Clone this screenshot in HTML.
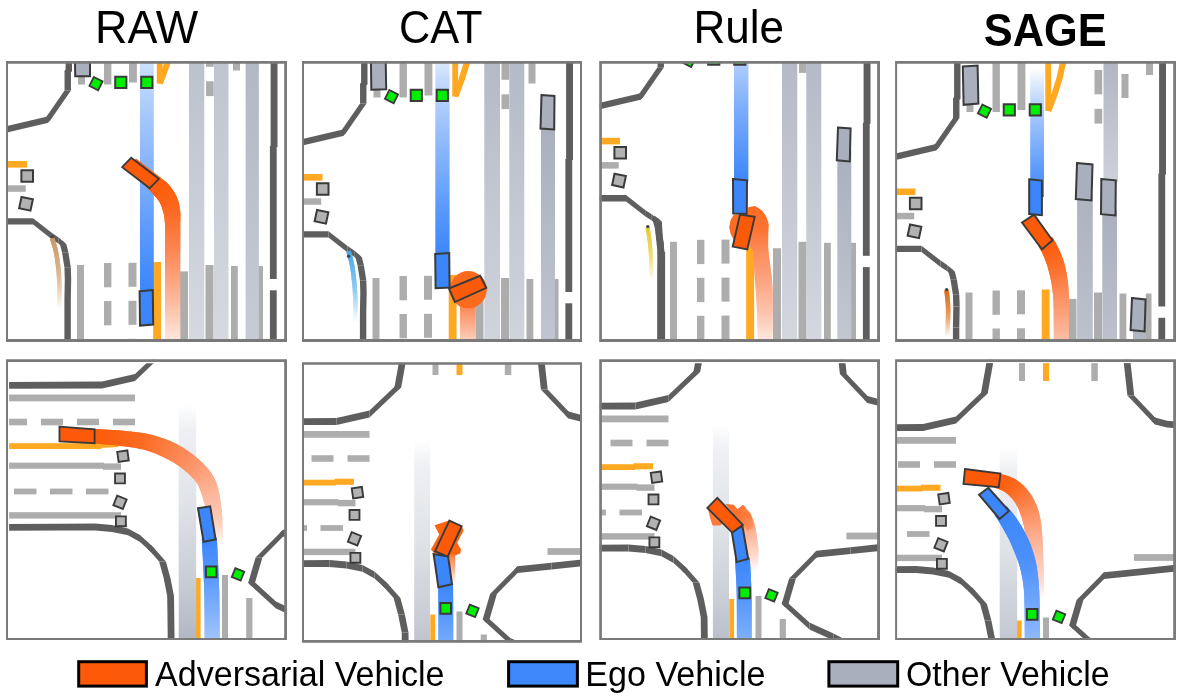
<!DOCTYPE html>
<html><head><meta charset="utf-8"><title>figure</title>
<style>html,body{margin:0;padding:0;background:#fff;}svg{display:block;}text{font-family:"Liberation Sans",sans-serif;}</style></head>
<body>
<svg width="1181" height="697" viewBox="0 0 1181 697">
<rect width="1181" height="697" fill="#fff"/>
<defs>
<clipPath id="cp1"><rect x="6.5" y="61.6" width="280" height="279.8"/></clipPath>
<linearGradient id="g1" x1="0" y1="0" x2="0" y2="1"><stop offset="0" stop-color="#bcc2cc" stop-opacity="1"/><stop offset="1" stop-color="#d6d9df" stop-opacity="1"/></linearGradient>
<linearGradient id="g2" x1="0" y1="0" x2="0" y2="1"><stop offset="0" stop-color="#bfc4ce" stop-opacity="1"/><stop offset="1" stop-color="#d6d9df" stop-opacity="1"/></linearGradient>
<linearGradient id="g3" x1="0" y1="0" x2="0" y2="1"><stop offset="0" stop-color="#b2b8c4" stop-opacity="1"/><stop offset="1" stop-color="#c6cbd4" stop-opacity="1"/></linearGradient>
<linearGradient id="g4" x1="0" y1="0" x2="0" y2="1"><stop offset="0" stop-color="#e4eefd" stop-opacity="1"/><stop offset="0.12" stop-color="#c4dafc" stop-opacity="1"/><stop offset="0.45" stop-color="#8cb8fb" stop-opacity="1"/><stop offset="0.8" stop-color="#5496fb" stop-opacity="1"/><stop offset="1" stop-color="#3c86fb" stop-opacity="1"/></linearGradient>
<clipPath id="cp2"><rect x="302.5" y="61.6" width="279" height="279.8"/></clipPath>
<linearGradient id="g5" x1="0" y1="0" x2="0" y2="1"><stop offset="0" stop-color="#b4bac6" stop-opacity="1"/><stop offset="1" stop-color="#d0d4db" stop-opacity="1"/></linearGradient>
<linearGradient id="g6" x1="0" y1="0" x2="0" y2="1"><stop offset="0" stop-color="#b4bac6" stop-opacity="1"/><stop offset="1" stop-color="#d0d4db" stop-opacity="1"/></linearGradient>
<linearGradient id="g7" x1="0" y1="0" x2="0" y2="1"><stop offset="0" stop-color="#a9afbd" stop-opacity="1"/><stop offset="1" stop-color="#c0c5cf" stop-opacity="1"/></linearGradient>
<linearGradient id="g8" x1="0" y1="0" x2="0" y2="1"><stop offset="0" stop-color="#e4eefd" stop-opacity="1"/><stop offset="0.12" stop-color="#c4dafc" stop-opacity="1"/><stop offset="0.45" stop-color="#8cb8fb" stop-opacity="1"/><stop offset="0.8" stop-color="#5496fb" stop-opacity="1"/><stop offset="1" stop-color="#3c86fb" stop-opacity="1"/></linearGradient>
<linearGradient id="g9" x1="0" y1="0" x2="0" y2="1"><stop offset="0" stop-color="#fc7c3c" stop-opacity="1"/><stop offset="0.3" stop-color="#fc9468" stop-opacity="1"/><stop offset="1" stop-color="#fdd2c0" stop-opacity="1"/></linearGradient>
<clipPath id="cp3"><rect x="599.7" y="61.6" width="279.8" height="279.8"/></clipPath>
<linearGradient id="g10" x1="0" y1="0" x2="0" y2="1"><stop offset="0" stop-color="#b4bac6" stop-opacity="1"/><stop offset="1" stop-color="#d4d7de" stop-opacity="1"/></linearGradient>
<linearGradient id="g11" x1="0" y1="0" x2="0" y2="1"><stop offset="0" stop-color="#b4bac6" stop-opacity="1"/><stop offset="1" stop-color="#d4d7de" stop-opacity="1"/></linearGradient>
<linearGradient id="g12" x1="0" y1="0" x2="0" y2="1"><stop offset="0" stop-color="#a9afbd" stop-opacity="1"/><stop offset="1" stop-color="#c2c7d0" stop-opacity="1"/></linearGradient>
<linearGradient id="g13" x1="0" y1="0" x2="0" y2="1"><stop offset="0" stop-color="#b4d0fc" stop-opacity="1"/><stop offset="0.4" stop-color="#7cacfb" stop-opacity="1"/><stop offset="1" stop-color="#3c86fb" stop-opacity="1"/></linearGradient>
<linearGradient id="g14" x1="0" y1="0" x2="0" y2="1"><stop offset="0" stop-color="#fc6a20" stop-opacity="1"/><stop offset="0.5" stop-color="#fc7432" stop-opacity="1"/><stop offset="1" stop-color="#fc8c5a" stop-opacity="1"/></linearGradient>
<clipPath id="cp4"><rect x="895.6" y="61.6" width="279.9" height="279.8"/></clipPath>
<linearGradient id="g15" x1="0" y1="0" x2="0" y2="1"><stop offset="0" stop-color="#adb3bf" stop-opacity="1"/><stop offset="1" stop-color="#bcc1cc" stop-opacity="1"/></linearGradient>
<linearGradient id="g16" x1="0" y1="0" x2="0" y2="1"><stop offset="0" stop-color="#b0b6c2" stop-opacity="1"/><stop offset="1" stop-color="#cdd1d9" stop-opacity="1"/></linearGradient>
<linearGradient id="g17" x1="0" y1="0" x2="0" y2="1"><stop offset="0" stop-color="#a9afbd" stop-opacity="1"/><stop offset="1" stop-color="#bcc1cc" stop-opacity="1"/></linearGradient>
<linearGradient id="g18" x1="0" y1="0" x2="0" y2="1"><stop offset="0" stop-color="#a9afbd" stop-opacity="1"/><stop offset="1" stop-color="#b4bac6" stop-opacity="1"/></linearGradient>
<linearGradient id="g19" x1="0" y1="0" x2="0" y2="1"><stop offset="0" stop-color="#ffffff" stop-opacity="1"/><stop offset="0.1" stop-color="#e4eefd" stop-opacity="1"/><stop offset="0.35" stop-color="#a8c8fc" stop-opacity="1"/><stop offset="0.7" stop-color="#6aa4fb" stop-opacity="1"/><stop offset="1" stop-color="#3c86fb" stop-opacity="1"/></linearGradient>
<clipPath id="cp5"><rect x="6.5" y="359.7" width="280" height="279.8"/></clipPath>
<linearGradient id="g20" x1="0" y1="0" x2="0" y2="1"><stop offset="0" stop-color="#eef0f3" stop-opacity="0"/><stop offset="0.1" stop-color="#eef0f3" stop-opacity="1"/><stop offset="0.4" stop-color="#dfe2e7" stop-opacity="1"/><stop offset="0.7" stop-color="#c8ccd4" stop-opacity="1"/><stop offset="1" stop-color="#a9afbd" stop-opacity="1"/></linearGradient>
<clipPath id="cp6"><rect x="302.5" y="362.7" width="279" height="279.6"/></clipPath>
<linearGradient id="g21" x1="0" y1="0" x2="0" y2="1"><stop offset="0" stop-color="#eef0f3" stop-opacity="0"/><stop offset="0.1" stop-color="#eef0f3" stop-opacity="1"/><stop offset="0.4" stop-color="#dfe2e7" stop-opacity="1"/><stop offset="0.7" stop-color="#c8ccd4" stop-opacity="1"/><stop offset="1" stop-color="#a9afbd" stop-opacity="1"/></linearGradient>
<linearGradient id="g22" x1="0" y1="0" x2="0" y2="1"><stop offset="0" stop-color="#fc7c40" stop-opacity="1"/><stop offset="0.45" stop-color="#fca680" stop-opacity="0.85"/><stop offset="1" stop-color="#fdd0c0" stop-opacity="0"/></linearGradient>
<clipPath id="cp7"><rect x="599.7" y="359.7" width="279.8" height="279.8"/></clipPath>
<linearGradient id="g23" x1="0" y1="0" x2="0" y2="1"><stop offset="0" stop-color="#eef0f3" stop-opacity="0"/><stop offset="0.1" stop-color="#eef0f3" stop-opacity="1"/><stop offset="0.4" stop-color="#dfe2e7" stop-opacity="1"/><stop offset="0.7" stop-color="#c8ccd4" stop-opacity="1"/><stop offset="1" stop-color="#a9afbd" stop-opacity="1"/></linearGradient>
<linearGradient id="g24" x1="0" y1="0" x2="1" y2="1"><stop offset="0" stop-color="#fc6a20" stop-opacity="1"/><stop offset="0.5" stop-color="#fc7636" stop-opacity="1"/><stop offset="1" stop-color="#fc9468" stop-opacity="1"/></linearGradient>
<clipPath id="cp8"><rect x="895.6" y="359.7" width="279.9" height="279.8"/></clipPath>
<linearGradient id="g25" x1="0" y1="0" x2="0" y2="1"><stop offset="0" stop-color="#eef0f3" stop-opacity="0"/><stop offset="0.1" stop-color="#eef0f3" stop-opacity="1"/><stop offset="0.4" stop-color="#dfe2e7" stop-opacity="1"/><stop offset="0.7" stop-color="#c8ccd4" stop-opacity="1"/><stop offset="1" stop-color="#a9afbd" stop-opacity="1"/></linearGradient>
</defs>
<g clip-path="url(#cp1)">
<g transform="translate(0,0)">
<rect x="180" y="271.4" width="8" height="108.6" fill="#adadad"/>
<rect x="205.5" y="265" width="8" height="115" fill="#adadad"/>
<rect x="231" y="266" width="6.8" height="114" fill="#adadad"/>
<rect x="257.3" y="266" width="5.7" height="114" fill="#adadad"/>
<rect x="206" y="42.5" width="7.7" height="24.3" fill="#adadad"/>
<rect x="206" y="81.3" width="7.7" height="14.8" fill="#adadad"/>
<rect x="233" y="46.5" width="7" height="24" fill="#adadad"/>
<rect x="257.5" y="20" width="7" height="27.5" fill="#adadad"/>
<rect x="78" y="76" width="7" height="8.5" fill="#adadad"/>
<rect x="77" y="265" width="7" height="115" fill="#adadad"/>
<rect x="104" y="20" width="7.4" height="64.5" fill="#adadad"/>
<rect x="129" y="20" width="7.9" height="62.5" fill="#adadad"/>
<rect x="104" y="263" width="7.4" height="24.3" fill="#adadad"/>
<rect x="128.5" y="262.8" width="8" height="24" fill="#adadad"/>
<rect x="104" y="301" width="7.4" height="24.3" fill="#adadad"/>
<rect x="128.5" y="300.8" width="8" height="24" fill="#adadad"/>
<rect x="104" y="339" width="7.4" height="24.3" fill="#adadad"/>
<rect x="128.5" y="338.8" width="8" height="24" fill="#adadad"/>
<rect x="153.2" y="262" width="7.9" height="118" fill="#ffa922"/>
<rect x="0" y="161" width="27" height="6.6" fill="#ffa922"/>
<rect x="156.8" y="20" width="5.8" height="63.5" fill="#ffa922"/>
<polyline points="177,22 174.3,36 171,51 166,67 159.8,83.5" fill="none" stroke="#ffa922" stroke-width="6.2" stroke-linejoin="miter" stroke-linecap="butt"/>
<rect x="0" y="185.3" width="25.7" height="6.5" fill="#adadad"/>
<g fill="#5e5e5e"><path d="M65.6 10L65.6 70.9L72 70.9L72 10Z"/><path d="M68.8 67.7L67.75 67.8L67.75 74.2L68.8 74.1Z"/><path d="M64.55 71L64.55 90.4L70.95 90.4L70.95 71Z"/><path d="M64.55 90.4L44.3 119.7L50.7 119.7L70.95 90.4Z"/><path d="M47.5 116.5L7 126L7 132.4L47.5 122.9Z"/><path d="M7 126L-10 130L-10 136.4L7 132.4Z"/><path d="M65.6 70.9L72 70.9L68.8 74.1L68.8 67.7Z"/><path d="M65.6 70.9L72 70.9L68.8 67.7L68.8 74.1Z"/><path d="M65.6 70.9L68.8 67.7L72 70.9L68.8 74.1Z"/><path d="M67.75 67.8L67.75 74.2L70.95 71L64.55 71Z"/><path d="M67.75 67.8L67.75 74.2L64.55 71L70.95 71Z"/><path d="M67.75 67.8L64.55 71L67.75 74.2L70.95 71Z"/><path d="M64.55 90.4L70.95 90.4L70.95 90.4L64.55 90.4Z"/><path d="M64.55 90.4L70.95 90.4L64.55 90.4L70.95 90.4Z"/><path d="M64.55 90.4L64.55 90.4L70.95 90.4L70.95 90.4Z"/><path d="M44.3 119.7L50.7 119.7L47.5 122.9L47.5 116.5Z"/><path d="M44.3 119.7L50.7 119.7L47.5 116.5L47.5 122.9Z"/><path d="M44.3 119.7L47.5 116.5L50.7 119.7L47.5 122.9Z"/><path d="M7 126L7 132.4L7 132.4L7 126Z"/><path d="M7 126L7 132.4L7 126L7 132.4Z"/><path d="M7 126L7 126L7 132.4L7 132.4Z"/></g>
<g fill="#5e5e5e"><path d="M-10 218.2L33 218.2L33 224.6L-10 224.6Z"/><path d="M33 218.2L52.1 233.1L52.1 239.5L33 224.6Z"/><path d="M52.1 233.1L58.7 237.4L58.7 243.8L52.1 239.5Z"/><path d="M58.7 237.4L63.2 241.3L63.2 247.7L58.7 243.8Z"/><path d="M60 244.5L62 252.3L68.4 252.3L66.4 244.5Z"/><path d="M62 252.3L64.4 267.2L70.8 267.2L68.4 252.3Z"/><path d="M64.4 267.2L64.8 279L71.2 279L70.8 267.2Z"/><path d="M64.8 279L64.4 300L70.8 300L71.2 279Z"/><path d="M64.4 300L64.4 390L70.8 390L70.8 300Z"/><path d="M33 218.2L33 224.6L33 224.6L33 218.2Z"/><path d="M33 218.2L33 224.6L33 218.2L33 224.6Z"/><path d="M33 218.2L33 218.2L33 224.6L33 224.6Z"/><path d="M52.1 233.1L52.1 239.5L52.1 239.5L52.1 233.1Z"/><path d="M52.1 233.1L52.1 239.5L52.1 233.1L52.1 239.5Z"/><path d="M52.1 233.1L52.1 233.1L52.1 239.5L52.1 239.5Z"/><path d="M58.7 237.4L58.7 243.8L58.7 243.8L58.7 237.4Z"/><path d="M58.7 237.4L58.7 243.8L58.7 237.4L58.7 243.8Z"/><path d="M58.7 237.4L58.7 237.4L58.7 243.8L58.7 243.8Z"/><path d="M63.2 241.3L63.2 247.7L66.4 244.5L60 244.5Z"/><path d="M63.2 241.3L63.2 247.7L60 244.5L66.4 244.5Z"/><path d="M63.2 241.3L60 244.5L63.2 247.7L66.4 244.5Z"/><path d="M62 252.3L68.4 252.3L68.4 252.3L62 252.3Z"/><path d="M62 252.3L68.4 252.3L62 252.3L68.4 252.3Z"/><path d="M62 252.3L62 252.3L68.4 252.3L68.4 252.3Z"/><path d="M64.4 267.2L70.8 267.2L70.8 267.2L64.4 267.2Z"/><path d="M64.4 267.2L70.8 267.2L64.4 267.2L70.8 267.2Z"/><path d="M64.4 267.2L64.4 267.2L70.8 267.2L70.8 267.2Z"/><path d="M64.8 279L71.2 279L71.2 279L64.8 279Z"/><path d="M64.8 279L71.2 279L64.8 279L71.2 279Z"/><path d="M64.8 279L64.8 279L71.2 279L71.2 279Z"/><path d="M64.4 300L70.8 300L70.8 300L64.4 300Z"/><path d="M64.4 300L70.8 300L64.4 300L70.8 300Z"/><path d="M64.4 300L64.4 300L70.8 300L70.8 300Z"/></g>
<rect x="270.6" y="10" width="6.9" height="137" fill="#5e5e5e"/>
<rect x="269.9" y="146" width="6.8" height="133" fill="#5e5e5e"/>
<rect x="269.9" y="290.3" width="6.8" height="99.7" fill="#5e5e5e"/>
</g>
<rect x="189" y="60" width="15.3" height="282" fill="url(#g1)"/>
<rect x="214" y="60" width="14.5" height="282" fill="url(#g2)"/>
<rect x="245.6" y="60" width="13.3" height="282" fill="url(#g3)"/>
<line x1="52" y1="238" x2="52.65" y2="240.09" stroke="#c89868" stroke-width="4.5" stroke-opacity="1"/>
<line x1="52.28" y1="238.92" x2="53.09" y2="241.48" stroke="#c99969" stroke-width="4.5" stroke-opacity="0.99"/>
<line x1="52.65" y1="240.09" x2="53.59" y2="243.04" stroke="#c99a6b" stroke-width="4.5" stroke-opacity="0.98"/>
<line x1="53.09" y1="241.48" x2="54.11" y2="244.74" stroke="#ca9b6c" stroke-width="4.5" stroke-opacity="0.97"/>
<line x1="53.59" y1="243.04" x2="54.63" y2="246.52" stroke="#cb9c6e" stroke-width="4.5" stroke-opacity="0.96"/>
<line x1="54.11" y1="244.74" x2="55.14" y2="248.35" stroke="#cc9d6f" stroke-width="4.5" stroke-opacity="0.94"/>
<line x1="54.63" y1="246.52" x2="55.6" y2="250.19" stroke="#cc9f71" stroke-width="4.5" stroke-opacity="0.93"/>
<line x1="55.14" y1="248.35" x2="56" y2="252" stroke="#cda073" stroke-width="4.5" stroke-opacity="0.92"/>
<line x1="55.6" y1="250.19" x2="56.27" y2="253.35" stroke="#cea174" stroke-width="4.5" stroke-opacity="0.9"/>
<line x1="56" y1="252" x2="56.52" y2="254.75" stroke="#cfa276" stroke-width="4.5" stroke-opacity="0.89"/>
<line x1="56.27" y1="253.35" x2="56.77" y2="256.17" stroke="#d0a377" stroke-width="4.5" stroke-opacity="0.88"/>
<line x1="56.52" y1="254.75" x2="57" y2="257.63" stroke="#d0a478" stroke-width="4.5" stroke-opacity="0.87"/>
<line x1="56.77" y1="256.17" x2="57.22" y2="259.12" stroke="#d1a57a" stroke-width="4.5" stroke-opacity="0.86"/>
<line x1="57" y1="257.63" x2="57.44" y2="260.62" stroke="#d2a67b" stroke-width="4.5" stroke-opacity="0.85"/>
<line x1="57.22" y1="259.12" x2="57.64" y2="262.16" stroke="#d2a77c" stroke-width="4.5" stroke-opacity="0.84"/>
<line x1="57.44" y1="260.62" x2="57.83" y2="263.7" stroke="#d3a87e" stroke-width="4.5" stroke-opacity="0.83"/>
<line x1="57.64" y1="262.16" x2="58.02" y2="265.27" stroke="#d4a97f" stroke-width="4.5" stroke-opacity="0.82"/>
<line x1="57.83" y1="263.7" x2="58.19" y2="266.84" stroke="#d4aa81" stroke-width="4.5" stroke-opacity="0.81"/>
<line x1="58.02" y1="265.27" x2="58.35" y2="268.42" stroke="#d5ac82" stroke-width="4.5" stroke-opacity="0.8"/>
<line x1="58.19" y1="266.84" x2="58.5" y2="270" stroke="#d6ad83" stroke-width="4.5" stroke-opacity="0.79"/>
<line x1="58.35" y1="268.42" x2="58.63" y2="271.48" stroke="#d6ae85" stroke-width="4.5" stroke-opacity="0.77"/>
<line x1="58.5" y1="270" x2="58.75" y2="272.99" stroke="#d7af86" stroke-width="4.5" stroke-opacity="0.76"/>
<line x1="58.63" y1="271.48" x2="58.86" y2="274.52" stroke="#d8b088" stroke-width="4.5" stroke-opacity="0.75"/>
<line x1="58.75" y1="272.99" x2="58.97" y2="276.07" stroke="#d9b189" stroke-width="4.5" stroke-opacity="0.73"/>
<line x1="58.86" y1="274.52" x2="59.06" y2="277.64" stroke="#d9b28a" stroke-width="4.5" stroke-opacity="0.69"/>
<line x1="58.97" y1="276.07" x2="59.15" y2="279.21" stroke="#dab38c" stroke-width="4.5" stroke-opacity="0.66"/>
<line x1="59.06" y1="277.64" x2="59.22" y2="280.79" stroke="#dbb48d" stroke-width="4.5" stroke-opacity="0.63"/>
<line x1="59.15" y1="279.21" x2="59.29" y2="282.36" stroke="#dbb58f" stroke-width="4.5" stroke-opacity="0.59"/>
<line x1="59.22" y1="280.79" x2="59.35" y2="283.93" stroke="#dcb690" stroke-width="4.5" stroke-opacity="0.56"/>
<line x1="59.29" y1="282.36" x2="59.4" y2="285.48" stroke="#ddb792" stroke-width="4.5" stroke-opacity="0.53"/>
<line x1="59.35" y1="283.93" x2="59.44" y2="287.01" stroke="#ddb893" stroke-width="4.5" stroke-opacity="0.49"/>
<line x1="59.4" y1="285.48" x2="59.48" y2="288.52" stroke="#deb994" stroke-width="4.5" stroke-opacity="0.46"/>
<line x1="59.44" y1="287.01" x2="59.5" y2="290" stroke="#dfba96" stroke-width="4.5" stroke-opacity="0.43"/>
<line x1="59.48" y1="288.52" x2="59.51" y2="291.63" stroke="#e0bb97" stroke-width="4.5" stroke-opacity="0.4"/>
<line x1="59.5" y1="290" x2="59.5" y2="293.32" stroke="#e0bc98" stroke-width="4.5" stroke-opacity="0.36"/>
<line x1="59.51" y1="291.63" x2="59.47" y2="295.06" stroke="#e1bd9a" stroke-width="4.5" stroke-opacity="0.33"/>
<line x1="59.5" y1="293.32" x2="59.43" y2="296.81" stroke="#e2bf9c" stroke-width="4.5" stroke-opacity="0.29"/>
<line x1="59.47" y1="295.06" x2="59.37" y2="298.55" stroke="#e3c09d" stroke-width="4.5" stroke-opacity="0.26"/>
<line x1="59.43" y1="296.81" x2="59.31" y2="300.25" stroke="#e3c19f" stroke-width="4.5" stroke-opacity="0.22"/>
<line x1="59.37" y1="298.55" x2="59.25" y2="301.88" stroke="#e4c2a0" stroke-width="4.5" stroke-opacity="0.18"/>
<line x1="59.31" y1="300.25" x2="59.19" y2="303.41" stroke="#e5c3a2" stroke-width="4.5" stroke-opacity="0.15"/>
<line x1="59.25" y1="301.88" x2="59.12" y2="304.81" stroke="#e6c4a3" stroke-width="4.5" stroke-opacity="0.11"/>
<line x1="59.19" y1="303.41" x2="59.07" y2="306.06" stroke="#e6c5a4" stroke-width="4.5" stroke-opacity="0.08"/>
<line x1="59.12" y1="304.81" x2="59.03" y2="307.14" stroke="#e7c6a6" stroke-width="4.5" stroke-opacity="0.05"/>
<line x1="59.07" y1="306.06" x2="59" y2="308" stroke="#e7c7a7" stroke-width="4.5" stroke-opacity="0.03"/>
<line x1="59.03" y1="307.14" x2="59" y2="308" stroke="#e8c8a8" stroke-width="4.5" stroke-opacity="0.01"/>
<rect x="140" y="42.5" width="13.8" height="249.5" fill="url(#g4)"/>
<line x1="150" y1="180" x2="151.86" y2="181.5" stroke="#fc5a08" stroke-width="15.13"/>
<line x1="150.79" y1="180.65" x2="153.13" y2="182.52" stroke="#fc5b09" stroke-width="15.43"/>
<line x1="151.86" y1="181.5" x2="154.53" y2="183.66" stroke="#fc5b0a" stroke-width="15.81"/>
<line x1="153.13" y1="182.52" x2="155.99" y2="184.87" stroke="#fc5c0b" stroke-width="16.24"/>
<line x1="154.53" y1="183.66" x2="157.44" y2="186.11" stroke="#fc5c0c" stroke-width="16.71"/>
<line x1="155.99" y1="184.87" x2="158.8" y2="187.33" stroke="#fc5d0d" stroke-width="17.19"/>
<line x1="157.44" y1="186.11" x2="160" y2="188.5" stroke="#fc5d0e" stroke-width="17.66"/>
<line x1="158.8" y1="187.33" x2="161.08" y2="189.63" stroke="#fc5e0e" stroke-width="17.99"/>
<line x1="160" y1="188.5" x2="162.14" y2="190.77" stroke="#fc5f0f" stroke-width="17.95"/>
<line x1="161.08" y1="189.63" x2="163.16" y2="191.92" stroke="#fc5f10" stroke-width="17.92"/>
<line x1="162.14" y1="190.77" x2="164.14" y2="193.09" stroke="#fc6011" stroke-width="17.88"/>
<line x1="163.16" y1="191.92" x2="165.07" y2="194.28" stroke="#fc6012" stroke-width="17.85"/>
<line x1="164.14" y1="193.09" x2="165.94" y2="195.5" stroke="#fc6112" stroke-width="17.82"/>
<line x1="165.07" y1="194.28" x2="166.76" y2="196.73" stroke="#fc6113" stroke-width="17.78"/>
<line x1="165.94" y1="195.5" x2="167.5" y2="198" stroke="#fc6214" stroke-width="17.75"/>
<line x1="166.76" y1="196.73" x2="168.26" y2="199.48" stroke="#fc6215" stroke-width="17.71"/>
<line x1="167.5" y1="198" x2="168.93" y2="200.98" stroke="#fc6316" stroke-width="17.68"/>
<line x1="168.26" y1="199.48" x2="169.52" y2="202.5" stroke="#fc6317" stroke-width="17.64"/>
<line x1="168.93" y1="200.98" x2="170.04" y2="204.07" stroke="#fc6417" stroke-width="17.6"/>
<line x1="169.52" y1="202.5" x2="170.5" y2="205.67" stroke="#fc6419" stroke-width="17.57"/>
<line x1="170.04" y1="204.07" x2="170.92" y2="207.31" stroke="#fc651b" stroke-width="17.53"/>
<line x1="170.5" y1="205.67" x2="171.3" y2="209" stroke="#fc671d" stroke-width="17.45"/>
<line x1="170.92" y1="207.31" x2="171.59" y2="210.36" stroke="#fc681f" stroke-width="17.22"/>
<line x1="171.3" y1="209" x2="171.83" y2="211.52" stroke="#fc6921" stroke-width="17.01"/>
<line x1="171.59" y1="210.36" x2="172.03" y2="212.63" stroke="#fc6a22" stroke-width="16.83"/>
<line x1="171.83" y1="211.52" x2="172.19" y2="213.81" stroke="#fc6b24" stroke-width="16.68"/>
<line x1="172.03" y1="212.63" x2="172.32" y2="215.21" stroke="#fc6b25" stroke-width="16.52"/>
<line x1="172.19" y1="213.81" x2="172.43" y2="216.95" stroke="#fc6c27" stroke-width="16.35"/>
<line x1="172.32" y1="215.21" x2="172.52" y2="219.17" stroke="#fc6d28" stroke-width="16.13"/>
<line x1="172.43" y1="216.95" x2="172.6" y2="222" stroke="#fc6f2b" stroke-width="15.86"/>
<line x1="172.52" y1="219.17" x2="172.62" y2="223.06" stroke="#fc712e" stroke-width="15.52"/>
<line x1="172.6" y1="222" x2="172.64" y2="224.19" stroke="#fc7230" stroke-width="15.26"/>
<line x1="172.62" y1="223.06" x2="172.66" y2="225.39" stroke="#fc7332" stroke-width="15.2"/>
<line x1="172.64" y1="224.19" x2="172.67" y2="226.65" stroke="#fc7333" stroke-width="15.2"/>
<line x1="172.66" y1="225.39" x2="172.68" y2="227.97" stroke="#fc7435" stroke-width="15.2"/>
<line x1="172.67" y1="226.65" x2="172.69" y2="229.34" stroke="#fc7536" stroke-width="15.2"/>
<line x1="172.68" y1="227.97" x2="172.69" y2="230.77" stroke="#fc7638" stroke-width="15.2"/>
<line x1="172.69" y1="229.34" x2="172.7" y2="232.24" stroke="#fc773a" stroke-width="15.2"/>
<line x1="172.69" y1="230.77" x2="172.7" y2="233.75" stroke="#fc783b" stroke-width="15.2"/>
<line x1="172.7" y1="232.24" x2="172.69" y2="235.3" stroke="#fc793d" stroke-width="15.2"/>
<line x1="172.7" y1="233.75" x2="172.69" y2="236.89" stroke="#fc7a3f" stroke-width="15.2"/>
<line x1="172.69" y1="235.3" x2="172.68" y2="238.5" stroke="#fc7b41" stroke-width="15.2"/>
<line x1="172.69" y1="236.89" x2="172.68" y2="240.13" stroke="#fc7c43" stroke-width="15.2"/>
<line x1="172.68" y1="238.5" x2="172.67" y2="241.79" stroke="#fc7e45" stroke-width="15.2"/>
<line x1="172.68" y1="240.13" x2="172.66" y2="243.46" stroke="#fc7f47" stroke-width="15.2"/>
<line x1="172.67" y1="241.79" x2="172.65" y2="245.14" stroke="#fc8049" stroke-width="15.2"/>
<line x1="172.66" y1="243.46" x2="172.65" y2="246.82" stroke="#fc814b" stroke-width="15.2"/>
<line x1="172.65" y1="245.14" x2="172.64" y2="248.51" stroke="#fc824d" stroke-width="15.2"/>
<line x1="172.65" y1="246.82" x2="172.63" y2="250.19" stroke="#fc834f" stroke-width="15.2"/>
<line x1="172.64" y1="248.51" x2="172.62" y2="251.87" stroke="#fc8551" stroke-width="15.2"/>
<line x1="172.63" y1="250.19" x2="172.61" y2="253.54" stroke="#fc8754" stroke-width="15.2"/>
<line x1="172.62" y1="251.87" x2="172.61" y2="255.19" stroke="#fc8856" stroke-width="15.2"/>
<line x1="172.61" y1="253.54" x2="172.6" y2="256.82" stroke="#fc8a59" stroke-width="15.2"/>
<line x1="172.61" y1="255.19" x2="172.6" y2="258.42" stroke="#fc8c5b" stroke-width="15.2"/>
<line x1="172.6" y1="256.82" x2="172.6" y2="260" stroke="#fc8d5e" stroke-width="15.2"/>
<line x1="172.6" y1="258.42" x2="172.6" y2="261.5" stroke="#fc8f60" stroke-width="15.2"/>
<line x1="172.6" y1="260" x2="172.6" y2="263.01" stroke="#fc9162" stroke-width="15.2"/>
<line x1="172.6" y1="261.5" x2="172.6" y2="264.51" stroke="#fc9265" stroke-width="15.2"/>
<line x1="172.6" y1="263.01" x2="172.6" y2="266.02" stroke="#fc9467" stroke-width="15.2"/>
<line x1="172.6" y1="264.51" x2="172.6" y2="267.54" stroke="#fc9569" stroke-width="15.2"/>
<line x1="172.6" y1="266.02" x2="172.6" y2="269.05" stroke="#fc976b" stroke-width="15.2"/>
<line x1="172.6" y1="267.54" x2="172.6" y2="270.57" stroke="#fc986e" stroke-width="15.2"/>
<line x1="172.6" y1="269.05" x2="172.6" y2="272.09" stroke="#fc9a70" stroke-width="15.2"/>
<line x1="172.6" y1="270.57" x2="172.6" y2="273.62" stroke="#fc9b72" stroke-width="15.2"/>
<line x1="172.6" y1="272.09" x2="172.6" y2="275.15" stroke="#fc9d74" stroke-width="15.2"/>
<line x1="172.6" y1="273.62" x2="172.6" y2="276.68" stroke="#fd9e77" stroke-width="15.2"/>
<line x1="172.6" y1="275.15" x2="172.6" y2="278.21" stroke="#fda079" stroke-width="15.2"/>
<line x1="172.6" y1="276.68" x2="172.6" y2="279.75" stroke="#fda27b" stroke-width="15.2"/>
<line x1="172.6" y1="278.21" x2="172.6" y2="281.29" stroke="#fda37d" stroke-width="15.2"/>
<line x1="172.6" y1="279.75" x2="172.6" y2="282.83" stroke="#fda580" stroke-width="15.2"/>
<line x1="172.6" y1="281.29" x2="172.6" y2="284.38" stroke="#fda682" stroke-width="15.2"/>
<line x1="172.6" y1="282.83" x2="172.6" y2="285.93" stroke="#fda884" stroke-width="15.2"/>
<line x1="172.6" y1="284.38" x2="172.6" y2="287.48" stroke="#fda987" stroke-width="15.2"/>
<line x1="172.6" y1="285.93" x2="172.6" y2="289.03" stroke="#fdab89" stroke-width="15.2"/>
<line x1="172.6" y1="287.48" x2="172.6" y2="290.59" stroke="#fdad8b" stroke-width="15.2"/>
<line x1="172.6" y1="289.03" x2="172.6" y2="292.15" stroke="#fdae8e" stroke-width="15.2"/>
<line x1="172.6" y1="290.59" x2="172.6" y2="293.72" stroke="#fdb090" stroke-width="15.2"/>
<line x1="172.6" y1="292.15" x2="172.6" y2="295.28" stroke="#fdb192" stroke-width="15.2"/>
<line x1="172.6" y1="293.72" x2="172.6" y2="296.85" stroke="#fdb395" stroke-width="15.2"/>
<line x1="172.6" y1="295.28" x2="172.6" y2="298.42" stroke="#fdb597" stroke-width="15.2"/>
<line x1="172.6" y1="296.85" x2="172.6" y2="300" stroke="#fdb699" stroke-width="15.2"/>
<line x1="172.6" y1="298.42" x2="172.6" y2="301.49" stroke="#fdb89c" stroke-width="15.2"/>
<line x1="172.6" y1="300" x2="172.6" y2="303.04" stroke="#fdb99e" stroke-width="15.2"/>
<line x1="172.6" y1="301.49" x2="172.6" y2="304.63" stroke="#fdbba1" stroke-width="15.2"/>
<line x1="172.6" y1="303.04" x2="172.6" y2="306.26" stroke="#fdbda3" stroke-width="15.2"/>
<line x1="172.6" y1="304.63" x2="172.6" y2="307.93" stroke="#fdbfa6" stroke-width="15.2"/>
<line x1="172.6" y1="306.26" x2="172.6" y2="309.63" stroke="#fdc1a9" stroke-width="15.2"/>
<line x1="172.6" y1="307.93" x2="172.6" y2="311.34" stroke="#fdc3ab" stroke-width="15.2"/>
<line x1="172.6" y1="309.63" x2="172.6" y2="313.08" stroke="#fdc5ae" stroke-width="15.2"/>
<line x1="172.6" y1="311.34" x2="172.6" y2="314.82" stroke="#fdc7b1" stroke-width="15.2"/>
<line x1="172.6" y1="313.08" x2="172.6" y2="316.57" stroke="#fdc9b4" stroke-width="15.2"/>
<line x1="172.6" y1="314.82" x2="172.6" y2="318.32" stroke="#fdcbb7" stroke-width="15.2"/>
<line x1="172.6" y1="316.57" x2="172.6" y2="320.06" stroke="#fdcdba" stroke-width="15.2"/>
<line x1="172.6" y1="318.32" x2="172.6" y2="321.79" stroke="#fdcfbc" stroke-width="15.2"/>
<line x1="172.6" y1="320.06" x2="172.6" y2="323.5" stroke="#fed1bf" stroke-width="15.2"/>
<line x1="172.6" y1="321.79" x2="172.6" y2="325.18" stroke="#fed3c2" stroke-width="15.2"/>
<line x1="172.6" y1="323.5" x2="172.6" y2="326.83" stroke="#fed5c5" stroke-width="15.2"/>
<line x1="172.6" y1="325.18" x2="172.6" y2="328.45" stroke="#fed7c8" stroke-width="15.2"/>
<line x1="172.6" y1="326.83" x2="172.6" y2="330.02" stroke="#fed9ca" stroke-width="15.2"/>
<line x1="172.6" y1="328.45" x2="172.6" y2="331.54" stroke="#fedbcd" stroke-width="15.2"/>
<line x1="172.6" y1="330.02" x2="172.6" y2="333" stroke="#feddd0" stroke-width="15.2"/>
<line x1="172.6" y1="331.54" x2="172.6" y2="334.41" stroke="#fedfd2" stroke-width="15.2"/>
<line x1="172.6" y1="333" x2="172.6" y2="335.74" stroke="#fee0d4" stroke-width="15.2"/>
<line x1="172.6" y1="334.41" x2="172.6" y2="337" stroke="#fee2d7" stroke-width="15.2"/>
<line x1="172.6" y1="335.74" x2="172.6" y2="338.19" stroke="#fee3d9" stroke-width="15.2"/>
<line x1="172.6" y1="337" x2="172.6" y2="339.28" stroke="#fee5db" stroke-width="15.2"/>
<line x1="172.6" y1="338.19" x2="172.6" y2="340.29" stroke="#fee6dd" stroke-width="15.2"/>
<line x1="172.6" y1="339.28" x2="172.6" y2="341.2" stroke="#fee7de" stroke-width="15.2"/>
<line x1="172.6" y1="340.29" x2="172.6" y2="342" stroke="#fee9e0" stroke-width="15.2"/>
<line x1="172.6" y1="341.2" x2="172.6" y2="342" stroke="#feeae1" stroke-width="15.2"/>
<polygon points="74.8,50 90,50 90,76.3 75.2,76.3" fill="#a9afbd" stroke="#3a3a3a" stroke-width="2" stroke-linejoin="miter"/>
<polygon points="136,158.6 161.4,178.2 158,182 133,162.5" fill="#fc5e0e"/>
<polygon points="131.2,157.7 158.8,178.8 149.7,188.3 122.2,167.2" fill="#fc5a08" stroke="#3a3a3a" stroke-width="1.9" stroke-linejoin="miter"/>
<polygon points="139.6,291.2 152.8,290 153.2,324.6 140,325.6" fill="#3c86fb" stroke="#3a3a3a" stroke-width="2" stroke-linejoin="miter"/>
<circle cx="52.3" cy="236.6" r="1.7" fill="#444"/>
<polygon points="21.4,170.2 33,170.2 33,181.8 21.4,181.8" fill="#b2b2b2" stroke="#3a3a3a" stroke-width="2" stroke-linejoin="miter"/>
<polygon points="21.53,196.92 32.88,199.33 30.47,210.68 19.12,208.27" fill="#b2b2b2" stroke="#3a3a3a" stroke-width="2" stroke-linejoin="miter"/>
<polygon points="93.86,77.01 102.59,81.46 98.14,90.19 89.41,85.74" fill="#00ee00" stroke="#3a3a3a" stroke-width="1.8" stroke-linejoin="miter"/>
<polygon points="115.2,76.7 126.4,76.7 126.4,87.9 115.2,87.9" fill="#00ee00" stroke="#3a3a3a" stroke-width="2" stroke-linejoin="miter"/>
<polygon points="141.2,76.7 152.4,76.7 152.4,87.9 141.2,87.9" fill="#00ee00" stroke="#3a3a3a" stroke-width="2" stroke-linejoin="miter"/>
</g>
<path fill-rule="evenodd" fill="#7a7a7a" d="M6 61.1H287V341.9H6ZM8 63.8H284.2V339.1H8Z"/>
<g clip-path="url(#cp2)">
<g transform="translate(295.5,13)">
<rect x="180" y="271.4" width="8" height="108.6" fill="#adadad"/>
<rect x="205.5" y="265" width="8" height="115" fill="#adadad"/>
<rect x="231" y="266" width="6.8" height="114" fill="#adadad"/>
<rect x="257.3" y="266" width="5.7" height="114" fill="#adadad"/>
<rect x="206" y="42.5" width="7.7" height="24.3" fill="#adadad"/>
<rect x="206" y="81.3" width="7.7" height="14.8" fill="#adadad"/>
<rect x="233" y="46.5" width="7" height="24" fill="#adadad"/>
<rect x="257.5" y="20" width="7" height="27.5" fill="#adadad"/>
<rect x="78" y="76" width="7" height="8.5" fill="#adadad"/>
<rect x="77" y="265" width="7" height="115" fill="#adadad"/>
<rect x="104" y="20" width="7.4" height="64.5" fill="#adadad"/>
<rect x="129" y="20" width="7.9" height="62.5" fill="#adadad"/>
<rect x="104" y="263" width="7.4" height="24.3" fill="#adadad"/>
<rect x="128.5" y="262.8" width="8" height="24" fill="#adadad"/>
<rect x="104" y="301" width="7.4" height="24.3" fill="#adadad"/>
<rect x="128.5" y="300.8" width="8" height="24" fill="#adadad"/>
<rect x="104" y="339" width="7.4" height="24.3" fill="#adadad"/>
<rect x="128.5" y="338.8" width="8" height="24" fill="#adadad"/>
<rect x="153.2" y="262" width="7.9" height="118" fill="#ffa922"/>
<rect x="0" y="161" width="27" height="6.6" fill="#ffa922"/>
<rect x="156.8" y="20" width="5.8" height="63.5" fill="#ffa922"/>
<polyline points="177,22 174.3,36 171,51 166,67 159.8,83.5" fill="none" stroke="#ffa922" stroke-width="6.2" stroke-linejoin="miter" stroke-linecap="butt"/>
<rect x="0" y="185.3" width="25.7" height="6.5" fill="#adadad"/>
<g fill="#5e5e5e"><path d="M65.6 10L65.6 70.9L72 70.9L72 10Z"/><path d="M68.8 67.7L67.75 67.8L67.75 74.2L68.8 74.1Z"/><path d="M64.55 71L64.55 90.4L70.95 90.4L70.95 71Z"/><path d="M64.55 90.4L44.3 119.7L50.7 119.7L70.95 90.4Z"/><path d="M47.5 116.5L7 126L7 132.4L47.5 122.9Z"/><path d="M7 126L-10 130L-10 136.4L7 132.4Z"/><path d="M65.6 70.9L72 70.9L68.8 74.1L68.8 67.7Z"/><path d="M65.6 70.9L72 70.9L68.8 67.7L68.8 74.1Z"/><path d="M65.6 70.9L68.8 67.7L72 70.9L68.8 74.1Z"/><path d="M67.75 67.8L67.75 74.2L70.95 71L64.55 71Z"/><path d="M67.75 67.8L67.75 74.2L64.55 71L70.95 71Z"/><path d="M67.75 67.8L64.55 71L67.75 74.2L70.95 71Z"/><path d="M64.55 90.4L70.95 90.4L70.95 90.4L64.55 90.4Z"/><path d="M64.55 90.4L70.95 90.4L64.55 90.4L70.95 90.4Z"/><path d="M64.55 90.4L64.55 90.4L70.95 90.4L70.95 90.4Z"/><path d="M44.3 119.7L50.7 119.7L47.5 122.9L47.5 116.5Z"/><path d="M44.3 119.7L50.7 119.7L47.5 116.5L47.5 122.9Z"/><path d="M44.3 119.7L47.5 116.5L50.7 119.7L47.5 122.9Z"/><path d="M7 126L7 132.4L7 132.4L7 126Z"/><path d="M7 126L7 132.4L7 126L7 132.4Z"/><path d="M7 126L7 126L7 132.4L7 132.4Z"/></g>
<g fill="#5e5e5e"><path d="M-10 218.2L33 218.2L33 224.6L-10 224.6Z"/><path d="M33 218.2L52.1 233.1L52.1 239.5L33 224.6Z"/><path d="M52.1 233.1L58.7 237.4L58.7 243.8L52.1 239.5Z"/><path d="M58.7 237.4L63.2 241.3L63.2 247.7L58.7 243.8Z"/><path d="M60 244.5L62 252.3L68.4 252.3L66.4 244.5Z"/><path d="M62 252.3L64.4 267.2L70.8 267.2L68.4 252.3Z"/><path d="M64.4 267.2L64.8 279L71.2 279L70.8 267.2Z"/><path d="M64.8 279L64.4 300L70.8 300L71.2 279Z"/><path d="M64.4 300L64.4 390L70.8 390L70.8 300Z"/><path d="M33 218.2L33 224.6L33 224.6L33 218.2Z"/><path d="M33 218.2L33 224.6L33 218.2L33 224.6Z"/><path d="M33 218.2L33 218.2L33 224.6L33 224.6Z"/><path d="M52.1 233.1L52.1 239.5L52.1 239.5L52.1 233.1Z"/><path d="M52.1 233.1L52.1 239.5L52.1 233.1L52.1 239.5Z"/><path d="M52.1 233.1L52.1 233.1L52.1 239.5L52.1 239.5Z"/><path d="M58.7 237.4L58.7 243.8L58.7 243.8L58.7 237.4Z"/><path d="M58.7 237.4L58.7 243.8L58.7 237.4L58.7 243.8Z"/><path d="M58.7 237.4L58.7 237.4L58.7 243.8L58.7 243.8Z"/><path d="M63.2 241.3L63.2 247.7L66.4 244.5L60 244.5Z"/><path d="M63.2 241.3L63.2 247.7L60 244.5L66.4 244.5Z"/><path d="M63.2 241.3L60 244.5L63.2 247.7L66.4 244.5Z"/><path d="M62 252.3L68.4 252.3L68.4 252.3L62 252.3Z"/><path d="M62 252.3L68.4 252.3L62 252.3L68.4 252.3Z"/><path d="M62 252.3L62 252.3L68.4 252.3L68.4 252.3Z"/><path d="M64.4 267.2L70.8 267.2L70.8 267.2L64.4 267.2Z"/><path d="M64.4 267.2L70.8 267.2L64.4 267.2L70.8 267.2Z"/><path d="M64.4 267.2L64.4 267.2L70.8 267.2L70.8 267.2Z"/><path d="M64.8 279L71.2 279L71.2 279L64.8 279Z"/><path d="M64.8 279L71.2 279L64.8 279L71.2 279Z"/><path d="M64.8 279L64.8 279L71.2 279L71.2 279Z"/><path d="M64.4 300L70.8 300L70.8 300L64.4 300Z"/><path d="M64.4 300L70.8 300L64.4 300L70.8 300Z"/><path d="M64.4 300L64.4 300L70.8 300L70.8 300Z"/></g>
<rect x="270.6" y="10" width="6.9" height="137" fill="#5e5e5e"/>
<rect x="269.9" y="146" width="6.8" height="133" fill="#5e5e5e"/>
<rect x="269.9" y="290.3" width="6.8" height="99.7" fill="#5e5e5e"/>
</g>
<rect x="484.3" y="60" width="15.7" height="282" fill="url(#g5)"/>
<rect x="509.3" y="60" width="15" height="282" fill="url(#g6)"/>
<rect x="541" y="120" width="14" height="222" fill="url(#g7)"/>
<line x1="348.5" y1="251" x2="349.06" y2="253.05" stroke="#49a8e8" stroke-width="4.5" stroke-opacity="1"/>
<line x1="348.74" y1="251.91" x2="349.44" y2="254.41" stroke="#4aa9e8" stroke-width="4.5" stroke-opacity="0.99"/>
<line x1="349.06" y1="253.05" x2="349.87" y2="255.93" stroke="#4caae9" stroke-width="4.5" stroke-opacity="0.98"/>
<line x1="349.44" y1="254.41" x2="350.32" y2="257.6" stroke="#4fabe9" stroke-width="4.5" stroke-opacity="0.97"/>
<line x1="349.87" y1="255.93" x2="350.78" y2="259.37" stroke="#51ade9" stroke-width="4.5" stroke-opacity="0.96"/>
<line x1="350.32" y1="257.6" x2="351.22" y2="261.22" stroke="#54aeea" stroke-width="4.5" stroke-opacity="0.95"/>
<line x1="350.78" y1="259.37" x2="351.64" y2="263.1" stroke="#57b0ea" stroke-width="4.5" stroke-opacity="0.93"/>
<line x1="351.22" y1="261.22" x2="352" y2="265" stroke="#5ab1eb" stroke-width="4.5" stroke-opacity="0.92"/>
<line x1="351.64" y1="263.1" x2="352.23" y2="266.34" stroke="#5db3eb" stroke-width="4.5" stroke-opacity="0.91"/>
<line x1="352" y1="265" x2="352.45" y2="267.75" stroke="#60b4eb" stroke-width="4.5" stroke-opacity="0.89"/>
<line x1="352.23" y1="266.34" x2="352.68" y2="269.21" stroke="#62b5ec" stroke-width="4.5" stroke-opacity="0.88"/>
<line x1="352.45" y1="267.75" x2="352.89" y2="270.71" stroke="#64b6ec" stroke-width="4.5" stroke-opacity="0.87"/>
<line x1="352.68" y1="269.21" x2="353.1" y2="272.26" stroke="#66b7ec" stroke-width="4.5" stroke-opacity="0.86"/>
<line x1="352.89" y1="270.71" x2="353.31" y2="273.83" stroke="#69b8ed" stroke-width="4.5" stroke-opacity="0.85"/>
<line x1="353.1" y1="272.26" x2="353.5" y2="275.43" stroke="#6bbaed" stroke-width="4.5" stroke-opacity="0.84"/>
<line x1="353.31" y1="273.83" x2="353.69" y2="277.03" stroke="#6ebbed" stroke-width="4.5" stroke-opacity="0.83"/>
<line x1="353.5" y1="275.43" x2="353.87" y2="278.65" stroke="#70bcee" stroke-width="4.5" stroke-opacity="0.82"/>
<line x1="353.69" y1="277.03" x2="354.05" y2="280.26" stroke="#73bdee" stroke-width="4.5" stroke-opacity="0.81"/>
<line x1="353.87" y1="278.65" x2="354.21" y2="281.86" stroke="#75bfee" stroke-width="4.5" stroke-opacity="0.8"/>
<line x1="354.05" y1="280.26" x2="354.36" y2="283.45" stroke="#78c0ef" stroke-width="4.5" stroke-opacity="0.79"/>
<line x1="354.21" y1="281.86" x2="354.5" y2="285" stroke="#7ac1ef" stroke-width="4.5" stroke-opacity="0.77"/>
<line x1="354.36" y1="283.45" x2="354.63" y2="286.55" stroke="#7dc2f0" stroke-width="4.5" stroke-opacity="0.76"/>
<line x1="354.5" y1="285" x2="354.75" y2="288.11" stroke="#7fc4f0" stroke-width="4.5" stroke-opacity="0.75"/>
<line x1="354.63" y1="286.55" x2="354.86" y2="289.68" stroke="#82c5f0" stroke-width="4.5" stroke-opacity="0.73"/>
<line x1="354.75" y1="288.11" x2="354.97" y2="291.25" stroke="#84c6f1" stroke-width="4.5" stroke-opacity="0.69"/>
<line x1="354.86" y1="289.68" x2="355.06" y2="292.83" stroke="#87c7f1" stroke-width="4.5" stroke-opacity="0.66"/>
<line x1="354.97" y1="291.25" x2="355.15" y2="294.4" stroke="#89c9f1" stroke-width="4.5" stroke-opacity="0.63"/>
<line x1="355.06" y1="292.83" x2="355.22" y2="295.97" stroke="#8ccaf2" stroke-width="4.5" stroke-opacity="0.59"/>
<line x1="355.15" y1="294.4" x2="355.29" y2="297.53" stroke="#8ecbf2" stroke-width="4.5" stroke-opacity="0.56"/>
<line x1="355.22" y1="295.97" x2="355.35" y2="299.07" stroke="#90ccf2" stroke-width="4.5" stroke-opacity="0.53"/>
<line x1="355.29" y1="297.53" x2="355.4" y2="300.59" stroke="#93cdf3" stroke-width="4.5" stroke-opacity="0.5"/>
<line x1="355.35" y1="299.07" x2="355.44" y2="302.09" stroke="#95cff3" stroke-width="4.5" stroke-opacity="0.46"/>
<line x1="355.4" y1="300.59" x2="355.48" y2="303.56" stroke="#98d0f3" stroke-width="4.5" stroke-opacity="0.43"/>
<line x1="355.44" y1="302.09" x2="355.5" y2="305" stroke="#9ad1f4" stroke-width="4.5" stroke-opacity="0.4"/>
<line x1="355.48" y1="303.56" x2="355.51" y2="306.72" stroke="#9cd2f4" stroke-width="4.5" stroke-opacity="0.37"/>
<line x1="355.5" y1="305" x2="355.49" y2="308.5" stroke="#9fd3f4" stroke-width="4.5" stroke-opacity="0.34"/>
<line x1="355.51" y1="306.72" x2="355.46" y2="310.31" stroke="#a1d5f5" stroke-width="4.5" stroke-opacity="0.3"/>
<line x1="355.49" y1="308.5" x2="355.41" y2="312.12" stroke="#a4d6f5" stroke-width="4.5" stroke-opacity="0.26"/>
<line x1="355.46" y1="310.31" x2="355.35" y2="313.89" stroke="#a7d8f6" stroke-width="4.5" stroke-opacity="0.23"/>
<line x1="355.41" y1="312.12" x2="355.28" y2="315.59" stroke="#aad9f6" stroke-width="4.5" stroke-opacity="0.19"/>
<line x1="355.35" y1="313.89" x2="355.21" y2="317.2" stroke="#addaf6" stroke-width="4.5" stroke-opacity="0.15"/>
<line x1="355.28" y1="315.59" x2="355.14" y2="318.67" stroke="#afdcf7" stroke-width="4.5" stroke-opacity="0.12"/>
<line x1="355.21" y1="317.2" x2="355.08" y2="319.98" stroke="#b2ddf7" stroke-width="4.5" stroke-opacity="0.09"/>
<line x1="355.14" y1="318.67" x2="355.03" y2="321.1" stroke="#b4def7" stroke-width="4.5" stroke-opacity="0.06"/>
<line x1="355.08" y1="319.98" x2="355" y2="322" stroke="#b6dff8" stroke-width="4.5" stroke-opacity="0.03"/>
<line x1="355.03" y1="321.1" x2="355" y2="322" stroke="#b7e0f8" stroke-width="4.5" stroke-opacity="0.01"/>
<rect x="435.3" y="55.5" width="14.3" height="200.5" fill="url(#g8)"/>
<rect x="460" y="300" width="15.7" height="42" fill="url(#g9)"/>
<circle cx="468.2" cy="289.7" r="18.6" fill="#fc6a1e"/>
<polygon points="370.8,50 385.5,50 386.2,89.2 371.3,89.8" fill="#a9afbd" stroke="#3a3a3a" stroke-width="2" stroke-linejoin="miter"/>
<polygon points="541.5,95 554.5,96 554.2,129.5 540.5,128.5" fill="#a9afbd" stroke="#3a3a3a" stroke-width="2" stroke-linejoin="miter"/>
<polygon points="448.9,288.5 480.2,275.8 486.3,287.9 454.9,302" fill="#fc5a08" stroke="#3a3a3a" stroke-width="1.9" stroke-linejoin="miter"/>
<polygon points="435.2,254 449.2,253 449.6,287.6 435.6,288.2" fill="#3c86fb" stroke="#3a3a3a" stroke-width="2" stroke-linejoin="miter"/>
<circle cx="348.6" cy="256.2" r="1.7" fill="#3a4450"/>
<polygon points="316.9,183.2 328.5,183.2 328.5,194.8 316.9,194.8" fill="#b2b2b2" stroke="#3a3a3a" stroke-width="2" stroke-linejoin="miter"/>
<polygon points="317.03,209.92 328.38,212.33 325.97,223.68 314.62,221.27" fill="#b2b2b2" stroke="#3a3a3a" stroke-width="2" stroke-linejoin="miter"/>
<polygon points="389.36,90.01 398.09,94.46 393.64,103.19 384.91,98.74" fill="#00ee00" stroke="#3a3a3a" stroke-width="1.8" stroke-linejoin="miter"/>
<polygon points="410.7,89.7 421.9,89.7 421.9,100.9 410.7,100.9" fill="#00ee00" stroke="#3a3a3a" stroke-width="2" stroke-linejoin="miter"/>
<polygon points="436.7,89.7 447.9,89.7 447.9,100.9 436.7,100.9" fill="#00ee00" stroke="#3a3a3a" stroke-width="2" stroke-linejoin="miter"/>
</g>
<path fill-rule="evenodd" fill="#7a7a7a" d="M302 61.1H582V341.9H302ZM304 63.8H580V339.1H304Z"/>
<g clip-path="url(#cp3)">
<g transform="translate(593,-23.2)">
<rect x="180" y="271.4" width="8" height="108.6" fill="#adadad"/>
<rect x="205.5" y="265" width="8" height="115" fill="#adadad"/>
<rect x="231" y="266" width="6.8" height="114" fill="#adadad"/>
<rect x="257.3" y="266" width="5.7" height="114" fill="#adadad"/>
<rect x="206" y="42.5" width="7.7" height="24.3" fill="#adadad"/>
<rect x="206" y="81.3" width="7.7" height="14.8" fill="#adadad"/>
<rect x="233" y="46.5" width="7" height="24" fill="#adadad"/>
<rect x="257.5" y="20" width="7" height="27.5" fill="#adadad"/>
<rect x="78" y="76" width="7" height="8.5" fill="#adadad"/>
<rect x="77" y="265" width="7" height="115" fill="#adadad"/>
<rect x="104" y="20" width="7.4" height="64.5" fill="#adadad"/>
<rect x="129" y="20" width="7.9" height="62.5" fill="#adadad"/>
<rect x="104" y="263" width="7.4" height="24.3" fill="#adadad"/>
<rect x="128.5" y="262.8" width="8" height="24" fill="#adadad"/>
<rect x="104" y="301" width="7.4" height="24.3" fill="#adadad"/>
<rect x="128.5" y="300.8" width="8" height="24" fill="#adadad"/>
<rect x="104" y="339" width="7.4" height="24.3" fill="#adadad"/>
<rect x="128.5" y="338.8" width="8" height="24" fill="#adadad"/>
<rect x="153.2" y="262" width="7.9" height="118" fill="#ffa922"/>
<rect x="0" y="161" width="27" height="6.6" fill="#ffa922"/>
<rect x="156.8" y="20" width="5.8" height="63.5" fill="#ffa922"/>
<polyline points="177,22 174.3,36 171,51 166,67 159.8,83.5" fill="none" stroke="#ffa922" stroke-width="6.2" stroke-linejoin="miter" stroke-linecap="butt"/>
<rect x="0" y="185.3" width="25.7" height="6.5" fill="#adadad"/>
<g fill="#5e5e5e"><path d="M65.6 10L65.6 70.9L72 70.9L72 10Z"/><path d="M68.8 67.7L67.75 67.8L67.75 74.2L68.8 74.1Z"/><path d="M64.55 71L64.55 90.4L70.95 90.4L70.95 71Z"/><path d="M64.55 90.4L44.3 119.7L50.7 119.7L70.95 90.4Z"/><path d="M47.5 116.5L7 126L7 132.4L47.5 122.9Z"/><path d="M7 126L-10 130L-10 136.4L7 132.4Z"/><path d="M65.6 70.9L72 70.9L68.8 74.1L68.8 67.7Z"/><path d="M65.6 70.9L72 70.9L68.8 67.7L68.8 74.1Z"/><path d="M65.6 70.9L68.8 67.7L72 70.9L68.8 74.1Z"/><path d="M67.75 67.8L67.75 74.2L70.95 71L64.55 71Z"/><path d="M67.75 67.8L67.75 74.2L64.55 71L70.95 71Z"/><path d="M67.75 67.8L64.55 71L67.75 74.2L70.95 71Z"/><path d="M64.55 90.4L70.95 90.4L70.95 90.4L64.55 90.4Z"/><path d="M64.55 90.4L70.95 90.4L64.55 90.4L70.95 90.4Z"/><path d="M64.55 90.4L64.55 90.4L70.95 90.4L70.95 90.4Z"/><path d="M44.3 119.7L50.7 119.7L47.5 122.9L47.5 116.5Z"/><path d="M44.3 119.7L50.7 119.7L47.5 116.5L47.5 122.9Z"/><path d="M44.3 119.7L47.5 116.5L50.7 119.7L47.5 122.9Z"/><path d="M7 126L7 132.4L7 132.4L7 126Z"/><path d="M7 126L7 132.4L7 126L7 132.4Z"/><path d="M7 126L7 126L7 132.4L7 132.4Z"/></g>
<g fill="#5e5e5e"><path d="M-10 218.2L33 218.2L33 224.6L-10 224.6Z"/><path d="M33 218.2L52.1 233.1L52.1 239.5L33 224.6Z"/><path d="M52.1 233.1L58.7 237.4L58.7 243.8L52.1 239.5Z"/><path d="M58.7 237.4L63.2 241.3L63.2 247.7L58.7 243.8Z"/><path d="M60 244.5L62 252.3L68.4 252.3L66.4 244.5Z"/><path d="M62 252.3L64.4 267.2L70.8 267.2L68.4 252.3Z"/><path d="M64.4 267.2L64.8 279L71.2 279L70.8 267.2Z"/><path d="M64.8 279L64.4 300L70.8 300L71.2 279Z"/><path d="M64.4 300L64.4 390L70.8 390L70.8 300Z"/><path d="M33 218.2L33 224.6L33 224.6L33 218.2Z"/><path d="M33 218.2L33 224.6L33 218.2L33 224.6Z"/><path d="M33 218.2L33 218.2L33 224.6L33 224.6Z"/><path d="M52.1 233.1L52.1 239.5L52.1 239.5L52.1 233.1Z"/><path d="M52.1 233.1L52.1 239.5L52.1 233.1L52.1 239.5Z"/><path d="M52.1 233.1L52.1 233.1L52.1 239.5L52.1 239.5Z"/><path d="M58.7 237.4L58.7 243.8L58.7 243.8L58.7 237.4Z"/><path d="M58.7 237.4L58.7 243.8L58.7 237.4L58.7 243.8Z"/><path d="M58.7 237.4L58.7 237.4L58.7 243.8L58.7 243.8Z"/><path d="M63.2 241.3L63.2 247.7L66.4 244.5L60 244.5Z"/><path d="M63.2 241.3L63.2 247.7L60 244.5L66.4 244.5Z"/><path d="M63.2 241.3L60 244.5L63.2 247.7L66.4 244.5Z"/><path d="M62 252.3L68.4 252.3L68.4 252.3L62 252.3Z"/><path d="M62 252.3L68.4 252.3L62 252.3L68.4 252.3Z"/><path d="M62 252.3L62 252.3L68.4 252.3L68.4 252.3Z"/><path d="M64.4 267.2L70.8 267.2L70.8 267.2L64.4 267.2Z"/><path d="M64.4 267.2L70.8 267.2L64.4 267.2L70.8 267.2Z"/><path d="M64.4 267.2L64.4 267.2L70.8 267.2L70.8 267.2Z"/><path d="M64.8 279L71.2 279L71.2 279L64.8 279Z"/><path d="M64.8 279L71.2 279L64.8 279L71.2 279Z"/><path d="M64.8 279L64.8 279L71.2 279L71.2 279Z"/><path d="M64.4 300L70.8 300L70.8 300L64.4 300Z"/><path d="M64.4 300L70.8 300L64.4 300L70.8 300Z"/><path d="M64.4 300L64.4 300L70.8 300L70.8 300Z"/></g>
<rect x="270.6" y="10" width="6.9" height="137" fill="#5e5e5e"/>
<rect x="269.9" y="146" width="6.8" height="133" fill="#5e5e5e"/>
<rect x="269.9" y="290.3" width="6.8" height="99.7" fill="#5e5e5e"/>
</g>
<rect x="657.4" y="252" width="7.7" height="93" fill="#5e5e5e"/>
<g fill="#5e5e5e"><path d="M654.3 215.4L658.4 218.5L658.4 225.5L654.3 222.4Z"/><path d="M654.9 222L655.8 236.6L662.8 236.6L661.9 222Z"/><path d="M655.8 236.6L657.7 253.4L664.7 253.4L662.8 236.6Z"/><path d="M658.4 218.5L658.4 225.5L661.9 222L654.9 222Z"/><path d="M658.4 218.5L658.4 225.5L654.9 222L661.9 222Z"/><path d="M658.4 218.5L654.9 222L658.4 225.5L661.9 222Z"/><path d="M655.8 236.6L662.8 236.6L662.8 236.6L655.8 236.6Z"/><path d="M655.8 236.6L662.8 236.6L655.8 236.6L662.8 236.6Z"/><path d="M655.8 236.6L655.8 236.6L662.8 236.6L662.8 236.6Z"/></g>
<rect x="782" y="60" width="15.3" height="282" fill="url(#g10)"/>
<rect x="806.3" y="60" width="15" height="282" fill="url(#g11)"/>
<rect x="837.3" y="150" width="14" height="192" fill="url(#g12)"/>
<line x1="647.5" y1="227" x2="647.87" y2="229.22" stroke="#e4cc31" stroke-width="4" stroke-opacity="0.99"/>
<line x1="647.66" y1="227.97" x2="648.13" y2="230.7" stroke="#e4cd33" stroke-width="4" stroke-opacity="0.98"/>
<line x1="647.87" y1="229.22" x2="648.41" y2="232.38" stroke="#e5ce36" stroke-width="4" stroke-opacity="0.97"/>
<line x1="648.13" y1="230.7" x2="648.7" y2="234.19" stroke="#e5ce39" stroke-width="4" stroke-opacity="0.95"/>
<line x1="648.41" y1="232.38" x2="648.99" y2="236.09" stroke="#e6cf3c" stroke-width="4" stroke-opacity="0.93"/>
<line x1="648.7" y1="234.19" x2="649.26" y2="238.05" stroke="#e6d040" stroke-width="4" stroke-opacity="0.91"/>
<line x1="648.99" y1="236.09" x2="649.5" y2="240" stroke="#e7d144" stroke-width="4" stroke-opacity="0.89"/>
<line x1="649.26" y1="238.05" x2="649.65" y2="241.31" stroke="#e8d248" stroke-width="4" stroke-opacity="0.86"/>
<line x1="649.5" y1="240" x2="649.79" y2="242.66" stroke="#e8d34b" stroke-width="4" stroke-opacity="0.84"/>
<line x1="649.65" y1="241.31" x2="649.94" y2="244.05" stroke="#e9d44e" stroke-width="4" stroke-opacity="0.83"/>
<line x1="649.79" y1="242.66" x2="650.08" y2="245.48" stroke="#e9d550" stroke-width="4" stroke-opacity="0.81"/>
<line x1="649.94" y1="244.05" x2="650.22" y2="246.94" stroke="#e9d553" stroke-width="4" stroke-opacity="0.8"/>
<line x1="650.08" y1="245.48" x2="650.36" y2="248.44" stroke="#ead656" stroke-width="4" stroke-opacity="0.78"/>
<line x1="650.22" y1="246.94" x2="650.49" y2="249.96" stroke="#ead759" stroke-width="4" stroke-opacity="0.76"/>
<line x1="650.36" y1="248.44" x2="650.61" y2="251.52" stroke="#ebd85c" stroke-width="4" stroke-opacity="0.75"/>
<line x1="650.49" y1="249.96" x2="650.72" y2="253.1" stroke="#ebd95f" stroke-width="4" stroke-opacity="0.73"/>
<line x1="650.61" y1="251.52" x2="650.83" y2="254.71" stroke="#ecd962" stroke-width="4" stroke-opacity="0.71"/>
<line x1="650.72" y1="253.1" x2="650.92" y2="256.34" stroke="#ecda65" stroke-width="4" stroke-opacity="0.69"/>
<line x1="650.83" y1="254.71" x2="651" y2="258" stroke="#eddb68" stroke-width="4" stroke-opacity="0.64"/>
<line x1="650.92" y1="256.34" x2="651.06" y2="259.5" stroke="#eddc6b" stroke-width="4" stroke-opacity="0.6"/>
<line x1="651" y1="258" x2="651.11" y2="261.13" stroke="#eedd6e" stroke-width="4" stroke-opacity="0.56"/>
<line x1="651.06" y1="259.5" x2="651.15" y2="262.85" stroke="#eede72" stroke-width="4" stroke-opacity="0.52"/>
<line x1="651.11" y1="261.13" x2="651.18" y2="264.64" stroke="#efdf75" stroke-width="4" stroke-opacity="0.47"/>
<line x1="651.15" y1="262.85" x2="651.21" y2="266.46" stroke="#efdf78" stroke-width="4" stroke-opacity="0.43"/>
<line x1="651.18" y1="264.64" x2="651.23" y2="268.3" stroke="#f0e07c" stroke-width="4" stroke-opacity="0.38"/>
<line x1="651.21" y1="266.46" x2="651.24" y2="270.12" stroke="#f0e17f" stroke-width="4" stroke-opacity="0.33"/>
<line x1="651.23" y1="268.3" x2="651.26" y2="271.9" stroke="#f1e283" stroke-width="4" stroke-opacity="0.28"/>
<line x1="651.24" y1="270.12" x2="651.26" y2="273.6" stroke="#f1e386" stroke-width="4" stroke-opacity="0.24"/>
<line x1="651.26" y1="271.9" x2="651.27" y2="275.2" stroke="#f2e48a" stroke-width="4" stroke-opacity="0.19"/>
<line x1="651.26" y1="273.6" x2="651.28" y2="276.67" stroke="#f2e58d" stroke-width="4" stroke-opacity="0.15"/>
<line x1="651.27" y1="275.2" x2="651.28" y2="277.98" stroke="#f3e690" stroke-width="4" stroke-opacity="0.11"/>
<line x1="651.28" y1="276.67" x2="651.29" y2="279.1" stroke="#f3e793" stroke-width="4" stroke-opacity="0.07"/>
<line x1="651.28" y1="277.98" x2="651.3" y2="280" stroke="#f4e795" stroke-width="4" stroke-opacity="0.04"/>
<line x1="651.29" y1="279.1" x2="651.3" y2="280" stroke="#f4e897" stroke-width="4" stroke-opacity="0.01"/>
<rect x="734" y="60" width="14.4" height="122" fill="url(#g13)"/>
<line x1="759.8" y1="240" x2="759.95" y2="241.96" stroke="#fc8450" stroke-width="14.82"/>
<line x1="759.87" y1="240.87" x2="760.05" y2="243.24" stroke="#fc8551" stroke-width="14.88"/>
<line x1="759.95" y1="241.96" x2="760.16" y2="244.68" stroke="#fc8653" stroke-width="14.94"/>
<line x1="760.05" y1="243.24" x2="760.27" y2="246.25" stroke="#fc8754" stroke-width="15.01"/>
<line x1="760.16" y1="244.68" x2="760.4" y2="247.92" stroke="#fc8855" stroke-width="15.09"/>
<line x1="760.27" y1="246.25" x2="760.54" y2="249.66" stroke="#fc8a57" stroke-width="15.18"/>
<line x1="760.4" y1="247.92" x2="760.69" y2="251.44" stroke="#fc8b59" stroke-width="15.27"/>
<line x1="760.54" y1="249.66" x2="760.84" y2="253.23" stroke="#fc8c5a" stroke-width="15.37"/>
<line x1="760.69" y1="251.44" x2="761" y2="255" stroke="#fc8e5d" stroke-width="15.47"/>
<line x1="760.84" y1="253.23" x2="761.13" y2="256.36" stroke="#fc8f5f" stroke-width="15.56"/>
<line x1="761" y1="255" x2="761.27" y2="257.75" stroke="#fc9061" stroke-width="15.65"/>
<line x1="761.13" y1="256.36" x2="761.42" y2="259.17" stroke="#fc9163" stroke-width="15.72"/>
<line x1="761.27" y1="257.75" x2="761.57" y2="260.62" stroke="#fc9364" stroke-width="15.8"/>
<line x1="761.42" y1="259.17" x2="761.73" y2="262.1" stroke="#fc9466" stroke-width="15.87"/>
<line x1="761.57" y1="260.62" x2="761.89" y2="263.61" stroke="#fc9568" stroke-width="15.95"/>
<line x1="761.73" y1="262.1" x2="762.06" y2="265.15" stroke="#fc966a" stroke-width="16.03"/>
<line x1="761.89" y1="263.61" x2="762.22" y2="266.72" stroke="#fc976c" stroke-width="16.12"/>
<line x1="762.06" y1="265.15" x2="762.39" y2="268.31" stroke="#fc986e" stroke-width="16.2"/>
<line x1="762.22" y1="266.72" x2="762.55" y2="269.94" stroke="#fc9a70" stroke-width="16.29"/>
<line x1="762.39" y1="268.31" x2="762.71" y2="271.6" stroke="#fc9b72" stroke-width="16.37"/>
<line x1="762.55" y1="269.94" x2="762.86" y2="273.28" stroke="#fc9c74" stroke-width="16.46"/>
<line x1="762.71" y1="271.6" x2="763" y2="275" stroke="#fc9e76" stroke-width="16.55"/>
<line x1="762.86" y1="273.28" x2="763.11" y2="276.39" stroke="#fc9f78" stroke-width="16.65"/>
<line x1="763" y1="275" x2="763.23" y2="277.77" stroke="#fca07a" stroke-width="16.73"/>
<line x1="763.11" y1="276.39" x2="763.34" y2="279.14" stroke="#fca17c" stroke-width="16.8"/>
<line x1="763.23" y1="277.77" x2="763.45" y2="280.5" stroke="#fca37e" stroke-width="16.88"/>
<line x1="763.34" y1="279.14" x2="763.56" y2="281.87" stroke="#fca480" stroke-width="16.95"/>
<line x1="763.45" y1="280.5" x2="763.67" y2="283.26" stroke="#fca582" stroke-width="16.98"/>
<line x1="763.56" y1="281.87" x2="763.78" y2="284.68" stroke="#fca784" stroke-width="16.92"/>
<line x1="763.67" y1="283.26" x2="763.89" y2="286.12" stroke="#fca886" stroke-width="16.86"/>
<line x1="763.78" y1="284.68" x2="763.99" y2="287.62" stroke="#fca988" stroke-width="16.8"/>
<line x1="763.89" y1="286.12" x2="764.09" y2="289.16" stroke="#fcab8a" stroke-width="16.74"/>
<line x1="763.99" y1="287.62" x2="764.19" y2="290.76" stroke="#fcac8c" stroke-width="16.68"/>
<line x1="764.09" y1="289.16" x2="764.28" y2="292.44" stroke="#fcae8e" stroke-width="16.61"/>
<line x1="764.19" y1="290.76" x2="764.37" y2="294.19" stroke="#fcaf90" stroke-width="16.54"/>
<line x1="764.28" y1="292.44" x2="764.45" y2="296.03" stroke="#fcb193" stroke-width="16.47"/>
<line x1="764.37" y1="294.19" x2="764.53" y2="297.96" stroke="#fdb395" stroke-width="16.4"/>
<line x1="764.45" y1="296.03" x2="764.6" y2="300" stroke="#fdb498" stroke-width="16.32"/>
<line x1="764.53" y1="297.96" x2="764.64" y2="301.24" stroke="#fdb69b" stroke-width="16.23"/>
<line x1="764.6" y1="300" x2="764.68" y2="302.58" stroke="#fdb89d" stroke-width="16.16"/>
<line x1="764.64" y1="301.24" x2="764.71" y2="303.99" stroke="#fdb99f" stroke-width="16.11"/>
<line x1="764.68" y1="302.58" x2="764.74" y2="305.48" stroke="#fdbaa1" stroke-width="16.05"/>
<line x1="764.71" y1="303.99" x2="764.78" y2="307.03" stroke="#fdbca3" stroke-width="15.99"/>
<line x1="764.74" y1="305.48" x2="764.81" y2="308.63" stroke="#fdbda5" stroke-width="15.93"/>
<line x1="764.78" y1="307.03" x2="764.83" y2="310.29" stroke="#fdbfa7" stroke-width="15.86"/>
<line x1="764.81" y1="308.63" x2="764.86" y2="311.99" stroke="#fdc0a9" stroke-width="15.79"/>
<line x1="764.83" y1="310.29" x2="764.89" y2="313.71" stroke="#fdc2ac" stroke-width="15.72"/>
<line x1="764.86" y1="311.99" x2="764.91" y2="315.47" stroke="#fdc4af" stroke-width="15.65"/>
<line x1="764.89" y1="313.71" x2="764.94" y2="317.24" stroke="#fdc6b2" stroke-width="15.58"/>
<line x1="764.91" y1="315.47" x2="764.96" y2="319.01" stroke="#fdc9b5" stroke-width="15.5"/>
<line x1="764.94" y1="317.24" x2="764.98" y2="320.79" stroke="#fdcbb8" stroke-width="15.43"/>
<line x1="764.96" y1="319.01" x2="765" y2="322.56" stroke="#fdcdbb" stroke-width="15.36"/>
<line x1="764.98" y1="320.79" x2="765.02" y2="324.32" stroke="#fdcfbe" stroke-width="15.3"/>
<line x1="765" y1="322.56" x2="765.04" y2="326.05" stroke="#fdd2c1" stroke-width="15.23"/>
<line x1="765.02" y1="324.32" x2="765.05" y2="327.74" stroke="#fdd4c4" stroke-width="15.16"/>
<line x1="765.04" y1="326.05" x2="765.07" y2="329.4" stroke="#fed6c7" stroke-width="15.09"/>
<line x1="765.05" y1="327.74" x2="765.09" y2="331.01" stroke="#fed8ca" stroke-width="15.03"/>
<line x1="765.07" y1="329.4" x2="765.1" y2="332.57" stroke="#fedbcd" stroke-width="14.96"/>
<line x1="765.09" y1="331.01" x2="765.12" y2="334.05" stroke="#feddd0" stroke-width="14.9"/>
<line x1="765.1" y1="332.57" x2="765.13" y2="335.47" stroke="#fedfd3" stroke-width="14.84"/>
<line x1="765.12" y1="334.05" x2="765.14" y2="336.81" stroke="#fee1d5" stroke-width="14.78"/>
<line x1="765.13" y1="335.47" x2="765.15" y2="338.06" stroke="#fee2d8" stroke-width="14.73"/>
<line x1="765.14" y1="336.81" x2="765.17" y2="339.21" stroke="#fee4da" stroke-width="14.68"/>
<line x1="765.15" y1="338.06" x2="765.18" y2="340.25" stroke="#fee6dc" stroke-width="14.63"/>
<line x1="765.17" y1="339.21" x2="765.19" y2="341.19" stroke="#fee7de" stroke-width="14.59"/>
<line x1="765.18" y1="340.25" x2="765.2" y2="342" stroke="#fee8e0" stroke-width="14.55"/>
<line x1="765.19" y1="341.19" x2="765.2" y2="342" stroke="#fee9e1" stroke-width="14.52"/>
<polygon points="747.8,215 748.2,207.2 755.1,206 762,210.4 766.3,216.5 768.8,224.2 768.3,234 768.2,250 753.7,252 750,246" fill="url(#g14)"/>
<polygon points="741,214.5 733.6,215 730.6,220 729.2,227 730.6,234 733.6,239.5 740,239.5" fill="#fc6c22"/>
<polygon points="838,127.5 850.6,128.5 849.8,161.5 836.8,160.3" fill="#a9afbd" stroke="#3a3a3a" stroke-width="2" stroke-linejoin="miter"/>
<polygon points="740,214.6 754.7,216.7 747.3,249.5 732.7,246.6" fill="#fc5a08" stroke="#3a3a3a" stroke-width="1.9" stroke-linejoin="miter"/>
<polygon points="733,179 747,180.3 746.8,214 733.2,213.6" fill="#3c86fb" stroke="#3a3a3a" stroke-width="2" stroke-linejoin="miter"/>
<circle cx="647.8" cy="226.6" r="1.7" fill="#444"/>
<polygon points="614.4,147 626,147 626,158.6 614.4,158.6" fill="#b2b2b2" stroke="#3a3a3a" stroke-width="2" stroke-linejoin="miter"/>
<polygon points="614.53,173.72 625.88,176.13 623.47,187.48 612.12,185.07" fill="#b2b2b2" stroke="#3a3a3a" stroke-width="2" stroke-linejoin="miter"/>
<polygon points="686.86,53.81 695.59,58.26 691.14,66.99 682.41,62.54" fill="#00ee00" stroke="#3a3a3a" stroke-width="1.8" stroke-linejoin="miter"/>
<polygon points="708.2,53.5 719.4,53.5 719.4,64.7 708.2,64.7" fill="#00ee00" stroke="#3a3a3a" stroke-width="2" stroke-linejoin="miter"/>
<polygon points="734.2,53.5 745.4,53.5 745.4,64.7 734.2,64.7" fill="#00ee00" stroke="#3a3a3a" stroke-width="2" stroke-linejoin="miter"/>
</g>
<path fill-rule="evenodd" fill="#7a7a7a" d="M599.2 61.1H880V341.9H599.2ZM601.9 63.8H877.1V339.1H601.9Z"/>
<g clip-path="url(#cp4)">
<g transform="translate(888.5,27.5)">
<rect x="180" y="271.4" width="8" height="108.6" fill="#adadad"/>
<rect x="205.5" y="265" width="8" height="115" fill="#adadad"/>
<rect x="231" y="266" width="6.8" height="114" fill="#adadad"/>
<rect x="257.3" y="266" width="5.7" height="114" fill="#adadad"/>
<rect x="206" y="42.5" width="7.7" height="24.3" fill="#adadad"/>
<rect x="206" y="81.3" width="7.7" height="14.8" fill="#adadad"/>
<rect x="233" y="46.5" width="7" height="24" fill="#adadad"/>
<rect x="257.5" y="20" width="7" height="27.5" fill="#adadad"/>
<rect x="78" y="76" width="7" height="8.5" fill="#adadad"/>
<rect x="77" y="265" width="7" height="115" fill="#adadad"/>
<rect x="104" y="20" width="7.4" height="64.5" fill="#adadad"/>
<rect x="129" y="20" width="7.9" height="62.5" fill="#adadad"/>
<rect x="104" y="263" width="7.4" height="24.3" fill="#adadad"/>
<rect x="128.5" y="262.8" width="8" height="24" fill="#adadad"/>
<rect x="104" y="301" width="7.4" height="24.3" fill="#adadad"/>
<rect x="128.5" y="300.8" width="8" height="24" fill="#adadad"/>
<rect x="104" y="339" width="7.4" height="24.3" fill="#adadad"/>
<rect x="128.5" y="338.8" width="8" height="24" fill="#adadad"/>
<rect x="153.2" y="262" width="7.9" height="118" fill="#ffa922"/>
<rect x="0" y="161" width="27" height="6.6" fill="#ffa922"/>
<rect x="156.8" y="20" width="5.8" height="63.5" fill="#ffa922"/>
<polyline points="177,22 174.3,36 171,51 166,67 159.8,83.5" fill="none" stroke="#ffa922" stroke-width="6.2" stroke-linejoin="miter" stroke-linecap="butt"/>
<rect x="0" y="185.3" width="25.7" height="6.5" fill="#adadad"/>
<g fill="#5e5e5e"><path d="M65.6 10L65.6 70.9L72 70.9L72 10Z"/><path d="M68.8 67.7L67.75 67.8L67.75 74.2L68.8 74.1Z"/><path d="M64.55 71L64.55 90.4L70.95 90.4L70.95 71Z"/><path d="M64.55 90.4L44.3 119.7L50.7 119.7L70.95 90.4Z"/><path d="M47.5 116.5L7 126L7 132.4L47.5 122.9Z"/><path d="M7 126L-10 130L-10 136.4L7 132.4Z"/><path d="M65.6 70.9L72 70.9L68.8 74.1L68.8 67.7Z"/><path d="M65.6 70.9L72 70.9L68.8 67.7L68.8 74.1Z"/><path d="M65.6 70.9L68.8 67.7L72 70.9L68.8 74.1Z"/><path d="M67.75 67.8L67.75 74.2L70.95 71L64.55 71Z"/><path d="M67.75 67.8L67.75 74.2L64.55 71L70.95 71Z"/><path d="M67.75 67.8L64.55 71L67.75 74.2L70.95 71Z"/><path d="M64.55 90.4L70.95 90.4L70.95 90.4L64.55 90.4Z"/><path d="M64.55 90.4L70.95 90.4L64.55 90.4L70.95 90.4Z"/><path d="M64.55 90.4L64.55 90.4L70.95 90.4L70.95 90.4Z"/><path d="M44.3 119.7L50.7 119.7L47.5 122.9L47.5 116.5Z"/><path d="M44.3 119.7L50.7 119.7L47.5 116.5L47.5 122.9Z"/><path d="M44.3 119.7L47.5 116.5L50.7 119.7L47.5 122.9Z"/><path d="M7 126L7 132.4L7 132.4L7 126Z"/><path d="M7 126L7 132.4L7 126L7 132.4Z"/><path d="M7 126L7 126L7 132.4L7 132.4Z"/></g>
<g fill="#5e5e5e"><path d="M-10 218.2L33 218.2L33 224.6L-10 224.6Z"/><path d="M33 218.2L52.1 233.1L52.1 239.5L33 224.6Z"/><path d="M52.1 233.1L58.7 237.4L58.7 243.8L52.1 239.5Z"/><path d="M58.7 237.4L63.2 241.3L63.2 247.7L58.7 243.8Z"/><path d="M60 244.5L62 252.3L68.4 252.3L66.4 244.5Z"/><path d="M62 252.3L64.4 267.2L70.8 267.2L68.4 252.3Z"/><path d="M64.4 267.2L64.8 279L71.2 279L70.8 267.2Z"/><path d="M64.8 279L64.4 300L70.8 300L71.2 279Z"/><path d="M64.4 300L64.4 390L70.8 390L70.8 300Z"/><path d="M33 218.2L33 224.6L33 224.6L33 218.2Z"/><path d="M33 218.2L33 224.6L33 218.2L33 224.6Z"/><path d="M33 218.2L33 218.2L33 224.6L33 224.6Z"/><path d="M52.1 233.1L52.1 239.5L52.1 239.5L52.1 233.1Z"/><path d="M52.1 233.1L52.1 239.5L52.1 233.1L52.1 239.5Z"/><path d="M52.1 233.1L52.1 233.1L52.1 239.5L52.1 239.5Z"/><path d="M58.7 237.4L58.7 243.8L58.7 243.8L58.7 237.4Z"/><path d="M58.7 237.4L58.7 243.8L58.7 237.4L58.7 243.8Z"/><path d="M58.7 237.4L58.7 237.4L58.7 243.8L58.7 243.8Z"/><path d="M63.2 241.3L63.2 247.7L66.4 244.5L60 244.5Z"/><path d="M63.2 241.3L63.2 247.7L60 244.5L66.4 244.5Z"/><path d="M63.2 241.3L60 244.5L63.2 247.7L66.4 244.5Z"/><path d="M62 252.3L68.4 252.3L68.4 252.3L62 252.3Z"/><path d="M62 252.3L68.4 252.3L62 252.3L68.4 252.3Z"/><path d="M62 252.3L62 252.3L68.4 252.3L68.4 252.3Z"/><path d="M64.4 267.2L70.8 267.2L70.8 267.2L64.4 267.2Z"/><path d="M64.4 267.2L70.8 267.2L64.4 267.2L70.8 267.2Z"/><path d="M64.4 267.2L64.4 267.2L70.8 267.2L70.8 267.2Z"/><path d="M64.8 279L71.2 279L71.2 279L64.8 279Z"/><path d="M64.8 279L71.2 279L64.8 279L71.2 279Z"/><path d="M64.8 279L64.8 279L71.2 279L71.2 279Z"/><path d="M64.4 300L70.8 300L70.8 300L64.4 300Z"/><path d="M64.4 300L70.8 300L64.4 300L70.8 300Z"/><path d="M64.4 300L64.4 300L70.8 300L70.8 300Z"/></g>
<rect x="270.6" y="10" width="6.9" height="137" fill="#5e5e5e"/>
<rect x="269.9" y="146" width="6.8" height="133" fill="#5e5e5e"/>
<rect x="269.9" y="290.3" width="6.8" height="99.7" fill="#5e5e5e"/>
</g>
<rect x="1077.1" y="195" width="15.7" height="147" fill="url(#g15)"/>
<rect x="1103.5" y="60" width="14.5" height="122" fill="url(#g16)"/>
<rect x="1102.3" y="210" width="14.7" height="132" fill="url(#g17)"/>
<rect x="1133" y="325" width="13" height="17" fill="url(#g18)"/>
<line x1="946.5" y1="290" x2="946.73" y2="292.04" stroke="#dc6d19" stroke-width="4.5" stroke-opacity="1"/>
<line x1="946.6" y1="290.89" x2="946.89" y2="293.4" stroke="#dd6e1c" stroke-width="4.5" stroke-opacity="0.99"/>
<line x1="946.73" y1="292.04" x2="947.06" y2="294.92" stroke="#dd711f" stroke-width="4.5" stroke-opacity="0.98"/>
<line x1="946.89" y1="293.4" x2="947.25" y2="296.56" stroke="#de7322" stroke-width="4.5" stroke-opacity="0.96"/>
<line x1="947.06" y1="294.92" x2="947.44" y2="298.28" stroke="#df7626" stroke-width="4.5" stroke-opacity="0.95"/>
<line x1="947.25" y1="296.56" x2="947.61" y2="300.03" stroke="#e0782a" stroke-width="4.5" stroke-opacity="0.94"/>
<line x1="947.44" y1="298.28" x2="947.77" y2="301.76" stroke="#e17b2e" stroke-width="4.5" stroke-opacity="0.92"/>
<line x1="947.61" y1="300.03" x2="947.9" y2="303.43" stroke="#e27e33" stroke-width="4.5" stroke-opacity="0.9"/>
<line x1="947.77" y1="301.76" x2="948" y2="305" stroke="#e38137" stroke-width="4.5" stroke-opacity="0.89"/>
<line x1="947.9" y1="303.43" x2="948.07" y2="306.5" stroke="#e3843b" stroke-width="4.5" stroke-opacity="0.88"/>
<line x1="948" y1="305" x2="948.11" y2="307.98" stroke="#e4863e" stroke-width="4.5" stroke-opacity="0.86"/>
<line x1="948.07" y1="306.5" x2="948.14" y2="309.47" stroke="#e58942" stroke-width="4.5" stroke-opacity="0.85"/>
<line x1="948.11" y1="307.98" x2="948.16" y2="310.95" stroke="#e68b46" stroke-width="4.5" stroke-opacity="0.84"/>
<line x1="948.14" y1="309.47" x2="948.16" y2="312.44" stroke="#e78d49" stroke-width="4.5" stroke-opacity="0.82"/>
<line x1="948.16" y1="310.95" x2="948.14" y2="313.93" stroke="#e7904d" stroke-width="4.5" stroke-opacity="0.81"/>
<line x1="948.16" y1="312.44" x2="948.12" y2="315.43" stroke="#e89250" stroke-width="4.5" stroke-opacity="0.79"/>
<line x1="948.14" y1="313.93" x2="948.09" y2="316.94" stroke="#e99554" stroke-width="4.5" stroke-opacity="0.74"/>
<line x1="948.12" y1="315.43" x2="948.05" y2="318.46" stroke="#ea9758" stroke-width="4.5" stroke-opacity="0.69"/>
<line x1="948.09" y1="316.94" x2="948" y2="320" stroke="#ea9a5b" stroke-width="4.5" stroke-opacity="0.64"/>
<line x1="948.05" y1="318.46" x2="947.94" y2="321.63" stroke="#eb9c5f" stroke-width="4.5" stroke-opacity="0.58"/>
<line x1="948" y1="320" x2="947.85" y2="323.39" stroke="#ec9f63" stroke-width="4.5" stroke-opacity="0.53"/>
<line x1="947.94" y1="321.63" x2="947.74" y2="325.23" stroke="#eda267" stroke-width="4.5" stroke-opacity="0.47"/>
<line x1="947.85" y1="323.39" x2="947.62" y2="327.1" stroke="#eea56c" stroke-width="4.5" stroke-opacity="0.41"/>
<line x1="947.74" y1="325.23" x2="947.5" y2="328.94" stroke="#efa870" stroke-width="4.5" stroke-opacity="0.34"/>
<line x1="947.62" y1="327.1" x2="947.38" y2="330.7" stroke="#f0ab75" stroke-width="4.5" stroke-opacity="0.28"/>
<line x1="947.5" y1="328.94" x2="947.26" y2="332.34" stroke="#f1ae79" stroke-width="4.5" stroke-opacity="0.21"/>
<line x1="947.38" y1="330.7" x2="947.15" y2="333.81" stroke="#f2b17d" stroke-width="4.5" stroke-opacity="0.16"/>
<line x1="947.26" y1="332.34" x2="947.06" y2="335.04" stroke="#f2b381" stroke-width="4.5" stroke-opacity="0.1"/>
<line x1="947.15" y1="333.81" x2="947" y2="336" stroke="#f3b584" stroke-width="4.5" stroke-opacity="0.05"/>
<line x1="947.06" y1="335.04" x2="947" y2="336" stroke="#f4b787" stroke-width="4.5" stroke-opacity="0.02"/>
<rect x="1030.2" y="68" width="13.8" height="129" fill="url(#g19)"/>
<line x1="1045" y1="241" x2="1046.09" y2="242.88" stroke="#fc5a09" stroke-width="16.51"/>
<line x1="1045.47" y1="241.82" x2="1046.83" y2="244.14" stroke="#fc5b0a" stroke-width="16.53"/>
<line x1="1046.09" y1="242.88" x2="1047.66" y2="245.56" stroke="#fc5c0b" stroke-width="16.55"/>
<line x1="1046.83" y1="244.14" x2="1048.52" y2="247.1" stroke="#fc5d0d" stroke-width="16.57"/>
<line x1="1047.66" y1="245.56" x2="1049.39" y2="248.71" stroke="#fc5e0f" stroke-width="16.6"/>
<line x1="1048.52" y1="247.1" x2="1050.23" y2="250.36" stroke="#fc6011" stroke-width="16.63"/>
<line x1="1049.39" y1="248.71" x2="1051" y2="252" stroke="#fc6113" stroke-width="16.66"/>
<line x1="1050.23" y1="250.36" x2="1051.58" y2="253.32" stroke="#fc6215" stroke-width="16.69"/>
<line x1="1051" y1="252" x2="1052.16" y2="254.7" stroke="#fc6316" stroke-width="16.71"/>
<line x1="1051.58" y1="253.32" x2="1052.75" y2="256.11" stroke="#fc6418" stroke-width="16.74"/>
<line x1="1052.16" y1="254.7" x2="1053.33" y2="257.57" stroke="#fc6519" stroke-width="16.76"/>
<line x1="1052.75" y1="256.11" x2="1053.91" y2="259.06" stroke="#fc661b" stroke-width="16.79"/>
<line x1="1053.33" y1="257.57" x2="1054.47" y2="260.59" stroke="#fc671d" stroke-width="16.81"/>
<line x1="1053.91" y1="259.06" x2="1055.01" y2="262.15" stroke="#fc691f" stroke-width="16.84"/>
<line x1="1054.47" y1="260.59" x2="1055.54" y2="263.74" stroke="#fc6a20" stroke-width="16.86"/>
<line x1="1055.01" y1="262.15" x2="1056.03" y2="265.36" stroke="#fc6b22" stroke-width="16.89"/>
<line x1="1055.54" y1="263.74" x2="1056.5" y2="267" stroke="#fc6c24" stroke-width="16.92"/>
<line x1="1056.03" y1="265.36" x2="1056.87" y2="268.39" stroke="#fc6e27" stroke-width="16.94"/>
<line x1="1056.5" y1="267" x2="1057.22" y2="269.8" stroke="#fc702a" stroke-width="16.97"/>
<line x1="1056.87" y1="268.39" x2="1057.57" y2="271.24" stroke="#fc712d" stroke-width="16.99"/>
<line x1="1057.22" y1="269.8" x2="1057.9" y2="272.7" stroke="#fc7330" stroke-width="16.95"/>
<line x1="1057.57" y1="271.24" x2="1058.21" y2="274.19" stroke="#fc7432" stroke-width="16.88"/>
<line x1="1057.9" y1="272.7" x2="1058.51" y2="275.69" stroke="#fc7635" stroke-width="16.81"/>
<line x1="1058.21" y1="274.19" x2="1058.8" y2="277.21" stroke="#fc7838" stroke-width="16.74"/>
<line x1="1058.51" y1="275.69" x2="1059.07" y2="278.74" stroke="#fc793b" stroke-width="16.66"/>
<line x1="1058.8" y1="277.21" x2="1059.33" y2="280.29" stroke="#fc7b3e" stroke-width="16.59"/>
<line x1="1059.07" y1="278.74" x2="1059.57" y2="281.85" stroke="#fc7d41" stroke-width="16.51"/>
<line x1="1059.33" y1="280.29" x2="1059.79" y2="283.42" stroke="#fc7f44" stroke-width="16.44"/>
<line x1="1059.57" y1="281.85" x2="1060" y2="285" stroke="#fc8047" stroke-width="16.36"/>
<line x1="1059.79" y1="283.42" x2="1060.18" y2="286.43" stroke="#fc824a" stroke-width="16.28"/>
<line x1="1060" y1="285" x2="1060.33" y2="287.8" stroke="#fc844c" stroke-width="16.21"/>
<line x1="1060.18" y1="286.43" x2="1060.48" y2="289.13" stroke="#fc854f" stroke-width="16.14"/>
<line x1="1060.33" y1="287.8" x2="1060.6" y2="290.45" stroke="#fc8752" stroke-width="16.08"/>
<line x1="1060.48" y1="289.13" x2="1060.72" y2="291.77" stroke="#fc8854" stroke-width="16.01"/>
<line x1="1060.6" y1="290.45" x2="1060.82" y2="293.12" stroke="#fc8a57" stroke-width="15.95"/>
<line x1="1060.72" y1="291.77" x2="1060.91" y2="294.52" stroke="#fc8b59" stroke-width="15.88"/>
<line x1="1060.82" y1="293.12" x2="1060.99" y2="295.98" stroke="#fc8d5c" stroke-width="15.82"/>
<line x1="1060.91" y1="294.52" x2="1061.07" y2="297.53" stroke="#fc8e5e" stroke-width="15.75"/>
<line x1="1060.99" y1="295.98" x2="1061.13" y2="299.18" stroke="#fc9061" stroke-width="15.68"/>
<line x1="1061.07" y1="297.53" x2="1061.19" y2="300.97" stroke="#fc9264" stroke-width="15.6"/>
<line x1="1061.13" y1="299.18" x2="1061.25" y2="302.9" stroke="#fc9467" stroke-width="15.52"/>
<line x1="1061.19" y1="300.97" x2="1061.3" y2="305" stroke="#fc966a" stroke-width="15.48"/>
<line x1="1061.25" y1="302.9" x2="1061.32" y2="306.25" stroke="#fc986d" stroke-width="15.46"/>
<line x1="1061.3" y1="305" x2="1061.35" y2="307.61" stroke="#fc9970" stroke-width="15.44"/>
<line x1="1061.32" y1="306.25" x2="1061.36" y2="309.06" stroke="#fc9b72" stroke-width="15.42"/>
<line x1="1061.35" y1="307.61" x2="1061.38" y2="310.61" stroke="#fc9c74" stroke-width="15.4"/>
<line x1="1061.36" y1="309.06" x2="1061.38" y2="312.23" stroke="#fc9e76" stroke-width="15.39"/>
<line x1="1061.38" y1="310.61" x2="1061.39" y2="313.92" stroke="#fca079" stroke-width="15.37"/>
<line x1="1061.38" y1="312.23" x2="1061.4" y2="315.66" stroke="#fca17b" stroke-width="15.35"/>
<line x1="1061.39" y1="313.92" x2="1061.4" y2="317.44" stroke="#fca37e" stroke-width="15.33"/>
<line x1="1061.4" y1="315.66" x2="1061.4" y2="319.26" stroke="#fca581" stroke-width="15.31"/>
<line x1="1061.4" y1="317.44" x2="1061.39" y2="321.09" stroke="#fca784" stroke-width="15.28"/>
<line x1="1061.4" y1="319.26" x2="1061.39" y2="322.92" stroke="#fca986" stroke-width="15.26"/>
<line x1="1061.39" y1="321.09" x2="1061.38" y2="324.75" stroke="#fdab89" stroke-width="15.24"/>
<line x1="1061.39" y1="322.92" x2="1061.37" y2="326.56" stroke="#fdad8c" stroke-width="15.22"/>
<line x1="1061.38" y1="324.75" x2="1061.37" y2="328.35" stroke="#fdaf8f" stroke-width="15.2"/>
<line x1="1061.37" y1="326.56" x2="1061.36" y2="330.09" stroke="#fdb192" stroke-width="15.17"/>
<line x1="1061.37" y1="328.35" x2="1061.35" y2="331.78" stroke="#fdb294" stroke-width="15.15"/>
<line x1="1061.36" y1="330.09" x2="1061.34" y2="333.4" stroke="#fdb497" stroke-width="15.13"/>
<line x1="1061.35" y1="331.78" x2="1061.33" y2="334.95" stroke="#fdb69a" stroke-width="15.11"/>
<line x1="1061.34" y1="333.4" x2="1061.32" y2="336.42" stroke="#fdb89c" stroke-width="15.09"/>
<line x1="1061.33" y1="334.95" x2="1061.32" y2="337.78" stroke="#fdb99e" stroke-width="15.08"/>
<line x1="1061.32" y1="336.42" x2="1061.31" y2="339.03" stroke="#fdbba0" stroke-width="15.06"/>
<line x1="1061.32" y1="337.78" x2="1061.3" y2="340.16" stroke="#fdbca2" stroke-width="15.04"/>
<line x1="1061.31" y1="339.03" x2="1061.3" y2="341.15" stroke="#fdbda4" stroke-width="15.03"/>
<line x1="1061.3" y1="340.16" x2="1061.3" y2="342" stroke="#fdbfa6" stroke-width="15.02"/>
<line x1="1061.3" y1="341.15" x2="1061.3" y2="342" stroke="#fdc0a7" stroke-width="15.01"/>
<polygon points="962.8,66.5 977.6,65.5 978.4,103.6 963.6,104.8" fill="#a9afbd" stroke="#3a3a3a" stroke-width="2" stroke-linejoin="miter"/>
<polygon points="1077,163 1092.5,164.5 1091.5,200.5 1075.8,199" fill="#a9afbd" stroke="#3a3a3a" stroke-width="2" stroke-linejoin="miter"/>
<polygon points="1101.3,179 1115.8,180.3 1115.5,215.5 1101,214.2" fill="#a9afbd" stroke="#3a3a3a" stroke-width="2" stroke-linejoin="miter"/>
<polygon points="1132,298 1145.6,299.5 1144.6,331.5 1130.6,330" fill="#a9afbd" stroke="#3a3a3a" stroke-width="2" stroke-linejoin="miter"/>
<polygon points="1022,222.5 1034,214.6 1052.5,240.3 1042,249.3" fill="#fc5a08" stroke="#3a3a3a" stroke-width="1.9" stroke-linejoin="miter"/>
<polygon points="1029.2,179.3 1041.9,180.6 1041.9,215.2 1029.2,214" fill="#3c86fb" stroke="#3a3a3a" stroke-width="2" stroke-linejoin="miter"/>
<circle cx="946.6" cy="289.6" r="1.7" fill="#444"/>
<polygon points="909.9,197.7 921.5,197.7 921.5,209.3 909.9,209.3" fill="#b2b2b2" stroke="#3a3a3a" stroke-width="2" stroke-linejoin="miter"/>
<polygon points="910.03,224.42 921.38,226.83 918.97,238.18 907.62,235.77" fill="#b2b2b2" stroke="#3a3a3a" stroke-width="2" stroke-linejoin="miter"/>
<polygon points="982.36,104.51 991.09,108.96 986.64,117.69 977.91,113.24" fill="#00ee00" stroke="#3a3a3a" stroke-width="1.8" stroke-linejoin="miter"/>
<polygon points="1003.7,104.2 1014.9,104.2 1014.9,115.4 1003.7,115.4" fill="#00ee00" stroke="#3a3a3a" stroke-width="2" stroke-linejoin="miter"/>
<polygon points="1029.7,104.2 1040.9,104.2 1040.9,115.4 1029.7,115.4" fill="#00ee00" stroke="#3a3a3a" stroke-width="2" stroke-linejoin="miter"/>
</g>
<path fill-rule="evenodd" fill="#7a7a7a" d="M895.1 61.1H1176V341.9H895.1ZM897.1 63.8H1173.2V339.1H897.1Z"/>
<g clip-path="url(#cp5)">
<g transform="translate(0,0)">
<rect x="198" y="300" width="6" height="38.5" fill="#adadad"/>
<rect x="222" y="300" width="6" height="38.5" fill="#ffa922"/>
<rect x="270.3" y="300" width="6.5" height="38.5" fill="#adadad"/>
<rect x="-10" y="394.5" width="145" height="6.8" fill="#adadad"/>
<rect x="113" y="418.7" width="22" height="6.6" fill="#adadad"/>
<rect x="77" y="418.7" width="22" height="6.6" fill="#adadad"/>
<rect x="41" y="418.7" width="22" height="6.6" fill="#adadad"/>
<rect x="5" y="418.7" width="22" height="6.6" fill="#adadad"/>
<rect x="-31" y="418.7" width="22" height="6.6" fill="#adadad"/>
<rect x="-10" y="443.2" width="111.5" height="5.8" fill="#ffa922"/>
<polygon points="100,441.8 117.5,441.8 118.6,446.9 100,447.9" fill="#ffa922"/>
<rect x="-10" y="462.6" width="114" height="6.2" fill="#adadad"/>
<rect x="103" y="463.4" width="18" height="6.4" fill="#adadad"/>
<rect x="86" y="488.6" width="22.5" height="5.8" fill="#adadad"/>
<rect x="50" y="488.6" width="22.5" height="5.8" fill="#adadad"/>
<rect x="14" y="488.6" width="22.5" height="5.8" fill="#adadad"/>
<rect x="-22" y="488.6" width="22.5" height="5.8" fill="#adadad"/>
<rect x="-10" y="512.2" width="131" height="6.4" fill="#adadad"/>
<rect x="313" y="511.6" width="57" height="6.8" fill="#adadad"/>
<rect x="195.8" y="578" width="4.8" height="82" fill="#ffa922"/>
<rect x="222" y="575" width="6" height="85" fill="#adadad"/>
<rect x="246.2" y="598" width="6.2" height="62" fill="#adadad"/>
<g fill="#5e5e5e"><path d="M167.2 310L160 350.5L166.8 350.5L174 310Z"/><path d="M163.4 347.1L135 374.1L135 380.9L163.4 353.9Z"/><path d="M135 374.1L102 381.6L102 388.4L135 380.9Z"/><path d="M102 381.6L-10 382.1L-10 388.9L102 388.4Z"/><path d="M160 350.5L166.8 350.5L163.4 353.9L163.4 347.1Z"/><path d="M160 350.5L166.8 350.5L163.4 347.1L163.4 353.9Z"/><path d="M160 350.5L163.4 347.1L166.8 350.5L163.4 353.9Z"/><path d="M135 374.1L135 380.9L135 380.9L135 374.1Z"/><path d="M135 374.1L135 380.9L135 374.1L135 380.9Z"/><path d="M135 374.1L135 374.1L135 380.9L135 380.9Z"/><path d="M102 381.6L102 388.4L102 388.4L102 381.6Z"/><path d="M102 381.6L102 388.4L102 381.6L102 388.4Z"/><path d="M102 381.6L102 381.6L102 388.4L102 388.4Z"/></g>
<g fill="#5e5e5e"><path d="M301.6 310L306.4 353L313.2 353L308.4 310Z"/><path d="M306.4 353L330.6 378.5L337.4 378.5L313.2 353Z"/><path d="M334 375.1L346 378.2L346 385L334 381.9Z"/><path d="M346 378.2L370 380.4L370 387.2L346 385Z"/><path d="M306.4 353L313.2 353L313.2 353L306.4 353Z"/><path d="M306.4 353L313.2 353L306.4 353L313.2 353Z"/><path d="M306.4 353L306.4 353L313.2 353L313.2 353Z"/><path d="M330.6 378.5L337.4 378.5L334 381.9L334 375.1Z"/><path d="M330.6 378.5L337.4 378.5L334 375.1L334 381.9Z"/><path d="M330.6 378.5L334 375.1L337.4 378.5L334 381.9Z"/><path d="M346 378.2L346 385L346 385L346 378.2Z"/><path d="M346 378.2L346 385L346 378.2L346 385Z"/><path d="M346 378.2L346 378.2L346 385L346 385Z"/></g>
<g fill="#5e5e5e"><path d="M-10 524L60 523.8L60 530.6L-10 530.8Z"/><path d="M60 523.8L95 523.6L95 530.4L60 530.6Z"/><path d="M95 523.6L112 525.1L112 531.9L95 530.4Z"/><path d="M112 525.1L128 528.4L128 535.2L112 531.9Z"/><path d="M128 528.4L140 535.1L140 541.9L128 535.2Z"/><path d="M140 535.1L151 545.1L151 551.9L140 541.9Z"/><path d="M147.6 548.5L159.1 561.5L165.9 561.5L154.4 548.5Z"/><path d="M159.1 561.5L163.6 578L170.4 578L165.9 561.5Z"/><path d="M163.6 578L167.2 596L174 596L170.4 578Z"/><path d="M167.2 596L168 660L174.8 660L174 596Z"/><path d="M60 523.8L60 530.6L60 530.6L60 523.8Z"/><path d="M60 523.8L60 530.6L60 523.8L60 530.6Z"/><path d="M60 523.8L60 523.8L60 530.6L60 530.6Z"/><path d="M95 523.6L95 530.4L95 530.4L95 523.6Z"/><path d="M95 523.6L95 530.4L95 523.6L95 530.4Z"/><path d="M95 523.6L95 523.6L95 530.4L95 530.4Z"/><path d="M112 525.1L112 531.9L112 531.9L112 525.1Z"/><path d="M112 525.1L112 531.9L112 525.1L112 531.9Z"/><path d="M112 525.1L112 525.1L112 531.9L112 531.9Z"/><path d="M128 528.4L128 535.2L128 535.2L128 528.4Z"/><path d="M128 528.4L128 535.2L128 528.4L128 535.2Z"/><path d="M128 528.4L128 528.4L128 535.2L128 535.2Z"/><path d="M140 535.1L140 541.9L140 541.9L140 535.1Z"/><path d="M140 535.1L140 541.9L140 535.1L140 541.9Z"/><path d="M140 535.1L140 535.1L140 541.9L140 541.9Z"/><path d="M151 545.1L151 551.9L154.4 548.5L147.6 548.5Z"/><path d="M151 545.1L151 551.9L147.6 548.5L154.4 548.5Z"/><path d="M151 545.1L147.6 548.5L151 551.9L154.4 548.5Z"/><path d="M159.1 561.5L165.9 561.5L165.9 561.5L159.1 561.5Z"/><path d="M159.1 561.5L165.9 561.5L159.1 561.5L165.9 561.5Z"/><path d="M159.1 561.5L159.1 561.5L165.9 561.5L165.9 561.5Z"/><path d="M163.6 578L170.4 578L170.4 578L163.6 578Z"/><path d="M163.6 578L170.4 578L163.6 578L170.4 578Z"/><path d="M163.6 578L163.6 578L170.4 578L170.4 578Z"/><path d="M167.2 596L174 596L174 596L167.2 596Z"/><path d="M167.2 596L174 596L167.2 596L174 596Z"/><path d="M167.2 596L167.2 596L174 596L174 596Z"/></g>
<g fill="#5e5e5e"><path d="M370 520.6L317 526.2L317 533L370 527.4Z"/><path d="M317 526.2L283 529.8L283 536.6L317 533Z"/><path d="M279.6 533.2L255.6 557.5L262.4 557.5L286.4 533.2Z"/><path d="M255.6 557.5L248.2 582.8L255 582.8L262.4 557.5Z"/><path d="M251.6 579.4L276 601.6L276 608.4L251.6 586.2Z"/><path d="M276 601.6L300 612.6L300 619.4L276 608.4Z"/><path d="M300 612.6L335 630.6L335 637.4L300 619.4Z"/><path d="M317 526.2L317 533L317 533L317 526.2Z"/><path d="M317 526.2L317 533L317 526.2L317 533Z"/><path d="M317 526.2L317 526.2L317 533L317 533Z"/><path d="M283 529.8L283 536.6L286.4 533.2L279.6 533.2Z"/><path d="M283 529.8L283 536.6L279.6 533.2L286.4 533.2Z"/><path d="M283 529.8L279.6 533.2L283 536.6L286.4 533.2Z"/><path d="M255.6 557.5L262.4 557.5L262.4 557.5L255.6 557.5Z"/><path d="M255.6 557.5L262.4 557.5L255.6 557.5L262.4 557.5Z"/><path d="M255.6 557.5L255.6 557.5L262.4 557.5L262.4 557.5Z"/><path d="M248.2 582.8L255 582.8L251.6 586.2L251.6 579.4Z"/><path d="M248.2 582.8L255 582.8L251.6 579.4L251.6 586.2Z"/><path d="M248.2 582.8L251.6 579.4L255 582.8L251.6 586.2Z"/><path d="M276 601.6L276 608.4L276 608.4L276 601.6Z"/><path d="M276 601.6L276 608.4L276 601.6L276 608.4Z"/><path d="M276 601.6L276 601.6L276 608.4L276 608.4Z"/><path d="M300 612.6L300 619.4L300 619.4L300 612.6Z"/><path d="M300 612.6L300 619.4L300 612.6L300 619.4Z"/><path d="M300 612.6L300 612.6L300 619.4L300 619.4Z"/></g>
</g>
<rect x="178.7" y="404" width="17.5" height="256" fill="url(#g20)"/>
<line x1="92" y1="436" x2="94.2" y2="436.16" stroke="#fc5a08" stroke-width="14.51" stroke-opacity="1"/>
<line x1="92.96" y1="436.07" x2="95.67" y2="436.27" stroke="#fc5b09" stroke-width="14.54" stroke-opacity="1"/>
<line x1="94.2" y1="436.16" x2="97.32" y2="436.39" stroke="#fc5b09" stroke-width="14.58" stroke-opacity="1"/>
<line x1="95.67" y1="436.27" x2="99.09" y2="436.53" stroke="#fc5b0a" stroke-width="14.62" stroke-opacity="1"/>
<line x1="97.32" y1="436.39" x2="100.94" y2="436.66" stroke="#fc5c0b" stroke-width="14.66" stroke-opacity="1"/>
<line x1="99.09" y1="436.53" x2="102.81" y2="436.8" stroke="#fc5d0c" stroke-width="14.71" stroke-opacity="1"/>
<line x1="100.94" y1="436.66" x2="104.64" y2="436.94" stroke="#fc5d0d" stroke-width="14.76" stroke-opacity="1"/>
<line x1="102.81" y1="436.8" x2="106.39" y2="437.07" stroke="#fc5e0e" stroke-width="14.8" stroke-opacity="1"/>
<line x1="104.64" y1="436.94" x2="108" y2="437.2" stroke="#fc5e0f" stroke-width="14.85" stroke-opacity="1"/>
<line x1="106.39" y1="437.07" x2="109.62" y2="437.32" stroke="#fc5f10" stroke-width="14.89" stroke-opacity="1"/>
<line x1="108" y1="437.2" x2="111.12" y2="437.42" stroke="#fc6010" stroke-width="14.94" stroke-opacity="1"/>
<line x1="109.62" y1="437.32" x2="112.56" y2="437.5" stroke="#fc6011" stroke-width="14.98" stroke-opacity="1"/>
<line x1="111.12" y1="437.42" x2="113.97" y2="437.59" stroke="#fc6112" stroke-width="15.02" stroke-opacity="1"/>
<line x1="112.56" y1="437.5" x2="115.42" y2="437.69" stroke="#fc6113" stroke-width="15.05" stroke-opacity="1"/>
<line x1="113.97" y1="437.59" x2="116.94" y2="437.81" stroke="#fc6213" stroke-width="15.09" stroke-opacity="1"/>
<line x1="115.42" y1="437.69" x2="118.6" y2="437.96" stroke="#fc6214" stroke-width="15.13" stroke-opacity="1"/>
<line x1="116.94" y1="437.81" x2="120.44" y2="438.15" stroke="#fc6315" stroke-width="15.17" stroke-opacity="1"/>
<line x1="118.6" y1="437.96" x2="122.5" y2="438.4" stroke="#fc6316" stroke-width="15.22" stroke-opacity="1"/>
<line x1="120.44" y1="438.15" x2="123.78" y2="438.56" stroke="#fc6417" stroke-width="15.27" stroke-opacity="1"/>
<line x1="122.5" y1="438.4" x2="125.13" y2="438.71" stroke="#fc6418" stroke-width="15.31" stroke-opacity="1"/>
<line x1="123.78" y1="438.56" x2="126.55" y2="438.88" stroke="#fc6518" stroke-width="15.34" stroke-opacity="1"/>
<line x1="125.13" y1="438.71" x2="128.04" y2="439.04" stroke="#fc6519" stroke-width="15.38" stroke-opacity="1"/>
<line x1="126.55" y1="438.88" x2="129.57" y2="439.22" stroke="#fc661a" stroke-width="15.42" stroke-opacity="1"/>
<line x1="128.04" y1="439.04" x2="131.15" y2="439.4" stroke="#fc661a" stroke-width="15.46" stroke-opacity="1"/>
<line x1="129.57" y1="439.22" x2="132.76" y2="439.6" stroke="#fc671b" stroke-width="15.5" stroke-opacity="1"/>
<line x1="131.15" y1="439.4" x2="134.41" y2="439.81" stroke="#fc671c" stroke-width="15.58" stroke-opacity="1"/>
<line x1="132.76" y1="439.6" x2="136.07" y2="440.03" stroke="#fc681d" stroke-width="15.66" stroke-opacity="1"/>
<line x1="134.41" y1="439.81" x2="137.74" y2="440.27" stroke="#fc681e" stroke-width="15.75" stroke-opacity="1"/>
<line x1="136.07" y1="440.03" x2="139.41" y2="440.53" stroke="#fc691e" stroke-width="15.84" stroke-opacity="1"/>
<line x1="137.74" y1="440.27" x2="141.07" y2="440.82" stroke="#fc6a1f" stroke-width="15.93" stroke-opacity="1"/>
<line x1="139.41" y1="440.53" x2="142.72" y2="441.12" stroke="#fc6a20" stroke-width="16.01" stroke-opacity="1"/>
<line x1="141.07" y1="440.82" x2="144.35" y2="441.45" stroke="#fc6b22" stroke-width="16.1" stroke-opacity="1"/>
<line x1="142.72" y1="441.12" x2="145.95" y2="441.81" stroke="#fc6d24" stroke-width="16.19" stroke-opacity="1"/>
<line x1="144.35" y1="441.45" x2="147.5" y2="442.2" stroke="#fc6e27" stroke-width="16.27" stroke-opacity="1"/>
<line x1="145.95" y1="441.81" x2="148.95" y2="442.59" stroke="#fc6f29" stroke-width="16.36" stroke-opacity="1"/>
<line x1="147.5" y1="442.2" x2="150.4" y2="443" stroke="#fc702a" stroke-width="16.44" stroke-opacity="1"/>
<line x1="148.95" y1="442.59" x2="151.85" y2="443.44" stroke="#fc712c" stroke-width="16.51" stroke-opacity="1"/>
<line x1="150.4" y1="443" x2="153.31" y2="443.89" stroke="#fc722e" stroke-width="16.59" stroke-opacity="1"/>
<line x1="151.85" y1="443.44" x2="154.77" y2="444.37" stroke="#fc7330" stroke-width="16.67" stroke-opacity="1"/>
<line x1="153.31" y1="443.89" x2="156.23" y2="444.86" stroke="#fc7432" stroke-width="16.75" stroke-opacity="1"/>
<line x1="154.77" y1="444.37" x2="157.68" y2="445.38" stroke="#fc7534" stroke-width="16.83" stroke-opacity="1"/>
<line x1="156.23" y1="444.86" x2="159.12" y2="445.9" stroke="#fc7636" stroke-width="16.91" stroke-opacity="1"/>
<line x1="157.68" y1="445.38" x2="160.56" y2="446.45" stroke="#fc7738" stroke-width="16.99" stroke-opacity="1"/>
<line x1="159.12" y1="445.9" x2="161.99" y2="447.01" stroke="#fc793a" stroke-width="17.07" stroke-opacity="1"/>
<line x1="160.56" y1="446.45" x2="163.4" y2="447.59" stroke="#fc7a3c" stroke-width="17.15" stroke-opacity="1"/>
<line x1="161.99" y1="447.01" x2="164.8" y2="448.18" stroke="#fc7b3e" stroke-width="17.23" stroke-opacity="1"/>
<line x1="163.4" y1="447.59" x2="166.18" y2="448.78" stroke="#fc7c3f" stroke-width="17.31" stroke-opacity="1"/>
<line x1="164.8" y1="448.18" x2="167.55" y2="449.39" stroke="#fc7d41" stroke-width="17.39" stroke-opacity="1"/>
<line x1="166.18" y1="448.78" x2="168.89" y2="450.02" stroke="#fc7e43" stroke-width="17.46" stroke-opacity="1"/>
<line x1="167.55" y1="449.39" x2="170.21" y2="450.65" stroke="#fc7f45" stroke-width="17.5" stroke-opacity="1"/>
<line x1="168.89" y1="450.02" x2="171.5" y2="451.3" stroke="#fc8047" stroke-width="17.5" stroke-opacity="1"/>
<line x1="170.21" y1="450.65" x2="172.94" y2="452.05" stroke="#fc8149" stroke-width="17.5" stroke-opacity="1"/>
<line x1="171.5" y1="451.3" x2="174.36" y2="452.81" stroke="#fc824b" stroke-width="17.5" stroke-opacity="1"/>
<line x1="172.94" y1="452.05" x2="175.77" y2="453.6" stroke="#fc834d" stroke-width="17.5" stroke-opacity="1"/>
<line x1="174.36" y1="452.81" x2="177.15" y2="454.41" stroke="#fc844f" stroke-width="17.5" stroke-opacity="1"/>
<line x1="175.77" y1="453.6" x2="178.52" y2="455.23" stroke="#fc8651" stroke-width="17.5" stroke-opacity="1"/>
<line x1="177.15" y1="454.41" x2="179.86" y2="456.08" stroke="#fc8753" stroke-width="17.5" stroke-opacity="1"/>
<line x1="178.52" y1="455.23" x2="181.19" y2="456.93" stroke="#fc8855" stroke-width="17.5" stroke-opacity="1"/>
<line x1="179.86" y1="456.08" x2="182.49" y2="457.81" stroke="#fc8957" stroke-width="17.5" stroke-opacity="1"/>
<line x1="181.19" y1="456.93" x2="183.78" y2="458.7" stroke="#fc8a58" stroke-width="17.5" stroke-opacity="1"/>
<line x1="182.49" y1="457.81" x2="185.04" y2="459.6" stroke="#fc8b5a" stroke-width="17.5" stroke-opacity="1"/>
<line x1="183.78" y1="458.7" x2="186.28" y2="460.52" stroke="#fc8c5c" stroke-width="17.5" stroke-opacity="1"/>
<line x1="185.04" y1="459.6" x2="187.49" y2="461.45" stroke="#fc8e5f" stroke-width="17.5" stroke-opacity="1"/>
<line x1="186.28" y1="460.52" x2="188.69" y2="462.39" stroke="#fc8f61" stroke-width="17.5" stroke-opacity="1"/>
<line x1="187.49" y1="461.45" x2="189.85" y2="463.34" stroke="#fc9163" stroke-width="17.5" stroke-opacity="1"/>
<line x1="188.69" y1="462.39" x2="191" y2="464.3" stroke="#fc9265" stroke-width="17.5" stroke-opacity="1"/>
<line x1="189.85" y1="463.34" x2="192.21" y2="465.34" stroke="#fc9367" stroke-width="17.5" stroke-opacity="1"/>
<line x1="191" y1="464.3" x2="193.4" y2="466.4" stroke="#fc9569" stroke-width="17.5" stroke-opacity="1"/>
<line x1="192.21" y1="465.34" x2="194.58" y2="467.46" stroke="#fc966c" stroke-width="17.5" stroke-opacity="1"/>
<line x1="193.4" y1="466.4" x2="195.74" y2="468.54" stroke="#fc986e" stroke-width="17.5" stroke-opacity="1"/>
<line x1="194.58" y1="467.46" x2="196.88" y2="469.64" stroke="#fc9970" stroke-width="17.5" stroke-opacity="1"/>
<line x1="195.74" y1="468.54" x2="197.98" y2="470.75" stroke="#fc9b72" stroke-width="17.5" stroke-opacity="1"/>
<line x1="196.88" y1="469.64" x2="199.06" y2="471.88" stroke="#fc9c75" stroke-width="17.5" stroke-opacity="1"/>
<line x1="197.98" y1="470.75" x2="200.11" y2="473.03" stroke="#fc9e77" stroke-width="17.5" stroke-opacity="1"/>
<line x1="199.06" y1="471.88" x2="201.12" y2="474.19" stroke="#fc9f79" stroke-width="17.5" stroke-opacity="1"/>
<line x1="200.11" y1="473.03" x2="202.09" y2="475.37" stroke="#fda17b" stroke-width="17.5" stroke-opacity="1"/>
<line x1="201.12" y1="474.19" x2="203.01" y2="476.57" stroke="#fda27d" stroke-width="17.5" stroke-opacity="1"/>
<line x1="202.09" y1="475.37" x2="203.89" y2="477.79" stroke="#fda47f" stroke-width="17.5" stroke-opacity="1"/>
<line x1="203.01" y1="476.57" x2="204.72" y2="479.04" stroke="#fda582" stroke-width="17.5" stroke-opacity="1"/>
<line x1="203.89" y1="477.79" x2="205.5" y2="480.3" stroke="#fda684" stroke-width="17.5" stroke-opacity="1"/>
<line x1="204.72" y1="479.04" x2="206.27" y2="481.69" stroke="#fda886" stroke-width="17.5" stroke-opacity="1"/>
<line x1="205.5" y1="480.3" x2="206.98" y2="483.12" stroke="#fda988" stroke-width="17.5" stroke-opacity="1"/>
<line x1="206.27" y1="481.69" x2="207.62" y2="484.59" stroke="#fdab8a" stroke-width="17.5" stroke-opacity="1"/>
<line x1="206.98" y1="483.12" x2="208.2" y2="486.08" stroke="#fdac8d" stroke-width="17.5" stroke-opacity="1"/>
<line x1="207.62" y1="484.59" x2="208.74" y2="487.59" stroke="#fdae8f" stroke-width="17.5" stroke-opacity="1"/>
<line x1="208.2" y1="486.08" x2="209.24" y2="489.13" stroke="#fdaf91" stroke-width="17.5" stroke-opacity="1"/>
<line x1="208.74" y1="487.59" x2="209.69" y2="490.68" stroke="#fdb193" stroke-width="17.45" stroke-opacity="1"/>
<line x1="209.24" y1="489.13" x2="210.12" y2="492.23" stroke="#fdb296" stroke-width="17.31" stroke-opacity="1"/>
<line x1="209.69" y1="490.68" x2="210.52" y2="493.8" stroke="#fdb498" stroke-width="17.17" stroke-opacity="1"/>
<line x1="210.12" y1="492.23" x2="210.9" y2="495.36" stroke="#fdb59a" stroke-width="17.03" stroke-opacity="1"/>
<line x1="210.52" y1="493.8" x2="211.27" y2="496.92" stroke="#fdb79c" stroke-width="16.89" stroke-opacity="1"/>
<line x1="210.9" y1="495.36" x2="211.64" y2="498.46" stroke="#fdb89d" stroke-width="16.76" stroke-opacity="1"/>
<line x1="211.27" y1="496.92" x2="212" y2="500" stroke="#fdb99f" stroke-width="16.62" stroke-opacity="1"/>
<line x1="211.64" y1="498.46" x2="212.35" y2="501.51" stroke="#fdbaa1" stroke-width="16.48" stroke-opacity="1"/>
<line x1="212" y1="500" x2="212.67" y2="503.01" stroke="#fdbca3" stroke-width="16.35" stroke-opacity="1"/>
<line x1="212.35" y1="501.51" x2="212.96" y2="504.49" stroke="#fdbda4" stroke-width="16.21" stroke-opacity="1"/>
<line x1="212.67" y1="503.01" x2="213.23" y2="505.97" stroke="#fdbea6" stroke-width="16.08" stroke-opacity="1"/>
<line x1="212.96" y1="504.49" x2="213.48" y2="507.44" stroke="#fdbfa8" stroke-width="15.95" stroke-opacity="1"/>
<line x1="213.23" y1="505.97" x2="213.71" y2="508.92" stroke="#fdc1a9" stroke-width="15.82" stroke-opacity="1"/>
<line x1="213.48" y1="507.44" x2="213.92" y2="510.42" stroke="#fdc2ab" stroke-width="15.69" stroke-opacity="1"/>
<line x1="213.71" y1="508.92" x2="214.12" y2="511.93" stroke="#fdc3ad" stroke-width="15.56" stroke-opacity="1"/>
<line x1="213.92" y1="510.42" x2="214.31" y2="513.47" stroke="#fdc4ae" stroke-width="15.43" stroke-opacity="1"/>
<line x1="214.12" y1="511.93" x2="214.49" y2="515.04" stroke="#fdc6b0" stroke-width="15.3" stroke-opacity="1"/>
<line x1="214.31" y1="513.47" x2="214.66" y2="516.64" stroke="#fdc7b2" stroke-width="15.16" stroke-opacity="1"/>
<line x1="214.49" y1="515.04" x2="214.83" y2="518.3" stroke="#fdc8b4" stroke-width="15.02" stroke-opacity="1"/>
<line x1="214.66" y1="516.64" x2="215" y2="520" stroke="#fdcab5" stroke-width="14.91" stroke-opacity="0.95"/>
<line x1="214.83" y1="518.3" x2="215.13" y2="521.47" stroke="#fecbb7" stroke-width="14.79" stroke-opacity="0.89"/>
<line x1="215" y1="520" x2="215.26" y2="523.06" stroke="#feccb9" stroke-width="14.68" stroke-opacity="0.84"/>
<line x1="215.13" y1="521.47" x2="215.38" y2="524.74" stroke="#fecdbb" stroke-width="14.57" stroke-opacity="0.79"/>
<line x1="215.26" y1="523.06" x2="215.5" y2="526.48" stroke="#fecfbd" stroke-width="14.46" stroke-opacity="0.73"/>
<line x1="215.38" y1="524.74" x2="215.6" y2="528.28" stroke="#fed0be" stroke-width="14.34" stroke-opacity="0.67"/>
<line x1="215.5" y1="526.48" x2="215.7" y2="530.11" stroke="#fed2c0" stroke-width="14.22" stroke-opacity="0.61"/>
<line x1="215.6" y1="528.28" x2="215.8" y2="531.94" stroke="#fed3c2" stroke-width="14.09" stroke-opacity="0.55"/>
<line x1="215.7" y1="530.11" x2="215.89" y2="533.75" stroke="#fed5c4" stroke-width="13.97" stroke-opacity="0.48"/>
<line x1="215.8" y1="531.94" x2="215.97" y2="535.52" stroke="#fed6c6" stroke-width="13.84" stroke-opacity="0.42"/>
<line x1="215.89" y1="533.75" x2="216.05" y2="537.24" stroke="#fed8c8" stroke-width="13.72" stroke-opacity="0.36"/>
<line x1="215.97" y1="535.52" x2="216.12" y2="538.87" stroke="#fed9ca" stroke-width="13.6" stroke-opacity="0.3"/>
<line x1="216.05" y1="537.24" x2="216.19" y2="540.39" stroke="#fedacc" stroke-width="13.48" stroke-opacity="0.24"/>
<line x1="216.12" y1="538.87" x2="216.25" y2="541.79" stroke="#fedcce" stroke-width="13.37" stroke-opacity="0.19"/>
<line x1="216.19" y1="540.39" x2="216.3" y2="543.04" stroke="#feddd0" stroke-width="13.27" stroke-opacity="0.14"/>
<line x1="216.25" y1="541.79" x2="216.35" y2="544.11" stroke="#feded1" stroke-width="13.18" stroke-opacity="0.09"/>
<line x1="216.3" y1="543.04" x2="216.4" y2="545" stroke="#fedfd2" stroke-width="13.1" stroke-opacity="0.05"/>
<line x1="216.35" y1="544.11" x2="216.4" y2="545" stroke="#fee0d4" stroke-width="13.03" stroke-opacity="0.02"/>
<line x1="209.3" y1="538" x2="209.4" y2="539.87" stroke="#3c86fb" stroke-width="15"/>
<line x1="209.34" y1="538.86" x2="209.46" y2="541.02" stroke="#3d87fb" stroke-width="15"/>
<line x1="209.4" y1="539.87" x2="209.53" y2="542.3" stroke="#3e87fb" stroke-width="15"/>
<line x1="209.46" y1="541.02" x2="209.6" y2="543.7" stroke="#3f88fb" stroke-width="15"/>
<line x1="209.53" y1="542.3" x2="209.68" y2="545.21" stroke="#4088fb" stroke-width="15"/>
<line x1="209.6" y1="543.7" x2="209.76" y2="546.81" stroke="#4189fb" stroke-width="15"/>
<line x1="209.68" y1="545.21" x2="209.85" y2="548.51" stroke="#428afb" stroke-width="15"/>
<line x1="209.76" y1="546.81" x2="209.94" y2="550.28" stroke="#438bfb" stroke-width="15"/>
<line x1="209.85" y1="548.51" x2="210.03" y2="552.13" stroke="#448cfb" stroke-width="15"/>
<line x1="209.94" y1="550.28" x2="210.12" y2="554.03" stroke="#458dfb" stroke-width="15"/>
<line x1="210.03" y1="552.13" x2="210.22" y2="555.98" stroke="#478dfb" stroke-width="15"/>
<line x1="210.12" y1="554.03" x2="210.31" y2="557.98" stroke="#488efb" stroke-width="15"/>
<line x1="210.22" y1="555.98" x2="210.4" y2="560" stroke="#4a8ffb" stroke-width="15"/>
<line x1="210.31" y1="557.98" x2="210.46" y2="561.25" stroke="#4b90fb" stroke-width="15"/>
<line x1="210.4" y1="560" x2="210.51" y2="562.53" stroke="#4c91fb" stroke-width="15"/>
<line x1="210.46" y1="561.25" x2="210.58" y2="563.84" stroke="#4d92fb" stroke-width="15"/>
<line x1="210.51" y1="562.53" x2="210.64" y2="565.17" stroke="#4e92fb" stroke-width="15"/>
<line x1="210.58" y1="563.84" x2="210.7" y2="566.52" stroke="#4f93fb" stroke-width="15"/>
<line x1="210.64" y1="565.17" x2="210.77" y2="567.9" stroke="#5094fb" stroke-width="15"/>
<line x1="210.7" y1="566.52" x2="210.84" y2="569.31" stroke="#5194fb" stroke-width="15"/>
<line x1="210.77" y1="567.9" x2="210.9" y2="570.74" stroke="#5295fb" stroke-width="15"/>
<line x1="210.84" y1="569.31" x2="210.97" y2="572.19" stroke="#5396fb" stroke-width="15"/>
<line x1="210.9" y1="570.74" x2="211.04" y2="573.67" stroke="#5497fb" stroke-width="15"/>
<line x1="210.97" y1="572.19" x2="211.11" y2="575.18" stroke="#5597fb" stroke-width="15"/>
<line x1="211.04" y1="573.67" x2="211.18" y2="576.7" stroke="#5698fb" stroke-width="15"/>
<line x1="211.11" y1="575.18" x2="211.24" y2="578.25" stroke="#5899fb" stroke-width="15"/>
<line x1="211.18" y1="576.7" x2="211.31" y2="579.83" stroke="#5a9afb" stroke-width="15"/>
<line x1="211.24" y1="578.25" x2="211.38" y2="581.43" stroke="#5b9bfb" stroke-width="15"/>
<line x1="211.31" y1="579.83" x2="211.44" y2="583.05" stroke="#5d9cfb" stroke-width="15"/>
<line x1="211.38" y1="581.43" x2="211.5" y2="584.69" stroke="#5f9dfb" stroke-width="15"/>
<line x1="211.44" y1="583.05" x2="211.56" y2="586.35" stroke="#619efb" stroke-width="15"/>
<line x1="211.5" y1="584.69" x2="211.61" y2="588.04" stroke="#63a0fb" stroke-width="15"/>
<line x1="211.56" y1="586.35" x2="211.66" y2="589.75" stroke="#65a1fb" stroke-width="15"/>
<line x1="211.61" y1="588.04" x2="211.71" y2="591.48" stroke="#67a2fb" stroke-width="15"/>
<line x1="211.66" y1="589.75" x2="211.76" y2="593.23" stroke="#69a3fb" stroke-width="15"/>
<line x1="211.71" y1="591.48" x2="211.8" y2="595" stroke="#6ba4fb" stroke-width="15"/>
<line x1="211.76" y1="593.23" x2="211.83" y2="596.36" stroke="#6da5fb" stroke-width="15"/>
<line x1="211.8" y1="595" x2="211.85" y2="597.79" stroke="#6fa6fb" stroke-width="15"/>
<line x1="211.83" y1="596.36" x2="211.88" y2="599.27" stroke="#70a7fb" stroke-width="15"/>
<line x1="211.85" y1="597.79" x2="211.9" y2="600.82" stroke="#72a8fb" stroke-width="15"/>
<line x1="211.88" y1="599.27" x2="211.93" y2="602.41" stroke="#74a9fb" stroke-width="15"/>
<line x1="211.9" y1="600.82" x2="211.95" y2="604.05" stroke="#75abfb" stroke-width="15"/>
<line x1="211.93" y1="602.41" x2="211.97" y2="605.73" stroke="#77acfb" stroke-width="15"/>
<line x1="211.95" y1="604.05" x2="211.98" y2="607.44" stroke="#79adfb" stroke-width="15"/>
<line x1="211.97" y1="605.73" x2="212" y2="609.17" stroke="#7baefb" stroke-width="15"/>
<line x1="211.98" y1="607.44" x2="212.02" y2="610.93" stroke="#7daffc" stroke-width="15"/>
<line x1="212" y1="609.17" x2="212.03" y2="612.7" stroke="#7fb0fc" stroke-width="15"/>
<line x1="212.02" y1="610.93" x2="212.05" y2="614.48" stroke="#81b1fc" stroke-width="15"/>
<line x1="212.03" y1="612.7" x2="212.06" y2="616.26" stroke="#83b3fc" stroke-width="15"/>
<line x1="212.05" y1="614.48" x2="212.07" y2="618.04" stroke="#85b4fc" stroke-width="15"/>
<line x1="212.06" y1="616.26" x2="212.08" y2="619.81" stroke="#87b5fc" stroke-width="15"/>
<line x1="212.07" y1="618.04" x2="212.09" y2="621.56" stroke="#89b6fc" stroke-width="15"/>
<line x1="212.08" y1="619.81" x2="212.1" y2="623.29" stroke="#8bb8fc" stroke-width="15"/>
<line x1="212.09" y1="621.56" x2="212.11" y2="625" stroke="#8db9fc" stroke-width="15"/>
<line x1="212.1" y1="623.29" x2="212.12" y2="626.67" stroke="#8fbafc" stroke-width="15"/>
<line x1="212.11" y1="625" x2="212.13" y2="628.31" stroke="#91bbfc" stroke-width="15"/>
<line x1="212.12" y1="626.67" x2="212.14" y2="629.89" stroke="#93bcfc" stroke-width="15"/>
<line x1="212.13" y1="628.31" x2="212.14" y2="631.43" stroke="#95bdfc" stroke-width="15"/>
<line x1="212.14" y1="629.89" x2="212.15" y2="632.91" stroke="#97befc" stroke-width="15"/>
<line x1="212.14" y1="631.43" x2="212.16" y2="634.33" stroke="#99bffc" stroke-width="15"/>
<line x1="212.15" y1="632.91" x2="212.16" y2="635.68" stroke="#9ac0fc" stroke-width="15"/>
<line x1="212.16" y1="634.33" x2="212.17" y2="636.95" stroke="#9cc1fc" stroke-width="15"/>
<line x1="212.16" y1="635.68" x2="212.18" y2="638.15" stroke="#9dc2fc" stroke-width="15"/>
<line x1="212.17" y1="636.95" x2="212.18" y2="639.26" stroke="#9fc3fc" stroke-width="15"/>
<line x1="212.18" y1="638.15" x2="212.19" y2="640.27" stroke="#a0c4fc" stroke-width="15"/>
<line x1="212.18" y1="639.26" x2="212.19" y2="641.19" stroke="#a1c4fc" stroke-width="15"/>
<line x1="212.19" y1="640.27" x2="212.2" y2="642" stroke="#a3c5fc" stroke-width="15"/>
<line x1="212.19" y1="641.19" x2="212.2" y2="642" stroke="#a4c6fc" stroke-width="15"/>
<polygon points="59.5,426.6 94.6,429.3 94.6,443.3 59.5,441.4" fill="#fc5a08" stroke="#3a3a3a" stroke-width="1.9" stroke-linejoin="miter"/>
<polygon points="198,508.2 210.2,506.3 215.6,539.4 203.6,541.8" fill="#3c86fb" stroke="#3a3a3a" stroke-width="2" stroke-linejoin="miter"/>
<polygon points="117.24,451.86 127.34,450.44 128.76,460.54 118.66,461.96" fill="#b2b2b2" stroke="#3a3a3a" stroke-width="1.9" stroke-linejoin="miter"/>
<polygon points="115.05,473.45 124.95,473.45 124.95,483.35 115.05,483.35" fill="#b2b2b2" stroke="#3a3a3a" stroke-width="1.9" stroke-linejoin="miter"/>
<polygon points="117.18,495.66 126.64,499.48 122.82,508.94 113.36,505.12" fill="#b2b2b2" stroke="#3a3a3a" stroke-width="1.9" stroke-linejoin="miter"/>
<polygon points="115.95,516.35 125.85,516.35 125.85,526.25 115.95,526.25" fill="#b2b2b2" stroke="#3a3a3a" stroke-width="1.9" stroke-linejoin="miter"/>
<polygon points="205.9,566.6 216.5,566.6 216.5,577.2 205.9,577.2" fill="#00ee00" stroke="#3a3a3a" stroke-width="2" stroke-linejoin="miter"/>
<polygon points="235.35,568.15 244.25,571.75 240.65,580.65 231.75,577.05" fill="#00ee00" stroke="#3a3a3a" stroke-width="1.8" stroke-linejoin="miter"/>
<rect x="7" y="355" width="2.1" height="290" fill="#fff"/>
<rect x="0" y="355" width="300" height="8.3" fill="#fff"/>
</g>
<path fill-rule="evenodd" fill="#7a7a7a" d="M6 359.2H287V640H6ZM8 361.9H284.2V638H8Z"/>
<g clip-path="url(#cp6)">
<g transform="translate(234.5,36.5)">
<rect x="198" y="300" width="6" height="38.5" fill="#adadad"/>
<rect x="222" y="300" width="6" height="38.5" fill="#ffa922"/>
<rect x="270.3" y="300" width="6.5" height="38.5" fill="#adadad"/>
<rect x="-10" y="394.5" width="145" height="6.8" fill="#adadad"/>
<rect x="113" y="418.7" width="22" height="6.6" fill="#adadad"/>
<rect x="77" y="418.7" width="22" height="6.6" fill="#adadad"/>
<rect x="41" y="418.7" width="22" height="6.6" fill="#adadad"/>
<rect x="5" y="418.7" width="22" height="6.6" fill="#adadad"/>
<rect x="-31" y="418.7" width="22" height="6.6" fill="#adadad"/>
<rect x="-10" y="443.2" width="111.5" height="5.8" fill="#ffa922"/>
<rect x="100" y="442.2" width="19.5" height="6.1" fill="#ffa922"/>
<rect x="-10" y="462.6" width="114" height="6.2" fill="#adadad"/>
<rect x="103" y="463.4" width="18" height="6.4" fill="#adadad"/>
<rect x="86" y="488.6" width="22.5" height="5.8" fill="#adadad"/>
<rect x="50" y="488.6" width="22.5" height="5.8" fill="#adadad"/>
<rect x="14" y="488.6" width="22.5" height="5.8" fill="#adadad"/>
<rect x="-22" y="488.6" width="22.5" height="5.8" fill="#adadad"/>
<rect x="-10" y="512.2" width="131" height="6.4" fill="#adadad"/>
<rect x="313" y="511.6" width="57" height="6.8" fill="#adadad"/>
<rect x="195.8" y="578" width="4.8" height="82" fill="#ffa922"/>
<rect x="222" y="575" width="6" height="85" fill="#adadad"/>
<rect x="246.2" y="598" width="6.2" height="62" fill="#adadad"/>
<g fill="#5e5e5e"><path d="M167.2 310L160 350.5L166.8 350.5L174 310Z"/><path d="M163.4 347.1L135 374.1L135 380.9L163.4 353.9Z"/><path d="M135 374.1L102 381.6L102 388.4L135 380.9Z"/><path d="M102 381.6L-10 382.1L-10 388.9L102 388.4Z"/><path d="M160 350.5L166.8 350.5L163.4 353.9L163.4 347.1Z"/><path d="M160 350.5L166.8 350.5L163.4 347.1L163.4 353.9Z"/><path d="M160 350.5L163.4 347.1L166.8 350.5L163.4 353.9Z"/><path d="M135 374.1L135 380.9L135 380.9L135 374.1Z"/><path d="M135 374.1L135 380.9L135 374.1L135 380.9Z"/><path d="M135 374.1L135 374.1L135 380.9L135 380.9Z"/><path d="M102 381.6L102 388.4L102 388.4L102 381.6Z"/><path d="M102 381.6L102 388.4L102 381.6L102 388.4Z"/><path d="M102 381.6L102 381.6L102 388.4L102 388.4Z"/></g>
<g fill="#5e5e5e"><path d="M301.6 310L306.4 353L313.2 353L308.4 310Z"/><path d="M306.4 353L330.6 378.5L337.4 378.5L313.2 353Z"/><path d="M334 375.1L346 378.2L346 385L334 381.9Z"/><path d="M346 378.2L370 380.4L370 387.2L346 385Z"/><path d="M306.4 353L313.2 353L313.2 353L306.4 353Z"/><path d="M306.4 353L313.2 353L306.4 353L313.2 353Z"/><path d="M306.4 353L306.4 353L313.2 353L313.2 353Z"/><path d="M330.6 378.5L337.4 378.5L334 381.9L334 375.1Z"/><path d="M330.6 378.5L337.4 378.5L334 375.1L334 381.9Z"/><path d="M330.6 378.5L334 375.1L337.4 378.5L334 381.9Z"/><path d="M346 378.2L346 385L346 385L346 378.2Z"/><path d="M346 378.2L346 385L346 378.2L346 385Z"/><path d="M346 378.2L346 378.2L346 385L346 385Z"/></g>
<g fill="#5e5e5e"><path d="M-10 524L60 523.8L60 530.6L-10 530.8Z"/><path d="M60 523.8L95 523.6L95 530.4L60 530.6Z"/><path d="M95 523.6L112 525.1L112 531.9L95 530.4Z"/><path d="M112 525.1L128 528.4L128 535.2L112 531.9Z"/><path d="M128 528.4L140 535.1L140 541.9L128 535.2Z"/><path d="M140 535.1L151 545.1L151 551.9L140 541.9Z"/><path d="M147.6 548.5L159.1 561.5L165.9 561.5L154.4 548.5Z"/><path d="M159.1 561.5L163.6 578L170.4 578L165.9 561.5Z"/><path d="M163.6 578L167.2 596L174 596L170.4 578Z"/><path d="M167.2 596L168 660L174.8 660L174 596Z"/><path d="M60 523.8L60 530.6L60 530.6L60 523.8Z"/><path d="M60 523.8L60 530.6L60 523.8L60 530.6Z"/><path d="M60 523.8L60 523.8L60 530.6L60 530.6Z"/><path d="M95 523.6L95 530.4L95 530.4L95 523.6Z"/><path d="M95 523.6L95 530.4L95 523.6L95 530.4Z"/><path d="M95 523.6L95 523.6L95 530.4L95 530.4Z"/><path d="M112 525.1L112 531.9L112 531.9L112 525.1Z"/><path d="M112 525.1L112 531.9L112 525.1L112 531.9Z"/><path d="M112 525.1L112 525.1L112 531.9L112 531.9Z"/><path d="M128 528.4L128 535.2L128 535.2L128 528.4Z"/><path d="M128 528.4L128 535.2L128 528.4L128 535.2Z"/><path d="M128 528.4L128 528.4L128 535.2L128 535.2Z"/><path d="M140 535.1L140 541.9L140 541.9L140 535.1Z"/><path d="M140 535.1L140 541.9L140 535.1L140 541.9Z"/><path d="M140 535.1L140 535.1L140 541.9L140 541.9Z"/><path d="M151 545.1L151 551.9L154.4 548.5L147.6 548.5Z"/><path d="M151 545.1L151 551.9L147.6 548.5L154.4 548.5Z"/><path d="M151 545.1L147.6 548.5L151 551.9L154.4 548.5Z"/><path d="M159.1 561.5L165.9 561.5L165.9 561.5L159.1 561.5Z"/><path d="M159.1 561.5L165.9 561.5L159.1 561.5L165.9 561.5Z"/><path d="M159.1 561.5L159.1 561.5L165.9 561.5L165.9 561.5Z"/><path d="M163.6 578L170.4 578L170.4 578L163.6 578Z"/><path d="M163.6 578L170.4 578L163.6 578L170.4 578Z"/><path d="M163.6 578L163.6 578L170.4 578L170.4 578Z"/><path d="M167.2 596L174 596L174 596L167.2 596Z"/><path d="M167.2 596L174 596L167.2 596L174 596Z"/><path d="M167.2 596L167.2 596L174 596L174 596Z"/></g>
<g fill="#5e5e5e"><path d="M370 520.6L317 526.2L317 533L370 527.4Z"/><path d="M317 526.2L283 529.8L283 536.6L317 533Z"/><path d="M279.6 533.2L255.6 557.5L262.4 557.5L286.4 533.2Z"/><path d="M255.6 557.5L248.2 582.8L255 582.8L262.4 557.5Z"/><path d="M251.6 579.4L276 601.6L276 608.4L251.6 586.2Z"/><path d="M276 601.6L300 612.6L300 619.4L276 608.4Z"/><path d="M300 612.6L335 630.6L335 637.4L300 619.4Z"/><path d="M317 526.2L317 533L317 533L317 526.2Z"/><path d="M317 526.2L317 533L317 526.2L317 533Z"/><path d="M317 526.2L317 526.2L317 533L317 533Z"/><path d="M283 529.8L283 536.6L286.4 533.2L279.6 533.2Z"/><path d="M283 529.8L283 536.6L279.6 533.2L286.4 533.2Z"/><path d="M283 529.8L279.6 533.2L283 536.6L286.4 533.2Z"/><path d="M255.6 557.5L262.4 557.5L262.4 557.5L255.6 557.5Z"/><path d="M255.6 557.5L262.4 557.5L255.6 557.5L262.4 557.5Z"/><path d="M255.6 557.5L255.6 557.5L262.4 557.5L262.4 557.5Z"/><path d="M248.2 582.8L255 582.8L251.6 586.2L251.6 579.4Z"/><path d="M248.2 582.8L255 582.8L251.6 579.4L251.6 586.2Z"/><path d="M248.2 582.8L251.6 579.4L255 582.8L251.6 586.2Z"/><path d="M276 601.6L276 608.4L276 608.4L276 601.6Z"/><path d="M276 601.6L276 608.4L276 601.6L276 608.4Z"/><path d="M276 601.6L276 601.6L276 608.4L276 608.4Z"/><path d="M300 612.6L300 619.4L300 619.4L300 612.6Z"/><path d="M300 612.6L300 619.4L300 612.6L300 619.4Z"/><path d="M300 612.6L300 612.6L300 619.4L300 619.4Z"/></g>
</g>
<rect x="414.2" y="440.5" width="15.9" height="256" fill="url(#g21)"/>
<polygon points="434.6,525.3 448.9,520.6 461.7,526.6 463.6,530.6 457.2,542.7 461,549.4 460.2,553.4 456.5,555 449.7,557.4 433.9,553 430.9,549.4 439.2,534.4 434.9,526.1" fill="#fc640f"/>
<rect x="449.6" y="555" width="5.6" height="33" fill="url(#g22)"/>
<line x1="445.6" y1="584" x2="445.62" y2="585.83" stroke="#3c86fb" stroke-width="14.8"/>
<line x1="445.61" y1="584.84" x2="445.63" y2="586.96" stroke="#3d87fb" stroke-width="14.8"/>
<line x1="445.62" y1="585.83" x2="445.64" y2="588.2" stroke="#3e87fb" stroke-width="14.8"/>
<line x1="445.63" y1="586.96" x2="445.65" y2="589.56" stroke="#3f88fb" stroke-width="14.8"/>
<line x1="445.64" y1="588.2" x2="445.66" y2="591.01" stroke="#4089fb" stroke-width="14.8"/>
<line x1="445.65" y1="589.56" x2="445.68" y2="592.55" stroke="#4189fb" stroke-width="14.8"/>
<line x1="445.66" y1="591.01" x2="445.69" y2="594.17" stroke="#438afb" stroke-width="14.8"/>
<line x1="445.68" y1="592.55" x2="445.71" y2="595.84" stroke="#448bfb" stroke-width="14.8"/>
<line x1="445.69" y1="594.17" x2="445.72" y2="597.57" stroke="#458cfb" stroke-width="14.8"/>
<line x1="445.71" y1="595.84" x2="445.74" y2="599.33" stroke="#478dfb" stroke-width="14.8"/>
<line x1="445.72" y1="597.57" x2="445.75" y2="601.12" stroke="#488dfb" stroke-width="14.8"/>
<line x1="445.74" y1="599.33" x2="445.76" y2="602.92" stroke="#4a8efb" stroke-width="14.8"/>
<line x1="445.75" y1="601.12" x2="445.77" y2="604.72" stroke="#4c8ffb" stroke-width="14.8"/>
<line x1="445.76" y1="602.92" x2="445.78" y2="606.51" stroke="#4d90fb" stroke-width="14.8"/>
<line x1="445.77" y1="604.72" x2="445.79" y2="608.27" stroke="#4f91fb" stroke-width="14.8"/>
<line x1="445.78" y1="606.51" x2="445.8" y2="610" stroke="#5092fb" stroke-width="14.8"/>
<line x1="445.79" y1="608.27" x2="445.8" y2="611.43" stroke="#5293fb" stroke-width="14.8"/>
<line x1="445.8" y1="610" x2="445.81" y2="612.95" stroke="#5495fb" stroke-width="14.8"/>
<line x1="445.8" y1="611.43" x2="445.81" y2="614.54" stroke="#5596fb" stroke-width="14.8"/>
<line x1="445.81" y1="612.95" x2="445.81" y2="616.19" stroke="#5797fb" stroke-width="14.8"/>
<line x1="445.81" y1="614.54" x2="445.81" y2="617.9" stroke="#5898fb" stroke-width="14.8"/>
<line x1="445.81" y1="616.19" x2="445.81" y2="619.64" stroke="#5a99fb" stroke-width="14.8"/>
<line x1="445.81" y1="617.9" x2="445.81" y2="621.41" stroke="#5c9bfb" stroke-width="14.8"/>
<line x1="445.81" y1="619.64" x2="445.81" y2="623.19" stroke="#5e9cfb" stroke-width="14.8"/>
<line x1="445.81" y1="621.41" x2="445.81" y2="624.97" stroke="#609dfb" stroke-width="14.8"/>
<line x1="445.81" y1="623.19" x2="445.81" y2="626.75" stroke="#619ffb" stroke-width="14.8"/>
<line x1="445.81" y1="624.97" x2="445.81" y2="628.5" stroke="#63a0fb" stroke-width="14.8"/>
<line x1="445.81" y1="626.75" x2="445.81" y2="630.21" stroke="#65a1fb" stroke-width="14.8"/>
<line x1="445.81" y1="628.5" x2="445.81" y2="631.88" stroke="#67a3fb" stroke-width="14.8"/>
<line x1="445.81" y1="630.21" x2="445.81" y2="633.48" stroke="#69a4fb" stroke-width="14.8"/>
<line x1="445.81" y1="631.88" x2="445.81" y2="635.01" stroke="#6aa5fb" stroke-width="14.8"/>
<line x1="445.81" y1="633.48" x2="445.8" y2="636.46" stroke="#6ca6fb" stroke-width="14.8"/>
<line x1="445.81" y1="635.01" x2="445.8" y2="637.81" stroke="#6ea7fb" stroke-width="14.8"/>
<line x1="445.8" y1="636.46" x2="445.8" y2="639.06" stroke="#6fa8fb" stroke-width="14.8"/>
<line x1="445.8" y1="637.81" x2="445.8" y2="640.18" stroke="#70a9fb" stroke-width="14.8"/>
<line x1="445.8" y1="639.06" x2="445.8" y2="641.16" stroke="#72aafb" stroke-width="14.8"/>
<line x1="445.8" y1="640.18" x2="445.8" y2="642" stroke="#73abfb" stroke-width="14.8"/>
<line x1="445.8" y1="641.16" x2="445.8" y2="642" stroke="#74acfb" stroke-width="14.8"/>
<polygon points="433.6,553.9 448.2,556.6 452,584.2 438.4,587.3" fill="#3c86fb" stroke="#3a3a3a" stroke-width="2" stroke-linejoin="miter"/>
<polygon points="449.4,520.6 461.7,526.2 447.6,556.6 435,551.2" fill="#fc5a08" stroke="#3a3a3a" stroke-width="1.9" stroke-linejoin="miter"/>
<polygon points="351.74,488.36 361.84,486.94 363.26,497.04 353.16,498.46" fill="#b2b2b2" stroke="#3a3a3a" stroke-width="1.9" stroke-linejoin="miter"/>
<polygon points="349.55,509.95 359.45,509.95 359.45,519.85 349.55,519.85" fill="#b2b2b2" stroke="#3a3a3a" stroke-width="1.9" stroke-linejoin="miter"/>
<polygon points="351.68,532.16 361.14,535.98 357.32,545.44 347.86,541.62" fill="#b2b2b2" stroke="#3a3a3a" stroke-width="1.9" stroke-linejoin="miter"/>
<polygon points="350.45,552.85 360.35,552.85 360.35,562.75 350.45,562.75" fill="#b2b2b2" stroke="#3a3a3a" stroke-width="1.9" stroke-linejoin="miter"/>
<polygon points="440.4,603.1 451,603.1 451,613.7 440.4,613.7" fill="#00ee00" stroke="#3a3a3a" stroke-width="2" stroke-linejoin="miter"/>
<polygon points="469.85,604.65 478.75,608.25 475.15,617.15 466.25,613.55" fill="#00ee00" stroke="#3a3a3a" stroke-width="1.8" stroke-linejoin="miter"/>
</g>
<path fill-rule="evenodd" fill="#7a7a7a" d="M302 362.2H582V642.8H302ZM304 364.7H580V640.1H304Z"/>
<g clip-path="url(#cp7)">
<g transform="translate(533.5,21)">
<rect x="198" y="300" width="6" height="38.5" fill="#adadad"/>
<rect x="222" y="300" width="6" height="38.5" fill="#ffa922"/>
<rect x="270.3" y="300" width="6.5" height="38.5" fill="#adadad"/>
<rect x="-10" y="394.5" width="145" height="6.8" fill="#adadad"/>
<rect x="113" y="418.7" width="22" height="6.6" fill="#adadad"/>
<rect x="77" y="418.7" width="22" height="6.6" fill="#adadad"/>
<rect x="41" y="418.7" width="22" height="6.6" fill="#adadad"/>
<rect x="5" y="418.7" width="22" height="6.6" fill="#adadad"/>
<rect x="-31" y="418.7" width="22" height="6.6" fill="#adadad"/>
<rect x="-10" y="443.2" width="111.5" height="5.8" fill="#ffa922"/>
<rect x="100" y="442.2" width="19.5" height="6.1" fill="#ffa922"/>
<rect x="-10" y="462.6" width="114" height="6.2" fill="#adadad"/>
<rect x="103" y="463.4" width="18" height="6.4" fill="#adadad"/>
<rect x="86" y="488.6" width="22.5" height="5.8" fill="#adadad"/>
<rect x="50" y="488.6" width="22.5" height="5.8" fill="#adadad"/>
<rect x="14" y="488.6" width="22.5" height="5.8" fill="#adadad"/>
<rect x="-22" y="488.6" width="22.5" height="5.8" fill="#adadad"/>
<rect x="-10" y="512.2" width="131" height="6.4" fill="#adadad"/>
<rect x="313" y="511.6" width="57" height="6.8" fill="#adadad"/>
<rect x="195.8" y="578" width="4.8" height="82" fill="#ffa922"/>
<rect x="222" y="575" width="6" height="85" fill="#adadad"/>
<rect x="246.2" y="598" width="6.2" height="62" fill="#adadad"/>
<g fill="#5e5e5e"><path d="M167.2 310L160 350.5L166.8 350.5L174 310Z"/><path d="M163.4 347.1L135 374.1L135 380.9L163.4 353.9Z"/><path d="M135 374.1L102 381.6L102 388.4L135 380.9Z"/><path d="M102 381.6L-10 382.1L-10 388.9L102 388.4Z"/><path d="M160 350.5L166.8 350.5L163.4 353.9L163.4 347.1Z"/><path d="M160 350.5L166.8 350.5L163.4 347.1L163.4 353.9Z"/><path d="M160 350.5L163.4 347.1L166.8 350.5L163.4 353.9Z"/><path d="M135 374.1L135 380.9L135 380.9L135 374.1Z"/><path d="M135 374.1L135 380.9L135 374.1L135 380.9Z"/><path d="M135 374.1L135 374.1L135 380.9L135 380.9Z"/><path d="M102 381.6L102 388.4L102 388.4L102 381.6Z"/><path d="M102 381.6L102 388.4L102 381.6L102 388.4Z"/><path d="M102 381.6L102 381.6L102 388.4L102 388.4Z"/></g>
<g fill="#5e5e5e"><path d="M301.6 310L306.4 353L313.2 353L308.4 310Z"/><path d="M306.4 353L330.6 378.5L337.4 378.5L313.2 353Z"/><path d="M334 375.1L346 378.2L346 385L334 381.9Z"/><path d="M346 378.2L370 380.4L370 387.2L346 385Z"/><path d="M306.4 353L313.2 353L313.2 353L306.4 353Z"/><path d="M306.4 353L313.2 353L306.4 353L313.2 353Z"/><path d="M306.4 353L306.4 353L313.2 353L313.2 353Z"/><path d="M330.6 378.5L337.4 378.5L334 381.9L334 375.1Z"/><path d="M330.6 378.5L337.4 378.5L334 375.1L334 381.9Z"/><path d="M330.6 378.5L334 375.1L337.4 378.5L334 381.9Z"/><path d="M346 378.2L346 385L346 385L346 378.2Z"/><path d="M346 378.2L346 385L346 378.2L346 385Z"/><path d="M346 378.2L346 378.2L346 385L346 385Z"/></g>
<g fill="#5e5e5e"><path d="M-10 524L60 523.8L60 530.6L-10 530.8Z"/><path d="M60 523.8L95 523.6L95 530.4L60 530.6Z"/><path d="M95 523.6L112 525.1L112 531.9L95 530.4Z"/><path d="M112 525.1L128 528.4L128 535.2L112 531.9Z"/><path d="M128 528.4L140 535.1L140 541.9L128 535.2Z"/><path d="M140 535.1L151 545.1L151 551.9L140 541.9Z"/><path d="M147.6 548.5L159.1 561.5L165.9 561.5L154.4 548.5Z"/><path d="M159.1 561.5L163.6 578L170.4 578L165.9 561.5Z"/><path d="M163.6 578L167.2 596L174 596L170.4 578Z"/><path d="M167.2 596L168 660L174.8 660L174 596Z"/><path d="M60 523.8L60 530.6L60 530.6L60 523.8Z"/><path d="M60 523.8L60 530.6L60 523.8L60 530.6Z"/><path d="M60 523.8L60 523.8L60 530.6L60 530.6Z"/><path d="M95 523.6L95 530.4L95 530.4L95 523.6Z"/><path d="M95 523.6L95 530.4L95 523.6L95 530.4Z"/><path d="M95 523.6L95 523.6L95 530.4L95 530.4Z"/><path d="M112 525.1L112 531.9L112 531.9L112 525.1Z"/><path d="M112 525.1L112 531.9L112 525.1L112 531.9Z"/><path d="M112 525.1L112 525.1L112 531.9L112 531.9Z"/><path d="M128 528.4L128 535.2L128 535.2L128 528.4Z"/><path d="M128 528.4L128 535.2L128 528.4L128 535.2Z"/><path d="M128 528.4L128 528.4L128 535.2L128 535.2Z"/><path d="M140 535.1L140 541.9L140 541.9L140 535.1Z"/><path d="M140 535.1L140 541.9L140 535.1L140 541.9Z"/><path d="M140 535.1L140 535.1L140 541.9L140 541.9Z"/><path d="M151 545.1L151 551.9L154.4 548.5L147.6 548.5Z"/><path d="M151 545.1L151 551.9L147.6 548.5L154.4 548.5Z"/><path d="M151 545.1L147.6 548.5L151 551.9L154.4 548.5Z"/><path d="M159.1 561.5L165.9 561.5L165.9 561.5L159.1 561.5Z"/><path d="M159.1 561.5L165.9 561.5L159.1 561.5L165.9 561.5Z"/><path d="M159.1 561.5L159.1 561.5L165.9 561.5L165.9 561.5Z"/><path d="M163.6 578L170.4 578L170.4 578L163.6 578Z"/><path d="M163.6 578L170.4 578L163.6 578L170.4 578Z"/><path d="M163.6 578L163.6 578L170.4 578L170.4 578Z"/><path d="M167.2 596L174 596L174 596L167.2 596Z"/><path d="M167.2 596L174 596L167.2 596L174 596Z"/><path d="M167.2 596L167.2 596L174 596L174 596Z"/></g>
<g fill="#5e5e5e"><path d="M370 520.6L317 526.2L317 533L370 527.4Z"/><path d="M317 526.2L283 529.8L283 536.6L317 533Z"/><path d="M279.6 533.2L255.6 557.5L262.4 557.5L286.4 533.2Z"/><path d="M255.6 557.5L248.2 582.8L255 582.8L262.4 557.5Z"/><path d="M251.6 579.4L276 601.6L276 608.4L251.6 586.2Z"/><path d="M276 601.6L300 612.6L300 619.4L276 608.4Z"/><path d="M300 612.6L335 630.6L335 637.4L300 619.4Z"/><path d="M317 526.2L317 533L317 533L317 526.2Z"/><path d="M317 526.2L317 533L317 526.2L317 533Z"/><path d="M317 526.2L317 526.2L317 533L317 533Z"/><path d="M283 529.8L283 536.6L286.4 533.2L279.6 533.2Z"/><path d="M283 529.8L283 536.6L279.6 533.2L286.4 533.2Z"/><path d="M283 529.8L279.6 533.2L283 536.6L286.4 533.2Z"/><path d="M255.6 557.5L262.4 557.5L262.4 557.5L255.6 557.5Z"/><path d="M255.6 557.5L262.4 557.5L255.6 557.5L262.4 557.5Z"/><path d="M255.6 557.5L255.6 557.5L262.4 557.5L262.4 557.5Z"/><path d="M248.2 582.8L255 582.8L251.6 586.2L251.6 579.4Z"/><path d="M248.2 582.8L255 582.8L251.6 579.4L251.6 586.2Z"/><path d="M248.2 582.8L251.6 579.4L255 582.8L251.6 586.2Z"/><path d="M276 601.6L276 608.4L276 608.4L276 601.6Z"/><path d="M276 601.6L276 608.4L276 601.6L276 608.4Z"/><path d="M276 601.6L276 601.6L276 608.4L276 608.4Z"/><path d="M300 612.6L300 619.4L300 619.4L300 612.6Z"/><path d="M300 612.6L300 619.4L300 612.6L300 619.4Z"/><path d="M300 612.6L300 612.6L300 619.4L300 619.4Z"/></g>
</g>
<rect x="712.9" y="425" width="16.1" height="256" fill="url(#g23)"/>
<line x1="752.4" y1="572" x2="752.48" y2="569.79" stroke="#fee4d9" stroke-width="9.07" stroke-opacity="0.02"/>
<line x1="752.43" y1="571.04" x2="752.55" y2="568.31" stroke="#fee2d8" stroke-width="9.24" stroke-opacity="0.07"/>
<line x1="752.48" y1="569.79" x2="752.62" y2="566.66" stroke="#fee1d6" stroke-width="9.44" stroke-opacity="0.12"/>
<line x1="752.55" y1="568.31" x2="752.69" y2="564.88" stroke="#fedfd4" stroke-width="9.68" stroke-opacity="0.19"/>
<line x1="752.62" y1="566.66" x2="752.75" y2="563.02" stroke="#feded1" stroke-width="9.94" stroke-opacity="0.26"/>
<line x1="752.69" y1="564.88" x2="752.8" y2="561.16" stroke="#fedccf" stroke-width="10.21" stroke-opacity="0.34"/>
<line x1="752.75" y1="563.02" x2="752.83" y2="559.33" stroke="#fedacc" stroke-width="10.49" stroke-opacity="0.42"/>
<line x1="752.8" y1="561.16" x2="752.83" y2="557.59" stroke="#fdd8c9" stroke-width="10.77" stroke-opacity="0.5"/>
<line x1="752.83" y1="559.33" x2="752.8" y2="556" stroke="#fdd6c7" stroke-width="11.04" stroke-opacity="0.57"/>
<line x1="752.83" y1="557.59" x2="752.73" y2="554.36" stroke="#fdd5c5" stroke-width="11.29" stroke-opacity="0.64"/>
<line x1="752.8" y1="556" x2="752.64" y2="552.75" stroke="#fdd3c2" stroke-width="11.53" stroke-opacity="0.7"/>
<line x1="752.73" y1="554.36" x2="752.52" y2="551.19" stroke="#fdd1c0" stroke-width="11.78" stroke-opacity="0.72"/>
<line x1="752.64" y1="552.75" x2="752.38" y2="549.64" stroke="#fdd0be" stroke-width="12.01" stroke-opacity="0.73"/>
<line x1="752.52" y1="551.19" x2="752.22" y2="548.11" stroke="#fdcdba" stroke-width="12.09" stroke-opacity="0.74"/>
<line x1="752.38" y1="549.64" x2="752.04" y2="546.59" stroke="#fdcbb7" stroke-width="12.18" stroke-opacity="0.76"/>
<line x1="752.22" y1="548.11" x2="751.84" y2="545.07" stroke="#fdc8b4" stroke-width="12.27" stroke-opacity="0.77"/>
<line x1="752.04" y1="546.59" x2="751.63" y2="543.54" stroke="#fdc6b0" stroke-width="12.35" stroke-opacity="0.78"/>
<line x1="751.84" y1="545.07" x2="751.4" y2="542" stroke="#fdc3ad" stroke-width="12.44" stroke-opacity="0.8"/>
<line x1="751.63" y1="543.54" x2="751.15" y2="540.42" stroke="#fdc1a9" stroke-width="12.53" stroke-opacity="0.81"/>
<line x1="751.4" y1="542" x2="750.89" y2="538.81" stroke="#fdbea6" stroke-width="12.62" stroke-opacity="0.82"/>
<line x1="751.15" y1="540.42" x2="750.6" y2="537.19" stroke="#fdbca2" stroke-width="12.71" stroke-opacity="0.84"/>
<line x1="750.89" y1="538.81" x2="750.3" y2="535.56" stroke="#fdb99f" stroke-width="12.8" stroke-opacity="0.85"/>
<line x1="750.6" y1="537.19" x2="749.98" y2="533.95" stroke="#fdb79b" stroke-width="12.9" stroke-opacity="0.86"/>
<line x1="750.3" y1="535.56" x2="749.64" y2="532.37" stroke="#fdb497" stroke-width="12.99" stroke-opacity="0.88"/>
<line x1="749.98" y1="533.95" x2="749.3" y2="530.84" stroke="#fdb194" stroke-width="13.08" stroke-opacity="0.89"/>
<line x1="749.64" y1="532.37" x2="748.95" y2="529.38" stroke="#fdae8f" stroke-width="13.17" stroke-opacity="0.9"/>
<line x1="749.3" y1="530.84" x2="748.6" y2="528" stroke="#fdaa89" stroke-width="13.26" stroke-opacity="0.91"/>
<line x1="748.95" y1="529.38" x2="748.16" y2="526.35" stroke="#fda783" stroke-width="13.34" stroke-opacity="0.91"/>
<line x1="748.6" y1="528" x2="747.73" y2="524.82" stroke="#fda37d" stroke-width="13.43" stroke-opacity="0.92"/>
<line x1="748.16" y1="526.35" x2="747.29" y2="523.38" stroke="#fd9f77" stroke-width="13.49" stroke-opacity="0.93"/>
<line x1="747.73" y1="524.82" x2="746.82" y2="522.01" stroke="#fc9b71" stroke-width="13.45" stroke-opacity="0.93"/>
<line x1="747.29" y1="523.38" x2="746.3" y2="520.67" stroke="#fc986b" stroke-width="13.42" stroke-opacity="0.94"/>
<line x1="746.82" y1="522.01" x2="745.7" y2="519.34" stroke="#fc9466" stroke-width="13.38" stroke-opacity="0.94"/>
<line x1="746.3" y1="520.67" x2="745" y2="518" stroke="#fc9160" stroke-width="13.34" stroke-opacity="0.95"/>
<line x1="745.7" y1="519.34" x2="744.12" y2="516.58" stroke="#fc8d5a" stroke-width="13.31" stroke-opacity="0.95"/>
<line x1="745" y1="518" x2="743.04" y2="515.09" stroke="#fc8954" stroke-width="13.27" stroke-opacity="0.96"/>
<line x1="744.12" y1="516.58" x2="741.87" y2="513.6" stroke="#fc864f" stroke-width="13.22" stroke-opacity="0.97"/>
<line x1="743.04" y1="515.09" x2="740.69" y2="512.17" stroke="#fc8249" stroke-width="13.17" stroke-opacity="0.97"/>
<line x1="741.87" y1="513.6" x2="739.59" y2="510.89" stroke="#fc7e43" stroke-width="13.13" stroke-opacity="0.98"/>
<line x1="740.69" y1="512.17" x2="738.66" y2="509.8" stroke="#fc7b3e" stroke-width="13.08" stroke-opacity="0.99"/>
<line x1="739.59" y1="510.89" x2="738" y2="509" stroke="#fc7839" stroke-width="13.04" stroke-opacity="0.99"/>
<line x1="738.66" y1="509.8" x2="738" y2="509" stroke="#fc7536" stroke-width="13.01" stroke-opacity="1"/>
<polygon points="725.4,504.1 733.7,504.8 739.7,511.6 750.2,512.4 752,518 753.3,526 748,531 742.7,525" fill="url(#g24)"/>
<polygon points="708,508.6 710,518 712.6,525.4 720,525.4 724,523" fill="#fc7a3c"/>
<line x1="742.4" y1="558" x2="742.51" y2="560.01" stroke="#3c86fb" stroke-width="14.8"/>
<line x1="742.45" y1="558.9" x2="742.59" y2="561.3" stroke="#3d87fb" stroke-width="14.8"/>
<line x1="742.51" y1="560.01" x2="742.67" y2="562.74" stroke="#3e87fb" stroke-width="14.8"/>
<line x1="742.59" y1="561.3" x2="742.76" y2="564.32" stroke="#3e87fb" stroke-width="14.8"/>
<line x1="742.67" y1="562.74" x2="742.86" y2="565.99" stroke="#3f88fb" stroke-width="14.8"/>
<line x1="742.76" y1="564.32" x2="742.96" y2="567.75" stroke="#4089fb" stroke-width="14.8"/>
<line x1="742.86" y1="565.99" x2="743.06" y2="569.56" stroke="#4189fb" stroke-width="14.8"/>
<line x1="742.96" y1="567.75" x2="743.17" y2="571.39" stroke="#428afb" stroke-width="14.8"/>
<line x1="743.06" y1="569.56" x2="743.27" y2="573.22" stroke="#438afb" stroke-width="14.8"/>
<line x1="743.17" y1="571.39" x2="743.36" y2="575.02" stroke="#458bfb" stroke-width="14.8"/>
<line x1="743.27" y1="573.22" x2="743.45" y2="576.77" stroke="#468cfb" stroke-width="14.8"/>
<line x1="743.36" y1="575.02" x2="743.53" y2="578.44" stroke="#478cfb" stroke-width="14.8"/>
<line x1="743.45" y1="576.77" x2="743.6" y2="580" stroke="#488dfb" stroke-width="14.8"/>
<line x1="743.53" y1="578.44" x2="743.67" y2="581.54" stroke="#498efb" stroke-width="14.8"/>
<line x1="743.6" y1="580" x2="743.73" y2="582.97" stroke="#4a8efb" stroke-width="14.8"/>
<line x1="743.67" y1="581.54" x2="743.79" y2="584.3" stroke="#4a8ffb" stroke-width="14.8"/>
<line x1="743.73" y1="582.97" x2="743.85" y2="585.58" stroke="#4b8ffb" stroke-width="14.8"/>
<line x1="743.79" y1="584.3" x2="743.9" y2="586.84" stroke="#4c90fb" stroke-width="14.8"/>
<line x1="743.85" y1="585.58" x2="743.95" y2="588.1" stroke="#4d90fb" stroke-width="14.8"/>
<line x1="743.9" y1="586.84" x2="743.99" y2="589.41" stroke="#4e91fb" stroke-width="14.8"/>
<line x1="743.95" y1="588.1" x2="744.03" y2="590.8" stroke="#4e91fb" stroke-width="14.8"/>
<line x1="743.99" y1="589.41" x2="744.07" y2="592.29" stroke="#4f91fb" stroke-width="14.8"/>
<line x1="744.03" y1="590.8" x2="744.11" y2="593.92" stroke="#5092fb" stroke-width="14.8"/>
<line x1="744.07" y1="592.29" x2="744.14" y2="595.73" stroke="#5193fb" stroke-width="14.8"/>
<line x1="744.11" y1="593.92" x2="744.17" y2="597.75" stroke="#5394fb" stroke-width="14.8"/>
<line x1="744.14" y1="595.73" x2="744.2" y2="600" stroke="#5595fb" stroke-width="14.8"/>
<line x1="744.17" y1="597.75" x2="744.21" y2="601.16" stroke="#5797fb" stroke-width="14.8"/>
<line x1="744.2" y1="600" x2="744.22" y2="602.42" stroke="#5998fb" stroke-width="14.8"/>
<line x1="744.21" y1="601.16" x2="744.23" y2="603.78" stroke="#5a98fb" stroke-width="14.8"/>
<line x1="744.22" y1="602.42" x2="744.24" y2="605.21" stroke="#5b99fb" stroke-width="14.8"/>
<line x1="744.23" y1="603.78" x2="744.25" y2="606.72" stroke="#5c9afb" stroke-width="14.8"/>
<line x1="744.24" y1="605.21" x2="744.26" y2="608.3" stroke="#5e9bfb" stroke-width="14.8"/>
<line x1="744.25" y1="606.72" x2="744.26" y2="609.94" stroke="#5f9cfb" stroke-width="14.8"/>
<line x1="744.26" y1="608.3" x2="744.27" y2="611.62" stroke="#619dfb" stroke-width="14.8"/>
<line x1="744.26" y1="609.94" x2="744.27" y2="613.34" stroke="#629efb" stroke-width="14.8"/>
<line x1="744.27" y1="611.62" x2="744.28" y2="615.1" stroke="#649ffb" stroke-width="14.8"/>
<line x1="744.27" y1="613.34" x2="744.28" y2="616.87" stroke="#66a0fb" stroke-width="14.8"/>
<line x1="744.28" y1="615.1" x2="744.28" y2="618.66" stroke="#67a1fb" stroke-width="14.8"/>
<line x1="744.28" y1="616.87" x2="744.29" y2="620.46" stroke="#69a3fb" stroke-width="14.8"/>
<line x1="744.28" y1="618.66" x2="744.29" y2="622.25" stroke="#6ba4fb" stroke-width="14.8"/>
<line x1="744.29" y1="620.46" x2="744.29" y2="624.03" stroke="#6ca5fb" stroke-width="14.8"/>
<line x1="744.29" y1="622.25" x2="744.29" y2="625.78" stroke="#6ea6fb" stroke-width="14.8"/>
<line x1="744.29" y1="624.03" x2="744.29" y2="627.51" stroke="#70a7fb" stroke-width="14.8"/>
<line x1="744.29" y1="625.78" x2="744.29" y2="629.2" stroke="#71a8fb" stroke-width="14.8"/>
<line x1="744.29" y1="627.51" x2="744.29" y2="630.84" stroke="#73a9fb" stroke-width="14.8"/>
<line x1="744.29" y1="629.2" x2="744.29" y2="632.42" stroke="#75aafb" stroke-width="14.8"/>
<line x1="744.29" y1="630.84" x2="744.29" y2="633.94" stroke="#76abfb" stroke-width="14.8"/>
<line x1="744.29" y1="632.42" x2="744.29" y2="635.38" stroke="#78acfb" stroke-width="14.8"/>
<line x1="744.29" y1="633.94" x2="744.29" y2="636.74" stroke="#79adfb" stroke-width="14.8"/>
<line x1="744.29" y1="635.38" x2="744.3" y2="638.01" stroke="#7aaefb" stroke-width="14.8"/>
<line x1="744.29" y1="636.74" x2="744.3" y2="639.18" stroke="#7caffb" stroke-width="14.8"/>
<line x1="744.3" y1="638.01" x2="744.3" y2="640.24" stroke="#7db0fb" stroke-width="14.8"/>
<line x1="744.3" y1="639.18" x2="744.3" y2="641.18" stroke="#7eb1fb" stroke-width="14.8"/>
<line x1="744.3" y1="640.24" x2="744.3" y2="642" stroke="#7fb1fb" stroke-width="14.8"/>
<line x1="744.3" y1="641.18" x2="744.3" y2="642" stroke="#80b2fb" stroke-width="14.8"/>
<polygon points="731.9,532.2 742.4,526 748.2,558.8 736.7,562.1" fill="#3c86fb" stroke="#3a3a3a" stroke-width="2" stroke-linejoin="miter"/>
<polygon points="717.4,497.8 742.7,524.9 732.2,532.6 707.3,507.9" fill="#fc5a08" stroke="#3a3a3a" stroke-width="1.9" stroke-linejoin="miter"/>
<polygon points="650.74,472.86 660.84,471.44 662.26,481.54 652.16,482.96" fill="#b2b2b2" stroke="#3a3a3a" stroke-width="1.9" stroke-linejoin="miter"/>
<polygon points="648.55,494.45 658.45,494.45 658.45,504.35 648.55,504.35" fill="#b2b2b2" stroke="#3a3a3a" stroke-width="1.9" stroke-linejoin="miter"/>
<polygon points="650.68,516.66 660.14,520.48 656.32,529.94 646.86,526.12" fill="#b2b2b2" stroke="#3a3a3a" stroke-width="1.9" stroke-linejoin="miter"/>
<polygon points="649.45,537.35 659.35,537.35 659.35,547.25 649.45,547.25" fill="#b2b2b2" stroke="#3a3a3a" stroke-width="1.9" stroke-linejoin="miter"/>
<polygon points="739.4,587.6 750,587.6 750,598.2 739.4,598.2" fill="#00ee00" stroke="#3a3a3a" stroke-width="2" stroke-linejoin="miter"/>
<polygon points="768.85,589.15 777.75,592.75 774.15,601.65 765.25,598.05" fill="#00ee00" stroke="#3a3a3a" stroke-width="1.8" stroke-linejoin="miter"/>
<rect x="595" y="355" width="290" height="8.2" fill="#fff"/>
</g>
<path fill-rule="evenodd" fill="#7a7a7a" d="M599.2 359.2H880V640H599.2ZM601.9 361.9H877.1V638H601.9Z"/>
<g clip-path="url(#cp8)">
<g transform="translate(821,42.5)">
<rect x="198" y="300" width="6" height="38.5" fill="#adadad"/>
<rect x="222" y="300" width="6" height="38.5" fill="#ffa922"/>
<rect x="270.3" y="300" width="6.5" height="38.5" fill="#adadad"/>
<rect x="-10" y="394.5" width="145" height="6.8" fill="#adadad"/>
<rect x="113" y="418.7" width="22" height="6.6" fill="#adadad"/>
<rect x="77" y="418.7" width="22" height="6.6" fill="#adadad"/>
<rect x="41" y="418.7" width="22" height="6.6" fill="#adadad"/>
<rect x="5" y="418.7" width="22" height="6.6" fill="#adadad"/>
<rect x="-31" y="418.7" width="22" height="6.6" fill="#adadad"/>
<rect x="-10" y="443.2" width="111.5" height="5.8" fill="#ffa922"/>
<rect x="100" y="442.2" width="19.5" height="6.1" fill="#ffa922"/>
<rect x="-10" y="462.6" width="114" height="6.2" fill="#adadad"/>
<rect x="103" y="463.4" width="18" height="6.4" fill="#adadad"/>
<rect x="86" y="488.6" width="22.5" height="5.8" fill="#adadad"/>
<rect x="50" y="488.6" width="22.5" height="5.8" fill="#adadad"/>
<rect x="14" y="488.6" width="22.5" height="5.8" fill="#adadad"/>
<rect x="-22" y="488.6" width="22.5" height="5.8" fill="#adadad"/>
<rect x="-10" y="512.2" width="131" height="6.4" fill="#adadad"/>
<rect x="313" y="511.6" width="57" height="6.8" fill="#adadad"/>
<rect x="195.8" y="578" width="4.8" height="82" fill="#ffa922"/>
<rect x="222" y="575" width="6" height="85" fill="#adadad"/>
<rect x="246.2" y="598" width="6.2" height="62" fill="#adadad"/>
<g fill="#5e5e5e"><path d="M167.2 310L160 350.5L166.8 350.5L174 310Z"/><path d="M163.4 347.1L135 374.1L135 380.9L163.4 353.9Z"/><path d="M135 374.1L102 381.6L102 388.4L135 380.9Z"/><path d="M102 381.6L-10 382.1L-10 388.9L102 388.4Z"/><path d="M160 350.5L166.8 350.5L163.4 353.9L163.4 347.1Z"/><path d="M160 350.5L166.8 350.5L163.4 347.1L163.4 353.9Z"/><path d="M160 350.5L163.4 347.1L166.8 350.5L163.4 353.9Z"/><path d="M135 374.1L135 380.9L135 380.9L135 374.1Z"/><path d="M135 374.1L135 380.9L135 374.1L135 380.9Z"/><path d="M135 374.1L135 374.1L135 380.9L135 380.9Z"/><path d="M102 381.6L102 388.4L102 388.4L102 381.6Z"/><path d="M102 381.6L102 388.4L102 381.6L102 388.4Z"/><path d="M102 381.6L102 381.6L102 388.4L102 388.4Z"/></g>
<g fill="#5e5e5e"><path d="M301.6 310L306.4 353L313.2 353L308.4 310Z"/><path d="M306.4 353L330.6 378.5L337.4 378.5L313.2 353Z"/><path d="M334 375.1L346 378.2L346 385L334 381.9Z"/><path d="M346 378.2L370 380.4L370 387.2L346 385Z"/><path d="M306.4 353L313.2 353L313.2 353L306.4 353Z"/><path d="M306.4 353L313.2 353L306.4 353L313.2 353Z"/><path d="M306.4 353L306.4 353L313.2 353L313.2 353Z"/><path d="M330.6 378.5L337.4 378.5L334 381.9L334 375.1Z"/><path d="M330.6 378.5L337.4 378.5L334 375.1L334 381.9Z"/><path d="M330.6 378.5L334 375.1L337.4 378.5L334 381.9Z"/><path d="M346 378.2L346 385L346 385L346 378.2Z"/><path d="M346 378.2L346 385L346 378.2L346 385Z"/><path d="M346 378.2L346 378.2L346 385L346 385Z"/></g>
<g fill="#5e5e5e"><path d="M-10 524L60 523.8L60 530.6L-10 530.8Z"/><path d="M60 523.8L95 523.6L95 530.4L60 530.6Z"/><path d="M95 523.6L112 525.1L112 531.9L95 530.4Z"/><path d="M112 525.1L128 528.4L128 535.2L112 531.9Z"/><path d="M128 528.4L140 535.1L140 541.9L128 535.2Z"/><path d="M140 535.1L151 545.1L151 551.9L140 541.9Z"/><path d="M147.6 548.5L159.1 561.5L165.9 561.5L154.4 548.5Z"/><path d="M159.1 561.5L163.6 578L170.4 578L165.9 561.5Z"/><path d="M163.6 578L167.2 596L174 596L170.4 578Z"/><path d="M167.2 596L168 660L174.8 660L174 596Z"/><path d="M60 523.8L60 530.6L60 530.6L60 523.8Z"/><path d="M60 523.8L60 530.6L60 523.8L60 530.6Z"/><path d="M60 523.8L60 523.8L60 530.6L60 530.6Z"/><path d="M95 523.6L95 530.4L95 530.4L95 523.6Z"/><path d="M95 523.6L95 530.4L95 523.6L95 530.4Z"/><path d="M95 523.6L95 523.6L95 530.4L95 530.4Z"/><path d="M112 525.1L112 531.9L112 531.9L112 525.1Z"/><path d="M112 525.1L112 531.9L112 525.1L112 531.9Z"/><path d="M112 525.1L112 525.1L112 531.9L112 531.9Z"/><path d="M128 528.4L128 535.2L128 535.2L128 528.4Z"/><path d="M128 528.4L128 535.2L128 528.4L128 535.2Z"/><path d="M128 528.4L128 528.4L128 535.2L128 535.2Z"/><path d="M140 535.1L140 541.9L140 541.9L140 535.1Z"/><path d="M140 535.1L140 541.9L140 535.1L140 541.9Z"/><path d="M140 535.1L140 535.1L140 541.9L140 541.9Z"/><path d="M151 545.1L151 551.9L154.4 548.5L147.6 548.5Z"/><path d="M151 545.1L151 551.9L147.6 548.5L154.4 548.5Z"/><path d="M151 545.1L147.6 548.5L151 551.9L154.4 548.5Z"/><path d="M159.1 561.5L165.9 561.5L165.9 561.5L159.1 561.5Z"/><path d="M159.1 561.5L165.9 561.5L159.1 561.5L165.9 561.5Z"/><path d="M159.1 561.5L159.1 561.5L165.9 561.5L165.9 561.5Z"/><path d="M163.6 578L170.4 578L170.4 578L163.6 578Z"/><path d="M163.6 578L170.4 578L163.6 578L170.4 578Z"/><path d="M163.6 578L163.6 578L170.4 578L170.4 578Z"/><path d="M167.2 596L174 596L174 596L167.2 596Z"/><path d="M167.2 596L174 596L167.2 596L174 596Z"/><path d="M167.2 596L167.2 596L174 596L174 596Z"/></g>
<g fill="#5e5e5e"><path d="M370 520.6L317 526.2L317 533L370 527.4Z"/><path d="M317 526.2L283 529.8L283 536.6L317 533Z"/><path d="M279.6 533.2L255.6 557.5L262.4 557.5L286.4 533.2Z"/><path d="M255.6 557.5L248.2 582.8L255 582.8L262.4 557.5Z"/><path d="M251.6 579.4L276 601.6L276 608.4L251.6 586.2Z"/><path d="M276 601.6L300 612.6L300 619.4L276 608.4Z"/><path d="M300 612.6L335 630.6L335 637.4L300 619.4Z"/><path d="M317 526.2L317 533L317 533L317 526.2Z"/><path d="M317 526.2L317 533L317 526.2L317 533Z"/><path d="M317 526.2L317 526.2L317 533L317 533Z"/><path d="M283 529.8L283 536.6L286.4 533.2L279.6 533.2Z"/><path d="M283 529.8L283 536.6L279.6 533.2L286.4 533.2Z"/><path d="M283 529.8L279.6 533.2L283 536.6L286.4 533.2Z"/><path d="M255.6 557.5L262.4 557.5L262.4 557.5L255.6 557.5Z"/><path d="M255.6 557.5L262.4 557.5L255.6 557.5L262.4 557.5Z"/><path d="M255.6 557.5L255.6 557.5L262.4 557.5L262.4 557.5Z"/><path d="M248.2 582.8L255 582.8L251.6 586.2L251.6 579.4Z"/><path d="M248.2 582.8L255 582.8L251.6 579.4L251.6 586.2Z"/><path d="M248.2 582.8L251.6 579.4L255 582.8L251.6 586.2Z"/><path d="M276 601.6L276 608.4L276 608.4L276 601.6Z"/><path d="M276 601.6L276 608.4L276 601.6L276 608.4Z"/><path d="M276 601.6L276 601.6L276 608.4L276 608.4Z"/><path d="M300 612.6L300 619.4L300 619.4L300 612.6Z"/><path d="M300 612.6L300 619.4L300 612.6L300 619.4Z"/><path d="M300 612.6L300 612.6L300 619.4L300 619.4Z"/></g>
</g>
<rect x="999.7" y="446.5" width="17.5" height="256" fill="url(#g25)"/>
<line x1="996" y1="480.5" x2="998.2" y2="481.13" stroke="#fc5a09" stroke-width="14.56" stroke-opacity="1"/>
<line x1="996.94" y1="480.78" x2="999.7" y2="481.54" stroke="#fc5b0a" stroke-width="14.7" stroke-opacity="1"/>
<line x1="998.2" y1="481.13" x2="1001.36" y2="482.01" stroke="#fc5c0c" stroke-width="14.88" stroke-opacity="1"/>
<line x1="999.7" y1="481.54" x2="1003.1" y2="482.54" stroke="#fc5e0e" stroke-width="15.08" stroke-opacity="1"/>
<line x1="1001.36" y1="482.01" x2="1004.85" y2="483.13" stroke="#fc5f10" stroke-width="15.3" stroke-opacity="1"/>
<line x1="1003.1" y1="482.54" x2="1006.5" y2="483.79" stroke="#fc6112" stroke-width="15.53" stroke-opacity="1"/>
<line x1="1004.85" y1="483.13" x2="1008" y2="484.5" stroke="#fc6214" stroke-width="15.75" stroke-opacity="1"/>
<line x1="1006.5" y1="483.79" x2="1009.37" y2="485.27" stroke="#fc6316" stroke-width="15.96" stroke-opacity="1"/>
<line x1="1008" y1="484.5" x2="1010.72" y2="486.09" stroke="#fc6518" stroke-width="16.16" stroke-opacity="1"/>
<line x1="1009.37" y1="485.27" x2="1012.04" y2="486.97" stroke="#fc661a" stroke-width="16.36" stroke-opacity="1"/>
<line x1="1010.72" y1="486.09" x2="1013.33" y2="487.91" stroke="#fc671c" stroke-width="16.55" stroke-opacity="1"/>
<line x1="1012.04" y1="486.97" x2="1014.59" y2="488.92" stroke="#fc681e" stroke-width="16.75" stroke-opacity="1"/>
<line x1="1013.33" y1="487.91" x2="1015.82" y2="490" stroke="#fc6a1f" stroke-width="16.95" stroke-opacity="1"/>
<line x1="1014.59" y1="488.92" x2="1017.02" y2="491.16" stroke="#fc6c23" stroke-width="17.05" stroke-opacity="1"/>
<line x1="1015.82" y1="490" x2="1018.2" y2="492.4" stroke="#fc6e26" stroke-width="17.13" stroke-opacity="1"/>
<line x1="1017.02" y1="491.16" x2="1019.13" y2="493.45" stroke="#fc702a" stroke-width="17.2" stroke-opacity="1"/>
<line x1="1018.2" y1="492.4" x2="1020.04" y2="494.55" stroke="#fc722e" stroke-width="17.27" stroke-opacity="1"/>
<line x1="1019.13" y1="493.45" x2="1020.95" y2="495.7" stroke="#fc7331" stroke-width="17.33" stroke-opacity="1"/>
<line x1="1020.04" y1="494.55" x2="1021.83" y2="496.89" stroke="#fc7534" stroke-width="17.4" stroke-opacity="1"/>
<line x1="1020.95" y1="495.7" x2="1022.7" y2="498.13" stroke="#fc7737" stroke-width="17.46" stroke-opacity="1"/>
<line x1="1021.83" y1="496.89" x2="1023.54" y2="499.42" stroke="#fc793b" stroke-width="17.53" stroke-opacity="1"/>
<line x1="1022.7" y1="498.13" x2="1024.36" y2="500.75" stroke="#fc7b3e" stroke-width="17.6" stroke-opacity="1"/>
<line x1="1023.54" y1="499.42" x2="1025.14" y2="502.12" stroke="#fc7d41" stroke-width="17.67" stroke-opacity="1"/>
<line x1="1024.36" y1="500.75" x2="1025.89" y2="503.54" stroke="#fc7f45" stroke-width="17.74" stroke-opacity="1"/>
<line x1="1025.14" y1="502.12" x2="1026.6" y2="505" stroke="#fc8148" stroke-width="17.81" stroke-opacity="1"/>
<line x1="1025.89" y1="503.54" x2="1027.21" y2="506.36" stroke="#fc834c" stroke-width="17.88" stroke-opacity="1"/>
<line x1="1026.6" y1="505" x2="1027.8" y2="507.74" stroke="#fc854f" stroke-width="17.95" stroke-opacity="1"/>
<line x1="1027.21" y1="506.36" x2="1028.36" y2="509.16" stroke="#fc8753" stroke-width="18.01" stroke-opacity="1"/>
<line x1="1027.8" y1="507.74" x2="1028.89" y2="510.61" stroke="#fc8956" stroke-width="18.08" stroke-opacity="1"/>
<line x1="1028.36" y1="509.16" x2="1029.4" y2="512.09" stroke="#fc8b5a" stroke-width="18.15" stroke-opacity="1"/>
<line x1="1028.89" y1="510.61" x2="1029.89" y2="513.62" stroke="#fc8d5d" stroke-width="18.17" stroke-opacity="1"/>
<line x1="1029.4" y1="512.09" x2="1030.35" y2="515.19" stroke="#fc8f60" stroke-width="18.07" stroke-opacity="1"/>
<line x1="1029.89" y1="513.62" x2="1030.8" y2="516.81" stroke="#fc9163" stroke-width="17.97" stroke-opacity="1"/>
<line x1="1030.35" y1="515.19" x2="1031.22" y2="518.48" stroke="#fc9367" stroke-width="17.87" stroke-opacity="1"/>
<line x1="1030.8" y1="516.81" x2="1031.62" y2="520.21" stroke="#fc956a" stroke-width="17.76" stroke-opacity="1"/>
<line x1="1031.22" y1="518.48" x2="1032" y2="522" stroke="#fc986e" stroke-width="17.65" stroke-opacity="1"/>
<line x1="1031.62" y1="520.21" x2="1032.26" y2="523.35" stroke="#fc9a71" stroke-width="17.53" stroke-opacity="1"/>
<line x1="1032" y1="522" x2="1032.51" y2="524.75" stroke="#fc9c74" stroke-width="17.43" stroke-opacity="1"/>
<line x1="1032.26" y1="523.35" x2="1032.74" y2="526.18" stroke="#fd9e77" stroke-width="17.35" stroke-opacity="1"/>
<line x1="1032.51" y1="524.75" x2="1032.96" y2="527.65" stroke="#fda07a" stroke-width="17.26" stroke-opacity="1"/>
<line x1="1032.74" y1="526.18" x2="1033.17" y2="529.15" stroke="#fda27d" stroke-width="17.16" stroke-opacity="1"/>
<line x1="1032.96" y1="527.65" x2="1033.36" y2="530.67" stroke="#fda480" stroke-width="17.07" stroke-opacity="1"/>
<line x1="1033.17" y1="529.15" x2="1033.54" y2="532.22" stroke="#fda683" stroke-width="16.97" stroke-opacity="1"/>
<line x1="1033.36" y1="530.67" x2="1033.72" y2="533.79" stroke="#fda886" stroke-width="16.88" stroke-opacity="1"/>
<line x1="1033.54" y1="532.22" x2="1033.88" y2="535.37" stroke="#fdaa89" stroke-width="16.78" stroke-opacity="1"/>
<line x1="1033.72" y1="533.79" x2="1034.04" y2="536.96" stroke="#fdac8c" stroke-width="16.68" stroke-opacity="1"/>
<line x1="1033.88" y1="535.37" x2="1034.2" y2="538.57" stroke="#fdae90" stroke-width="16.58" stroke-opacity="1"/>
<line x1="1034.04" y1="536.96" x2="1034.35" y2="540.18" stroke="#fdb093" stroke-width="16.47" stroke-opacity="1"/>
<line x1="1034.2" y1="538.57" x2="1034.5" y2="541.79" stroke="#fdb295" stroke-width="16.35" stroke-opacity="1"/>
<line x1="1034.35" y1="540.18" x2="1034.65" y2="543.4" stroke="#fdb397" stroke-width="16.23" stroke-opacity="1"/>
<line x1="1034.5" y1="541.79" x2="1034.8" y2="545" stroke="#fdb599" stroke-width="16.11" stroke-opacity="1"/>
<line x1="1034.65" y1="543.4" x2="1034.94" y2="546.5" stroke="#fdb79b" stroke-width="15.99" stroke-opacity="1"/>
<line x1="1034.8" y1="545" x2="1035.07" y2="548.01" stroke="#fdb89d" stroke-width="15.88" stroke-opacity="1"/>
<line x1="1034.94" y1="546.5" x2="1035.2" y2="549.52" stroke="#fdb9a0" stroke-width="15.76" stroke-opacity="1"/>
<line x1="1035.07" y1="548.01" x2="1035.32" y2="551.04" stroke="#fdbba2" stroke-width="15.65" stroke-opacity="1"/>
<line x1="1035.2" y1="549.52" x2="1035.44" y2="552.56" stroke="#fdbca4" stroke-width="15.54" stroke-opacity="1"/>
<line x1="1035.32" y1="551.04" x2="1035.55" y2="554.1" stroke="#fdbea6" stroke-width="15.43" stroke-opacity="1"/>
<line x1="1035.44" y1="552.56" x2="1035.66" y2="555.64" stroke="#fdbfa8" stroke-width="15.31" stroke-opacity="1"/>
<line x1="1035.55" y1="554.1" x2="1035.76" y2="557.19" stroke="#fdc1aa" stroke-width="15.2" stroke-opacity="1"/>
<line x1="1035.66" y1="555.64" x2="1035.86" y2="558.75" stroke="#fdc2ac" stroke-width="15.08" stroke-opacity="1"/>
<line x1="1035.76" y1="557.19" x2="1035.96" y2="560.32" stroke="#fdc4ae" stroke-width="14.97" stroke-opacity="1"/>
<line x1="1035.86" y1="558.75" x2="1036.06" y2="561.9" stroke="#fdc5b0" stroke-width="14.85" stroke-opacity="1"/>
<line x1="1035.96" y1="560.32" x2="1036.15" y2="563.49" stroke="#fdc7b2" stroke-width="14.74" stroke-opacity="1"/>
<line x1="1036.06" y1="561.9" x2="1036.24" y2="565.1" stroke="#fdc8b5" stroke-width="14.62" stroke-opacity="1"/>
<line x1="1036.15" y1="563.49" x2="1036.33" y2="566.72" stroke="#fdcab7" stroke-width="14.5" stroke-opacity="1"/>
<line x1="1036.24" y1="565.1" x2="1036.41" y2="568.35" stroke="#fdcbb9" stroke-width="14.45" stroke-opacity="1"/>
<line x1="1036.33" y1="566.72" x2="1036.5" y2="570" stroke="#fdcdbb" stroke-width="14.4" stroke-opacity="1"/>
<line x1="1036.41" y1="568.35" x2="1036.57" y2="571.52" stroke="#fdcebd" stroke-width="14.35" stroke-opacity="1"/>
<line x1="1036.5" y1="570" x2="1036.65" y2="573.13" stroke="#fdd0c0" stroke-width="14.31" stroke-opacity="1"/>
<line x1="1036.57" y1="571.52" x2="1036.72" y2="574.82" stroke="#fdd1c2" stroke-width="14.26" stroke-opacity="1"/>
<line x1="1036.65" y1="573.13" x2="1036.79" y2="576.56" stroke="#fdd3c4" stroke-width="14.21" stroke-opacity="1"/>
<line x1="1036.72" y1="574.82" x2="1036.86" y2="578.34" stroke="#fdd4c6" stroke-width="14.16" stroke-opacity="1"/>
<line x1="1036.79" y1="576.56" x2="1036.92" y2="580.15" stroke="#fdd6c8" stroke-width="14.11" stroke-opacity="1"/>
<line x1="1036.86" y1="578.34" x2="1036.99" y2="581.96" stroke="#fdd8ca" stroke-width="14.06" stroke-opacity="0.93"/>
<line x1="1036.92" y1="580.15" x2="1037.05" y2="583.78" stroke="#fddacd" stroke-width="14" stroke-opacity="0.84"/>
<line x1="1036.99" y1="581.96" x2="1037.11" y2="585.56" stroke="#fddbcf" stroke-width="13.95" stroke-opacity="0.75"/>
<line x1="1037.05" y1="583.78" x2="1037.16" y2="587.31" stroke="#feddd1" stroke-width="13.9" stroke-opacity="0.66"/>
<line x1="1037.11" y1="585.56" x2="1037.22" y2="589.01" stroke="#fedfd3" stroke-width="13.84" stroke-opacity="0.57"/>
<line x1="1037.16" y1="587.31" x2="1037.27" y2="590.63" stroke="#fee1d6" stroke-width="13.79" stroke-opacity="0.49"/>
<line x1="1037.22" y1="589.01" x2="1037.31" y2="592.17" stroke="#fee2d8" stroke-width="13.74" stroke-opacity="0.4"/>
<line x1="1037.27" y1="590.63" x2="1037.36" y2="593.6" stroke="#fee4da" stroke-width="13.7" stroke-opacity="0.33"/>
<line x1="1037.31" y1="592.17" x2="1037.4" y2="594.92" stroke="#fee5dc" stroke-width="13.65" stroke-opacity="0.25"/>
<line x1="1037.36" y1="593.6" x2="1037.44" y2="596.1" stroke="#fee6dd" stroke-width="13.61" stroke-opacity="0.18"/>
<line x1="1037.4" y1="594.92" x2="1037.47" y2="597.13" stroke="#fee8df" stroke-width="13.57" stroke-opacity="0.12"/>
<line x1="1037.44" y1="596.1" x2="1037.5" y2="598" stroke="#fee9e0" stroke-width="13.54" stroke-opacity="0.07"/>
<line x1="1037.47" y1="597.13" x2="1037.5" y2="598" stroke="#feeae1" stroke-width="13.51" stroke-opacity="0.02"/>
<line x1="1000.5" y1="510.5" x2="1002.14" y2="512.6" stroke="#3c86fb" stroke-width="15.07"/>
<line x1="1001.18" y1="511.38" x2="1003.26" y2="514.05" stroke="#3d86fb" stroke-width="15.23"/>
<line x1="1002.14" y1="512.6" x2="1004.45" y2="515.62" stroke="#3d87fb" stroke-width="15.43"/>
<line x1="1003.26" y1="514.05" x2="1005.6" y2="517.2" stroke="#3e87fb" stroke-width="15.66"/>
<line x1="1004.45" y1="515.62" x2="1006.38" y2="518.31" stroke="#3e87fb" stroke-width="15.89"/>
<line x1="1005.6" y1="517.2" x2="1007.17" y2="519.45" stroke="#3f88fb" stroke-width="16.09"/>
<line x1="1006.38" y1="518.31" x2="1007.98" y2="520.63" stroke="#3f88fb" stroke-width="16.26"/>
<line x1="1007.17" y1="519.45" x2="1008.8" y2="521.85" stroke="#3f88fb" stroke-width="16.43"/>
<line x1="1007.98" y1="520.63" x2="1009.64" y2="523.15" stroke="#4088fb" stroke-width="16.6"/>
<line x1="1008.8" y1="521.85" x2="1010.51" y2="524.53" stroke="#4089fb" stroke-width="16.78"/>
<line x1="1009.64" y1="523.15" x2="1011.4" y2="526" stroke="#4189fb" stroke-width="16.97"/>
<line x1="1010.51" y1="524.53" x2="1012.12" y2="527.22" stroke="#4189fb" stroke-width="17.05"/>
<line x1="1011.4" y1="526" x2="1012.87" y2="528.5" stroke="#428afb" stroke-width="17.1"/>
<line x1="1012.12" y1="527.22" x2="1013.65" y2="529.84" stroke="#428afb" stroke-width="17.14"/>
<line x1="1012.87" y1="528.5" x2="1014.44" y2="531.22" stroke="#438afb" stroke-width="17.19"/>
<line x1="1013.65" y1="529.84" x2="1015.23" y2="532.64" stroke="#438afb" stroke-width="17.24"/>
<line x1="1014.44" y1="531.22" x2="1016.02" y2="534.1" stroke="#438bfb" stroke-width="17.29"/>
<line x1="1015.23" y1="532.64" x2="1016.8" y2="535.58" stroke="#448bfb" stroke-width="17.35"/>
<line x1="1016.02" y1="534.1" x2="1017.56" y2="537.08" stroke="#448bfb" stroke-width="17.4"/>
<line x1="1016.8" y1="535.58" x2="1018.3" y2="538.6" stroke="#458cfb" stroke-width="17.45"/>
<line x1="1017.56" y1="537.08" x2="1018.95" y2="539.98" stroke="#458cfb" stroke-width="17.51"/>
<line x1="1018.3" y1="538.6" x2="1019.6" y2="541.39" stroke="#468cfb" stroke-width="17.56"/>
<line x1="1018.95" y1="539.98" x2="1020.24" y2="542.82" stroke="#468cfb" stroke-width="17.61"/>
<line x1="1019.6" y1="541.39" x2="1020.87" y2="544.28" stroke="#478dfb" stroke-width="17.66"/>
<line x1="1020.24" y1="542.82" x2="1021.49" y2="545.75" stroke="#478dfb" stroke-width="17.71"/>
<line x1="1020.87" y1="544.28" x2="1022.11" y2="547.24" stroke="#488dfb" stroke-width="17.76"/>
<line x1="1021.49" y1="545.75" x2="1022.71" y2="548.76" stroke="#488efb" stroke-width="17.78"/>
<line x1="1022.11" y1="547.24" x2="1023.29" y2="550.29" stroke="#498efb" stroke-width="17.68"/>
<line x1="1022.71" y1="548.76" x2="1023.85" y2="551.84" stroke="#498efb" stroke-width="17.58"/>
<line x1="1023.29" y1="550.29" x2="1024.4" y2="553.4" stroke="#4a8efb" stroke-width="17.47"/>
<line x1="1023.85" y1="551.84" x2="1024.88" y2="554.81" stroke="#4a8ffb" stroke-width="17.37"/>
<line x1="1024.4" y1="553.4" x2="1025.35" y2="556.2" stroke="#4a8ffb" stroke-width="17.27"/>
<line x1="1024.88" y1="554.81" x2="1025.81" y2="557.57" stroke="#4b8ffb" stroke-width="17.18"/>
<line x1="1025.35" y1="556.2" x2="1026.26" y2="558.95" stroke="#4b90fb" stroke-width="17.09"/>
<line x1="1025.81" y1="557.57" x2="1026.69" y2="560.35" stroke="#4c90fb" stroke-width="17"/>
<line x1="1026.26" y1="558.95" x2="1027.12" y2="561.79" stroke="#4c90fb" stroke-width="16.91"/>
<line x1="1026.69" y1="560.35" x2="1027.52" y2="563.27" stroke="#4e91fb" stroke-width="16.81"/>
<line x1="1027.12" y1="561.79" x2="1027.92" y2="564.82" stroke="#4f92fb" stroke-width="16.72"/>
<line x1="1027.52" y1="563.27" x2="1028.29" y2="566.45" stroke="#5093fb" stroke-width="16.62"/>
<line x1="1027.92" y1="564.82" x2="1028.66" y2="568.17" stroke="#5193fb" stroke-width="16.52"/>
<line x1="1028.29" y1="566.45" x2="1029" y2="570" stroke="#5394fb" stroke-width="16.41"/>
<line x1="1028.66" y1="568.17" x2="1029.23" y2="571.29" stroke="#5495fb" stroke-width="16.3"/>
<line x1="1029" y1="570" x2="1029.45" y2="572.57" stroke="#5696fb" stroke-width="16.2"/>
<line x1="1029.23" y1="571.29" x2="1029.67" y2="573.85" stroke="#5797fb" stroke-width="16.12"/>
<line x1="1029.45" y1="572.57" x2="1029.88" y2="575.14" stroke="#5897fb" stroke-width="16.04"/>
<line x1="1029.67" y1="573.85" x2="1030.08" y2="576.45" stroke="#5998fb" stroke-width="15.96"/>
<line x1="1029.88" y1="575.14" x2="1030.28" y2="577.79" stroke="#5a99fb" stroke-width="15.87"/>
<line x1="1030.08" y1="576.45" x2="1030.47" y2="579.17" stroke="#5b99fb" stroke-width="15.79"/>
<line x1="1030.28" y1="577.79" x2="1030.65" y2="580.6" stroke="#5c9afb" stroke-width="15.7"/>
<line x1="1030.47" y1="579.17" x2="1030.82" y2="582.09" stroke="#5d9bfb" stroke-width="15.62"/>
<line x1="1030.65" y1="580.6" x2="1030.99" y2="583.64" stroke="#5e9bfb" stroke-width="15.52"/>
<line x1="1030.82" y1="582.09" x2="1031.15" y2="585.28" stroke="#609cfb" stroke-width="15.43"/>
<line x1="1030.99" y1="583.64" x2="1031.3" y2="587.01" stroke="#619dfb" stroke-width="15.33"/>
<line x1="1031.15" y1="585.28" x2="1031.44" y2="588.83" stroke="#629efb" stroke-width="15.22"/>
<line x1="1031.3" y1="587.01" x2="1031.57" y2="590.76" stroke="#649ffb" stroke-width="15.2"/>
<line x1="1031.44" y1="588.83" x2="1031.69" y2="592.82" stroke="#65a0fb" stroke-width="15.2"/>
<line x1="1031.57" y1="590.76" x2="1031.8" y2="595" stroke="#67a1fb" stroke-width="15.2"/>
<line x1="1031.69" y1="592.82" x2="1031.85" y2="596.21" stroke="#69a2fb" stroke-width="15.2"/>
<line x1="1031.8" y1="595" x2="1031.9" y2="597.5" stroke="#6aa3fb" stroke-width="15.2"/>
<line x1="1031.85" y1="596.21" x2="1031.95" y2="598.88" stroke="#6ba3fb" stroke-width="15.2"/>
<line x1="1031.9" y1="597.5" x2="1031.99" y2="600.33" stroke="#6ca4fb" stroke-width="15.2"/>
<line x1="1031.95" y1="598.88" x2="1032.03" y2="601.85" stroke="#6da5fb" stroke-width="15.2"/>
<line x1="1031.99" y1="600.33" x2="1032.06" y2="603.42" stroke="#6fa5fc" stroke-width="15.2"/>
<line x1="1032.03" y1="601.85" x2="1032.1" y2="605.05" stroke="#70a6fc" stroke-width="15.2"/>
<line x1="1032.06" y1="603.42" x2="1032.13" y2="606.73" stroke="#71a7fc" stroke-width="15.2"/>
<line x1="1032.1" y1="605.05" x2="1032.15" y2="608.44" stroke="#73a8fc" stroke-width="15.2"/>
<line x1="1032.13" y1="606.73" x2="1032.18" y2="610.19" stroke="#74a9fc" stroke-width="15.2"/>
<line x1="1032.15" y1="608.44" x2="1032.2" y2="611.96" stroke="#75aafc" stroke-width="15.2"/>
<line x1="1032.18" y1="610.19" x2="1032.22" y2="613.75" stroke="#77aafc" stroke-width="15.2"/>
<line x1="1032.2" y1="611.96" x2="1032.24" y2="615.55" stroke="#78abfc" stroke-width="15.2"/>
<line x1="1032.22" y1="613.75" x2="1032.25" y2="617.36" stroke="#7aacfc" stroke-width="15.2"/>
<line x1="1032.24" y1="615.55" x2="1032.27" y2="619.16" stroke="#7badfc" stroke-width="15.2"/>
<line x1="1032.25" y1="617.36" x2="1032.28" y2="620.96" stroke="#7daefc" stroke-width="15.2"/>
<line x1="1032.27" y1="619.16" x2="1032.29" y2="622.74" stroke="#7eaffc" stroke-width="15.2"/>
<line x1="1032.28" y1="620.96" x2="1032.3" y2="624.49" stroke="#80b0fc" stroke-width="15.2"/>
<line x1="1032.29" y1="622.74" x2="1032.31" y2="626.21" stroke="#81b1fc" stroke-width="15.2"/>
<line x1="1032.3" y1="624.49" x2="1032.32" y2="627.9" stroke="#82b2fc" stroke-width="15.2"/>
<line x1="1032.31" y1="626.21" x2="1032.33" y2="629.54" stroke="#84b2fc" stroke-width="15.2"/>
<line x1="1032.32" y1="627.9" x2="1032.34" y2="631.13" stroke="#85b3fc" stroke-width="15.2"/>
<line x1="1032.33" y1="629.54" x2="1032.34" y2="632.67" stroke="#86b4fc" stroke-width="15.2"/>
<line x1="1032.34" y1="631.13" x2="1032.35" y2="634.13" stroke="#88b5fc" stroke-width="15.2"/>
<line x1="1032.34" y1="632.67" x2="1032.35" y2="635.53" stroke="#89b6fc" stroke-width="15.2"/>
<line x1="1032.35" y1="634.13" x2="1032.36" y2="636.85" stroke="#8ab6fc" stroke-width="15.2"/>
<line x1="1032.35" y1="635.53" x2="1032.37" y2="638.08" stroke="#8bb7fc" stroke-width="15.2"/>
<line x1="1032.36" y1="636.85" x2="1032.37" y2="639.21" stroke="#8cb8fc" stroke-width="15.2"/>
<line x1="1032.37" y1="638.08" x2="1032.38" y2="640.25" stroke="#8db8fc" stroke-width="15.2"/>
<line x1="1032.37" y1="639.21" x2="1032.39" y2="641.18" stroke="#8eb9fc" stroke-width="15.2"/>
<line x1="1032.38" y1="640.25" x2="1032.4" y2="642" stroke="#8fb9fc" stroke-width="15.2"/>
<line x1="1032.39" y1="641.18" x2="1032.4" y2="642" stroke="#90bafc" stroke-width="15.2"/>
<polygon points="979,494.7 988.4,487.8 1009,511 999.6,519" fill="#3c86fb" stroke="#3a3a3a" stroke-width="2" stroke-linejoin="miter"/>
<polygon points="965,469 1000.5,473.5 998.7,487.3 963.5,484" fill="#fc5a08" stroke="#3a3a3a" stroke-width="1.9" stroke-linejoin="miter"/>
<polygon points="938.24,494.36 948.34,492.94 949.76,503.04 939.66,504.46" fill="#b2b2b2" stroke="#3a3a3a" stroke-width="1.9" stroke-linejoin="miter"/>
<polygon points="936.05,515.95 945.95,515.95 945.95,525.85 936.05,525.85" fill="#b2b2b2" stroke="#3a3a3a" stroke-width="1.9" stroke-linejoin="miter"/>
<polygon points="938.18,538.16 947.64,541.98 943.82,551.44 934.36,547.62" fill="#b2b2b2" stroke="#3a3a3a" stroke-width="1.9" stroke-linejoin="miter"/>
<polygon points="936.95,558.85 946.85,558.85 946.85,568.75 936.95,568.75" fill="#b2b2b2" stroke="#3a3a3a" stroke-width="1.9" stroke-linejoin="miter"/>
<polygon points="1026.9,609.1 1037.5,609.1 1037.5,619.7 1026.9,619.7" fill="#00ee00" stroke="#3a3a3a" stroke-width="2" stroke-linejoin="miter"/>
<polygon points="1056.35,610.65 1065.25,614.25 1061.65,623.15 1052.75,619.55" fill="#00ee00" stroke="#3a3a3a" stroke-width="1.8" stroke-linejoin="miter"/>
<rect x="890" y="355" width="290" height="8.1" fill="#fff"/>
</g>
<path fill-rule="evenodd" fill="#7a7a7a" d="M895.1 359.2H1176V640H895.1ZM897.1 361.9H1173.2V638H897.1Z"/>
<g opacity="0.999">
<text transform="translate(146.6,42.9) scale(1.0143,1.0350)" x="0" y="0" font-size="44.3" text-anchor="middle" font-family="Liberation Sans, sans-serif" fill="#000">RAW</text>
<text transform="translate(440.7,42.7) scale(0.9800,1.0300)" x="0" y="0" font-size="44.3" text-anchor="middle" font-family="Liberation Sans, sans-serif" fill="#000">CAT</text>
<text transform="translate(738.7,42.9) scale(0.9940,1.0300)" x="0" y="0" font-size="44.3" text-anchor="middle" font-family="Liberation Sans, sans-serif" fill="#000">Rule</text>
<text transform="translate(1045.2,45.8) scale(0.9780,1.0420)" x="0" y="0" font-size="44.3" font-weight="bold" text-anchor="middle" font-family="Liberation Sans, sans-serif" fill="#000">SAGE</text>
<rect x="78.7" y="661.7" width="67.7" height="24.4" fill="#fc5a08" stroke="#000" stroke-width="3"/>
<rect x="508.6" y="661.7" width="68.8" height="24.4" fill="#3f88fb" stroke="#000" stroke-width="3"/>
<rect x="828.9" y="661.7" width="68.8" height="24.4" fill="#a9afbd" stroke="#000" stroke-width="3"/>
<text transform="translate(155.1,686) scale(1.0010,1.0540)" x="0" y="0" font-size="34" text-anchor="start" font-family="Liberation Sans, sans-serif" fill="#000">Adversarial Vehicle</text>
<text transform="translate(585.2,686) scale(1.0040,1.0540)" x="0" y="0" font-size="34" text-anchor="start" font-family="Liberation Sans, sans-serif" fill="#000">Ego Vehicle</text>
<text transform="translate(906,686) scale(0.9975,1.0540)" x="0" y="0" font-size="34" text-anchor="start" font-family="Liberation Sans, sans-serif" fill="#000">Other Vehicle</text>
</g>
</svg>
</body></html>
